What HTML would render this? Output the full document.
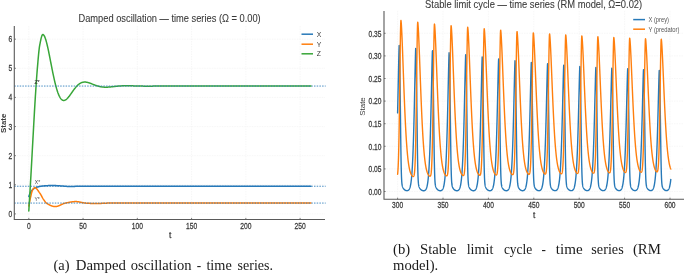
<!DOCTYPE html>
<html><head><meta charset="utf-8"><style>
html,body{margin:0;padding:0;background:#fff;}
body{width:685px;height:274px;overflow:hidden;}
svg{display:block;will-change:transform;}
</style></head><body>
<svg width="685" height="274" viewBox="0 0 685 274">
<rect width="685" height="274" fill="#fff"/>
<line x1="28.80" y1="26.00" x2="28.80" y2="219.50" stroke="#f3f3f3" stroke-width="0.7" stroke-dasharray="1.5,1"/>
<line x1="83.06" y1="26.00" x2="83.06" y2="219.50" stroke="#f3f3f3" stroke-width="0.7" stroke-dasharray="1.5,1"/>
<line x1="137.32" y1="26.00" x2="137.32" y2="219.50" stroke="#f3f3f3" stroke-width="0.7" stroke-dasharray="1.5,1"/>
<line x1="191.58" y1="26.00" x2="191.58" y2="219.50" stroke="#f3f3f3" stroke-width="0.7" stroke-dasharray="1.5,1"/>
<line x1="245.84" y1="26.00" x2="245.84" y2="219.50" stroke="#f3f3f3" stroke-width="0.7" stroke-dasharray="1.5,1"/>
<line x1="300.10" y1="26.00" x2="300.10" y2="219.50" stroke="#f3f3f3" stroke-width="0.7" stroke-dasharray="1.5,1"/>
<line x1="14.30" y1="213.90" x2="325.00" y2="213.90" stroke="#f3f3f3" stroke-width="0.7" stroke-dasharray="1.5,1"/>
<line x1="14.30" y1="184.78" x2="325.00" y2="184.78" stroke="#f3f3f3" stroke-width="0.7" stroke-dasharray="1.5,1"/>
<line x1="14.30" y1="155.66" x2="325.00" y2="155.66" stroke="#f3f3f3" stroke-width="0.7" stroke-dasharray="1.5,1"/>
<line x1="14.30" y1="126.54" x2="325.00" y2="126.54" stroke="#f3f3f3" stroke-width="0.7" stroke-dasharray="1.5,1"/>
<line x1="14.30" y1="97.42" x2="325.00" y2="97.42" stroke="#f3f3f3" stroke-width="0.7" stroke-dasharray="1.5,1"/>
<line x1="14.30" y1="68.30" x2="325.00" y2="68.30" stroke="#f3f3f3" stroke-width="0.7" stroke-dasharray="1.5,1"/>
<line x1="14.30" y1="39.18" x2="325.00" y2="39.18" stroke="#f3f3f3" stroke-width="0.7" stroke-dasharray="1.5,1"/>
<polyline points="28.80,196.43 29.02,195.85 29.23,195.29 29.45,194.75 29.67,194.23 29.89,193.73 30.10,193.27 30.32,192.85 30.54,192.46 30.75,192.11 30.97,191.77 31.19,191.44 31.40,191.13 31.62,190.82 31.84,190.54 32.06,190.27 32.27,190.02 32.49,189.78 32.71,189.56 32.92,189.37 33.14,189.19 33.36,189.03 33.57,188.87 33.79,188.73 34.01,188.58 34.23,188.45 34.44,188.31 34.66,188.19 34.88,188.07 35.09,187.95 35.31,187.84 35.53,187.74 35.75,187.64 35.96,187.55 36.18,187.46 36.40,187.37 36.61,187.30 36.83,187.22 37.05,187.15 37.26,187.09 37.48,187.03 37.70,186.97 37.92,186.91 38.13,186.85 38.35,186.80 38.57,186.74 38.78,186.69 39.00,186.64 39.22,186.58 39.43,186.53 39.65,186.49 39.87,186.44 40.09,186.39 40.30,186.35 40.52,186.31 40.74,186.27 40.95,186.23 41.17,186.19 41.39,186.15 41.61,186.12 41.82,186.09 42.04,186.06 42.26,186.03 42.47,186.00 42.69,185.98 42.91,185.95 43.12,185.93 43.34,185.91 43.56,185.89 43.78,185.88 43.99,185.86 44.21,185.85 44.43,185.83 44.64,185.82 44.86,185.80 45.08,185.79 45.30,185.78 45.51,185.76 45.73,185.75 45.95,185.74 46.16,185.72 46.38,185.71 46.60,185.70 46.81,185.69 47.03,185.67 47.25,185.66 47.47,185.65 47.68,185.64 47.90,185.63 48.12,185.62 48.33,185.61 48.55,185.60 48.77,185.59 48.98,185.58 49.20,185.57 49.42,185.57 49.64,185.56 49.85,185.55 50.07,185.55 50.29,185.54 50.50,185.54 50.72,185.53 50.94,185.53 51.16,185.52 51.37,185.52 51.59,185.51 51.81,185.51 52.02,185.51 52.24,185.51 52.46,185.51 52.67,185.51 52.89,185.51 53.11,185.51 53.33,185.51 53.54,185.52 53.76,185.52 53.98,185.52 54.19,185.53 54.41,185.54 54.63,185.54 54.84,185.55 55.06,185.56 55.28,185.57 55.50,185.58 55.71,185.59 55.93,185.60 56.15,185.61 56.36,185.63 56.58,185.64 56.80,185.65 57.02,185.66 57.23,185.68 57.45,185.69 57.67,185.70 57.88,185.72 58.10,185.73 58.32,185.75 58.53,185.76 58.75,185.78 58.97,185.79 59.19,185.81 59.40,185.82 59.62,185.84 59.84,185.85 60.05,185.86 60.27,185.88 60.49,185.89 60.70,185.91 60.92,185.92 61.14,185.93 61.36,185.94 61.57,185.96 61.79,185.97 62.01,185.99 62.22,186.00 62.44,186.02 62.66,186.04 62.88,186.05 63.09,186.07 63.31,186.09 63.53,186.11 63.74,186.13 63.96,186.15 64.18,186.17 64.39,186.19 64.61,186.21 64.83,186.23 65.05,186.24 65.26,186.26 65.48,186.28 65.70,186.30 65.91,186.32 66.13,186.33 66.35,186.35 66.56,186.37 66.78,186.38 67.00,186.40 67.22,186.41 67.43,186.42 67.65,186.43 67.87,186.44 68.08,186.45 68.30,186.46 68.52,186.46 68.74,186.47 68.95,186.47 69.17,186.47 69.39,186.47 69.60,186.47 69.82,186.47 70.04,186.47 70.25,186.46 70.47,186.46 70.69,186.46 70.91,186.46 71.12,186.46 71.34,186.45 71.56,186.45 71.77,186.45 71.99,186.44 72.21,186.44 72.43,186.44 72.64,186.43 72.86,186.43 73.08,186.42 73.29,186.42 73.51,186.41 73.73,186.41 73.94,186.41 74.16,186.40 74.38,186.40 74.60,186.39 74.81,186.38 75.03,186.38 75.25,186.37 75.46,186.37 75.68,186.36 75.90,186.36 76.11,186.35 76.33,186.35 76.55,186.34 76.77,186.34 76.98,186.33 77.20,186.33 77.42,186.32 77.63,186.31 77.85,186.31 78.07,186.30 78.29,186.30 78.50,186.29 78.72,186.29 78.94,186.29 79.15,186.28 79.37,186.28 79.59,186.27 79.80,186.27 80.02,186.26 80.24,186.26 80.46,186.26 80.67,186.25 80.89,186.25 81.11,186.25 81.32,186.25 81.54,186.24 81.76,186.24 81.97,186.24 82.19,186.24 82.41,186.24 82.63,186.24 82.84,186.24 83.06,186.24 83.28,186.24 83.49,186.24 83.71,186.24 83.93,186.24 84.15,186.24 84.36,186.24 84.58,186.24 84.80,186.24 85.01,186.24 85.23,186.24 85.45,186.24 85.66,186.24 85.88,186.24 86.10,186.24 86.32,186.24 86.53,186.24 86.75,186.24 86.97,186.24 87.18,186.24 87.40,186.24 87.62,186.24 87.83,186.24 88.05,186.24 88.27,186.24 88.49,186.24 88.70,186.24 88.92,186.24 89.14,186.24 89.35,186.24 89.57,186.24 89.79,186.24 90.01,186.24 90.22,186.24 90.44,186.24 90.66,186.24 90.87,186.24 91.09,186.24 91.31,186.24 91.52,186.24 91.74,186.24 91.96,186.24 92.18,186.24 92.39,186.24 92.61,186.24 92.83,186.24 93.04,186.24 93.26,186.24 93.48,186.24 93.69,186.24 93.91,186.24 94.13,186.24 94.35,186.24 94.56,186.24 94.78,186.24 95.00,186.24 95.21,186.24 95.43,186.24 95.65,186.24 95.87,186.24 96.08,186.24 96.30,186.24 96.52,186.24 96.73,186.24 96.95,186.24 97.17,186.24 97.38,186.24 97.60,186.24 97.82,186.24 98.04,186.24 98.25,186.24 98.47,186.24 98.69,186.24 98.90,186.24 99.12,186.24 99.34,186.24 99.56,186.24 99.77,186.24 99.99,186.24 100.21,186.24 100.42,186.24 100.64,186.24 100.86,186.24 101.07,186.24 101.29,186.24 101.51,186.24 101.73,186.24 101.94,186.24 102.16,186.24 102.38,186.24 102.59,186.24 102.81,186.24 103.03,186.24 103.24,186.24 103.46,186.24 103.68,186.24 103.90,186.24 104.11,186.24 104.33,186.24 104.55,186.24 104.76,186.24 104.98,186.24 105.20,186.24 105.42,186.24 105.63,186.24 105.85,186.24 106.07,186.24 106.28,186.24 106.50,186.24 106.72,186.24 106.93,186.24 107.15,186.24 107.37,186.24 107.59,186.24 107.80,186.24 108.02,186.24 108.24,186.24 108.45,186.24 108.67,186.24 108.89,186.24 109.10,186.24 109.32,186.24 109.54,186.24 109.76,186.24 109.97,186.24 110.19,186.24 110.41,186.24 110.62,186.24 110.84,186.24 111.06,186.24 111.28,186.24 111.49,186.24 111.71,186.24 111.93,186.24 112.14,186.24 112.36,186.24 112.58,186.24 112.79,186.24 113.01,186.24 113.23,186.24 113.45,186.24 113.66,186.24 113.88,186.24 114.10,186.24 114.31,186.24 114.53,186.24 114.75,186.24 114.96,186.24 115.18,186.24 115.40,186.24 115.62,186.24 115.83,186.24 116.05,186.24 116.27,186.24 116.48,186.24 116.70,186.24 116.92,186.24 117.14,186.24 117.35,186.24 117.57,186.24 117.79,186.24 118.00,186.24 118.22,186.24 118.44,186.24 118.65,186.24 118.87,186.24 119.09,186.24 119.31,186.24 119.52,186.24 119.74,186.24 119.96,186.24 120.17,186.24 120.39,186.24 120.61,186.24 120.82,186.24 121.04,186.24 121.26,186.24 121.48,186.24 121.69,186.24 121.91,186.24 122.13,186.24 122.34,186.24 122.56,186.24 122.78,186.24 123.00,186.24 123.21,186.24 123.43,186.24 123.65,186.24 123.86,186.24 124.08,186.24 124.30,186.24 124.51,186.24 124.73,186.24 124.95,186.24 125.17,186.24 125.38,186.24 125.60,186.24 125.82,186.24 126.03,186.24 126.25,186.24 126.47,186.24 126.69,186.24 126.90,186.24 127.12,186.24 127.34,186.24 127.55,186.24 127.77,186.24 127.99,186.24 128.20,186.24 128.42,186.24 128.64,186.24 128.86,186.24 129.07,186.24 129.29,186.24 129.51,186.24 129.72,186.24 129.94,186.24 130.16,186.24 130.37,186.24 130.59,186.24 130.81,186.24 131.03,186.24 131.24,186.24 131.46,186.24 131.68,186.24 131.89,186.24 132.11,186.24 132.33,186.24 132.55,186.24 132.76,186.24 132.98,186.24 133.20,186.24 133.41,186.24 133.63,186.24 133.85,186.24 134.06,186.24 134.28,186.24 134.50,186.24 134.72,186.24 134.93,186.24 135.15,186.24 135.37,186.24 135.58,186.24 135.80,186.24 136.02,186.24 136.23,186.24 136.45,186.24 136.67,186.24 136.89,186.24 137.10,186.24 137.32,186.24 137.54,186.24 137.75,186.24 137.97,186.24 138.19,186.24 138.41,186.24 138.62,186.24 138.84,186.24 139.06,186.24 139.27,186.24 139.49,186.24 139.71,186.24 139.92,186.24 140.14,186.24 140.36,186.24 140.58,186.24 140.79,186.24 141.01,186.24 141.23,186.24 141.44,186.24 141.66,186.24 141.88,186.24 142.09,186.24 142.31,186.24 142.53,186.24 142.75,186.24 142.96,186.24 143.18,186.24 143.40,186.24 143.61,186.24 143.83,186.24 144.05,186.24 144.27,186.24 144.48,186.24 144.70,186.24 144.92,186.24 145.13,186.24 145.35,186.24 145.57,186.24 145.78,186.24 146.00,186.24 146.22,186.24 146.44,186.24 146.65,186.24 146.87,186.24 147.09,186.24 147.30,186.24 147.52,186.24 147.74,186.24 147.95,186.24 148.17,186.24 148.39,186.24 148.61,186.24 148.82,186.24 149.04,186.24 149.26,186.24 149.47,186.24 149.69,186.24 149.91,186.24 150.13,186.24 150.34,186.24 150.56,186.24 150.78,186.24 150.99,186.24 151.21,186.24 151.43,186.24 151.64,186.24 151.86,186.24 152.08,186.24 152.30,186.24 152.51,186.24 152.73,186.24 152.95,186.24 153.16,186.24 153.38,186.24 153.60,186.24 153.82,186.24 154.03,186.24 154.25,186.24 154.47,186.24 154.68,186.24 154.90,186.24 155.12,186.24 155.33,186.24 155.55,186.24 155.77,186.24 155.99,186.24 156.20,186.24 156.42,186.24 156.64,186.24 156.85,186.24 157.07,186.24 157.29,186.24 157.50,186.24 157.72,186.24 157.94,186.24 158.16,186.24 158.37,186.24 158.59,186.24 158.81,186.24 159.02,186.24 159.24,186.24 159.46,186.24 159.68,186.24 159.89,186.24 160.11,186.24 160.33,186.24 160.54,186.24 160.76,186.24 160.98,186.24 161.19,186.24 161.41,186.24 161.63,186.24 161.85,186.24 162.06,186.24 162.28,186.24 162.50,186.24 162.71,186.24 162.93,186.24 163.15,186.24 163.36,186.24 163.58,186.24 163.80,186.24 164.02,186.24 164.23,186.24 164.45,186.24 164.67,186.24 164.88,186.24 165.10,186.24 165.32,186.24 165.54,186.24 165.75,186.24 165.97,186.24 166.19,186.24 166.40,186.24 166.62,186.24 166.84,186.24 167.05,186.24 167.27,186.24 167.49,186.24 167.71,186.24 167.92,186.24 168.14,186.24 168.36,186.24 168.57,186.24 168.79,186.24 169.01,186.24 169.22,186.24 169.44,186.24 169.66,186.24 169.88,186.24 170.09,186.24 170.31,186.24 170.53,186.24 170.74,186.24 170.96,186.24 171.18,186.24 171.40,186.24 171.61,186.24 171.83,186.24 172.05,186.24 172.26,186.24 172.48,186.24 172.70,186.24 172.91,186.24 173.13,186.24 173.35,186.24 173.57,186.24 173.78,186.24 174.00,186.24 174.22,186.24 174.43,186.24 174.65,186.24 174.87,186.24 175.08,186.24 175.30,186.24 175.52,186.24 175.74,186.24 175.95,186.24 176.17,186.24 176.39,186.24 176.60,186.24 176.82,186.24 177.04,186.24 177.26,186.24 177.47,186.24 177.69,186.24 177.91,186.24 178.12,186.24 178.34,186.24 178.56,186.24 178.77,186.24 178.99,186.24 179.21,186.24 179.43,186.24 179.64,186.24 179.86,186.24 180.08,186.24 180.29,186.24 180.51,186.24 180.73,186.24 180.95,186.24 181.16,186.24 181.38,186.24 181.60,186.24 181.81,186.24 182.03,186.24 182.25,186.24 182.46,186.24 182.68,186.24 182.90,186.24 183.12,186.24 183.33,186.24 183.55,186.24 183.77,186.24 183.98,186.24 184.20,186.24 184.42,186.24 184.63,186.24 184.85,186.24 185.07,186.24 185.29,186.24 185.50,186.24 185.72,186.24 185.94,186.24 186.15,186.24 186.37,186.24 186.59,186.24 186.81,186.24 187.02,186.24 187.24,186.24 187.46,186.24 187.67,186.24 187.89,186.24 188.11,186.24 188.32,186.24 188.54,186.24 188.76,186.24 188.98,186.24 189.19,186.24 189.41,186.24 189.63,186.24 189.84,186.24 190.06,186.24 190.28,186.24 190.49,186.24 190.71,186.24 190.93,186.24 191.15,186.24 191.36,186.24 191.58,186.24 191.80,186.24 192.01,186.24 192.23,186.24 192.45,186.24 192.67,186.24 192.88,186.24 193.10,186.24 193.32,186.24 193.53,186.24 193.75,186.24 193.97,186.24 194.18,186.24 194.40,186.24 194.62,186.24 194.84,186.24 195.05,186.24 195.27,186.24 195.49,186.24 195.70,186.24 195.92,186.24 196.14,186.24 196.35,186.24 196.57,186.24 196.79,186.24 197.01,186.24 197.22,186.24 197.44,186.24 197.66,186.24 197.87,186.24 198.09,186.24 198.31,186.24 198.53,186.24 198.74,186.24 198.96,186.24 199.18,186.24 199.39,186.24 199.61,186.24 199.83,186.24 200.04,186.24 200.26,186.24 200.48,186.24 200.70,186.24 200.91,186.24 201.13,186.24 201.35,186.24 201.56,186.24 201.78,186.24 202.00,186.24 202.21,186.24 202.43,186.24 202.65,186.24 202.87,186.24 203.08,186.24 203.30,186.24 203.52,186.24 203.73,186.24 203.95,186.24 204.17,186.24 204.39,186.24 204.60,186.24 204.82,186.24 205.04,186.24 205.25,186.24 205.47,186.24 205.69,186.24 205.90,186.24 206.12,186.24 206.34,186.24 206.56,186.24 206.77,186.24 206.99,186.24 207.21,186.24 207.42,186.24 207.64,186.24 207.86,186.24 208.08,186.24 208.29,186.24 208.51,186.24 208.73,186.24 208.94,186.24 209.16,186.24 209.38,186.24 209.59,186.24 209.81,186.24 210.03,186.24 210.25,186.24 210.46,186.24 210.68,186.24 210.90,186.24 211.11,186.24 211.33,186.24 211.55,186.24 211.76,186.24 211.98,186.24 212.20,186.24 212.42,186.24 212.63,186.24 212.85,186.24 213.07,186.24 213.28,186.24 213.50,186.24 213.72,186.24 213.94,186.24 214.15,186.24 214.37,186.24 214.59,186.24 214.80,186.24 215.02,186.24 215.24,186.24 215.45,186.24 215.67,186.24 215.89,186.24 216.11,186.24 216.32,186.24 216.54,186.24 216.76,186.24 216.97,186.24 217.19,186.24 217.41,186.24 217.62,186.24 217.84,186.24 218.06,186.24 218.28,186.24 218.49,186.24 218.71,186.24 218.93,186.24 219.14,186.24 219.36,186.24 219.58,186.24 219.80,186.24 220.01,186.24 220.23,186.24 220.45,186.24 220.66,186.24 220.88,186.24 221.10,186.24 221.31,186.24 221.53,186.24 221.75,186.24 221.97,186.24 222.18,186.24 222.40,186.24 222.62,186.24 222.83,186.24 223.05,186.24 223.27,186.24 223.48,186.24 223.70,186.24 223.92,186.24 224.14,186.24 224.35,186.24 224.57,186.24 224.79,186.24 225.00,186.24 225.22,186.24 225.44,186.24 225.66,186.24 225.87,186.24 226.09,186.24 226.31,186.24 226.52,186.24 226.74,186.24 226.96,186.24 227.17,186.24 227.39,186.24 227.61,186.24 227.83,186.24 228.04,186.24 228.26,186.24 228.48,186.24 228.69,186.24 228.91,186.24 229.13,186.24 229.34,186.24 229.56,186.24 229.78,186.24 230.00,186.24 230.21,186.24 230.43,186.24 230.65,186.24 230.86,186.24 231.08,186.24 231.30,186.24 231.52,186.24 231.73,186.24 231.95,186.24 232.17,186.24 232.38,186.24 232.60,186.24 232.82,186.24 233.03,186.24 233.25,186.24 233.47,186.24 233.69,186.24 233.90,186.24 234.12,186.24 234.34,186.24 234.55,186.24 234.77,186.24 234.99,186.24 235.21,186.24 235.42,186.24 235.64,186.24 235.86,186.24 236.07,186.24 236.29,186.24 236.51,186.24 236.72,186.24 236.94,186.24 237.16,186.24 237.38,186.24 237.59,186.24 237.81,186.24 238.03,186.24 238.24,186.24 238.46,186.24 238.68,186.24 238.89,186.24 239.11,186.24 239.33,186.24 239.55,186.24 239.76,186.24 239.98,186.24 240.20,186.24 240.41,186.24 240.63,186.24 240.85,186.24 241.07,186.24 241.28,186.24 241.50,186.24 241.72,186.24 241.93,186.24 242.15,186.24 242.37,186.24 242.58,186.24 242.80,186.24 243.02,186.24 243.24,186.24 243.45,186.24 243.67,186.24 243.89,186.24 244.10,186.24 244.32,186.24 244.54,186.24 244.75,186.24 244.97,186.24 245.19,186.24 245.41,186.24 245.62,186.24 245.84,186.24 246.06,186.24 246.27,186.24 246.49,186.24 246.71,186.24 246.93,186.24 247.14,186.24 247.36,186.24 247.58,186.24 247.79,186.24 248.01,186.24 248.23,186.24 248.44,186.24 248.66,186.24 248.88,186.24 249.10,186.24 249.31,186.24 249.53,186.24 249.75,186.24 249.96,186.24 250.18,186.24 250.40,186.24 250.61,186.24 250.83,186.24 251.05,186.24 251.27,186.24 251.48,186.24 251.70,186.24 251.92,186.24 252.13,186.24 252.35,186.24 252.57,186.24 252.79,186.24 253.00,186.24 253.22,186.24 253.44,186.24 253.65,186.24 253.87,186.24 254.09,186.24 254.30,186.24 254.52,186.24 254.74,186.24 254.96,186.24 255.17,186.24 255.39,186.24 255.61,186.24 255.82,186.24 256.04,186.24 256.26,186.24 256.47,186.24 256.69,186.24 256.91,186.24 257.13,186.24 257.34,186.24 257.56,186.24 257.78,186.24 257.99,186.24 258.21,186.24 258.43,186.24 258.65,186.24 258.86,186.24 259.08,186.24 259.30,186.24 259.51,186.24 259.73,186.24 259.95,186.24 260.16,186.24 260.38,186.24 260.60,186.24 260.82,186.24 261.03,186.24 261.25,186.24 261.47,186.24 261.68,186.24 261.90,186.24 262.12,186.24 262.34,186.24 262.55,186.24 262.77,186.24 262.99,186.24 263.20,186.24 263.42,186.24 263.64,186.24 263.85,186.24 264.07,186.24 264.29,186.24 264.51,186.24 264.72,186.24 264.94,186.24 265.16,186.24 265.37,186.24 265.59,186.24 265.81,186.24 266.02,186.24 266.24,186.24 266.46,186.24 266.68,186.24 266.89,186.24 267.11,186.24 267.33,186.24 267.54,186.24 267.76,186.24 267.98,186.24 268.20,186.24 268.41,186.24 268.63,186.24 268.85,186.24 269.06,186.24 269.28,186.24 269.50,186.24 269.71,186.24 269.93,186.24 270.15,186.24 270.37,186.24 270.58,186.24 270.80,186.24 271.02,186.24 271.23,186.24 271.45,186.24 271.67,186.24 271.88,186.24 272.10,186.24 272.32,186.24 272.54,186.24 272.75,186.24 272.97,186.24 273.19,186.24 273.40,186.24 273.62,186.24 273.84,186.24 274.06,186.24 274.27,186.24 274.49,186.24 274.71,186.24 274.92,186.24 275.14,186.24 275.36,186.24 275.57,186.24 275.79,186.24 276.01,186.24 276.23,186.24 276.44,186.24 276.66,186.24 276.88,186.24 277.09,186.24 277.31,186.24 277.53,186.24 277.74,186.24 277.96,186.24 278.18,186.24 278.40,186.24 278.61,186.24 278.83,186.24 279.05,186.24 279.26,186.24 279.48,186.24 279.70,186.24 279.92,186.24 280.13,186.24 280.35,186.24 280.57,186.24 280.78,186.24 281.00,186.24 281.22,186.24 281.43,186.24 281.65,186.24 281.87,186.24 282.09,186.24 282.30,186.24 282.52,186.24 282.74,186.24 282.95,186.24 283.17,186.24 283.39,186.24 283.60,186.24 283.82,186.24 284.04,186.24 284.26,186.24 284.47,186.24 284.69,186.24 284.91,186.24 285.12,186.24 285.34,186.24 285.56,186.24 285.78,186.24 285.99,186.24 286.21,186.24 286.43,186.24 286.64,186.24 286.86,186.24 287.08,186.24 287.29,186.24 287.51,186.24 287.73,186.24 287.95,186.24 288.16,186.24 288.38,186.24 288.60,186.24 288.81,186.24 289.03,186.24 289.25,186.24 289.47,186.24 289.68,186.24 289.90,186.24 290.12,186.24 290.33,186.24 290.55,186.24 290.77,186.24 290.98,186.24 291.20,186.24 291.42,186.24 291.64,186.24 291.85,186.24 292.07,186.24 292.29,186.24 292.50,186.24 292.72,186.24 292.94,186.24 293.15,186.24 293.37,186.24 293.59,186.24 293.81,186.24 294.02,186.24 294.24,186.24 294.46,186.24 294.67,186.24 294.89,186.24 295.11,186.24 295.33,186.24 295.54,186.24 295.76,186.24 295.98,186.24 296.19,186.24 296.41,186.24 296.63,186.24 296.84,186.24 297.06,186.24 297.28,186.24 297.50,186.24 297.71,186.24 297.93,186.24 298.15,186.24 298.36,186.24 298.58,186.24 298.80,186.24 299.01,186.24 299.23,186.24 299.45,186.24 299.67,186.24 299.88,186.24 300.10,186.24 300.32,186.24 300.53,186.24 300.75,186.24 300.97,186.24 301.19,186.24 301.40,186.24 301.62,186.24 301.84,186.24 302.05,186.24 302.27,186.24 302.49,186.24 302.70,186.24 302.92,186.24 303.14,186.24 303.36,186.24 303.57,186.24 303.79,186.24 304.01,186.24 304.22,186.24 304.44,186.24 304.66,186.24 304.87,186.24 305.09,186.24 305.31,186.24 305.53,186.24 305.74,186.24 305.96,186.24 306.18,186.24 306.39,186.24 306.61,186.24 306.83,186.24 307.05,186.24 307.26,186.24 307.48,186.24 307.70,186.24 307.91,186.24 308.13,186.24 308.35,186.24 308.56,186.24 308.78,186.24 309.00,186.24 309.22,186.24 309.43,186.24 309.65,186.24 309.87,186.24 310.08,186.24 310.30,186.24 310.52,186.24 310.73,186.24 310.95,186.24" fill="none" stroke="#2779b8" stroke-width="1.5" stroke-linejoin="round" stroke-linecap="round" />
<polyline points="28.80,206.04 29.02,204.83 29.23,203.66 29.45,202.52 29.67,201.41 29.89,200.34 30.10,199.32 30.32,198.35 30.54,197.42 30.75,196.48 30.97,195.53 31.19,194.59 31.40,193.68 31.62,192.82 31.84,192.02 32.06,191.31 32.27,190.70 32.49,190.21 32.71,189.85 32.92,189.51 33.14,189.18 33.36,188.87 33.57,188.59 33.79,188.34 34.01,188.13 34.23,187.96 34.44,187.83 34.66,187.76 34.88,187.75 35.09,187.78 35.31,187.84 35.53,187.94 35.75,188.06 35.96,188.21 36.18,188.39 36.40,188.58 36.61,188.80 36.83,189.04 37.05,189.29 37.26,189.56 37.48,189.84 37.70,190.13 37.92,190.43 38.13,190.74 38.35,191.05 38.57,191.37 38.78,191.68 39.00,192.00 39.22,192.30 39.43,192.61 39.65,192.91 39.87,193.20 40.09,193.51 40.30,193.84 40.52,194.19 40.74,194.56 40.95,194.94 41.17,195.33 41.39,195.73 41.61,196.13 41.82,196.53 42.04,196.94 42.26,197.34 42.47,197.73 42.69,198.12 42.91,198.49 43.12,198.85 43.34,199.19 43.56,199.51 43.78,199.81 43.99,200.11 44.21,200.41 44.43,200.71 44.64,201.01 44.86,201.30 45.08,201.59 45.30,201.87 45.51,202.13 45.73,202.39 45.95,202.63 46.16,202.86 46.38,203.06 46.60,203.25 46.81,203.42 47.03,203.56 47.25,203.69 47.47,203.82 47.68,203.95 47.90,204.07 48.12,204.20 48.33,204.32 48.55,204.44 48.77,204.56 48.98,204.68 49.20,204.79 49.42,204.90 49.64,205.01 49.85,205.12 50.07,205.22 50.29,205.32 50.50,205.42 50.72,205.52 50.94,205.61 51.16,205.70 51.37,205.78 51.59,205.86 51.81,205.94 52.02,206.02 52.24,206.09 52.46,206.15 52.67,206.21 52.89,206.27 53.11,206.33 53.33,206.37 53.54,206.42 53.76,206.46 53.98,206.49 54.19,206.52 54.41,206.55 54.63,206.57 54.84,206.58 55.06,206.59 55.28,206.59 55.50,206.59 55.71,206.58 55.93,206.56 56.15,206.53 56.36,206.50 56.58,206.46 56.80,206.42 57.02,206.37 57.23,206.31 57.45,206.25 57.67,206.19 57.88,206.12 58.10,206.05 58.32,205.97 58.53,205.89 58.75,205.80 58.97,205.71 59.19,205.62 59.40,205.53 59.62,205.44 59.84,205.34 60.05,205.24 60.27,205.14 60.49,205.04 60.70,204.94 60.92,204.83 61.14,204.73 61.36,204.63 61.57,204.52 61.79,204.42 62.01,204.32 62.22,204.22 62.44,204.12 62.66,204.03 62.88,203.93 63.09,203.84 63.31,203.75 63.53,203.67 63.74,203.58 63.96,203.50 64.18,203.43 64.39,203.35 64.61,203.29 64.83,203.22 65.05,203.17 65.26,203.11 65.48,203.07 65.70,203.02 65.91,202.98 66.13,202.93 66.35,202.89 66.56,202.84 66.78,202.80 67.00,202.76 67.22,202.71 67.43,202.67 67.65,202.62 67.87,202.58 68.08,202.53 68.30,202.49 68.52,202.45 68.74,202.41 68.95,202.36 69.17,202.32 69.39,202.28 69.60,202.24 69.82,202.20 70.04,202.16 70.25,202.13 70.47,202.09 70.69,202.05 70.91,202.02 71.12,201.98 71.34,201.95 71.56,201.92 71.77,201.89 71.99,201.86 72.21,201.83 72.43,201.80 72.64,201.78 72.86,201.75 73.08,201.73 73.29,201.71 73.51,201.69 73.73,201.67 73.94,201.65 74.16,201.64 74.38,201.62 74.60,201.61 74.81,201.60 75.03,201.59 75.25,201.59 75.46,201.58 75.68,201.58 75.90,201.58 76.11,201.59 76.33,201.59 76.55,201.60 76.77,201.62 76.98,201.64 77.20,201.65 77.42,201.68 77.63,201.70 77.85,201.73 78.07,201.76 78.29,201.79 78.50,201.83 78.72,201.86 78.94,201.90 79.15,201.94 79.37,201.98 79.59,202.02 79.80,202.07 80.02,202.11 80.24,202.15 80.46,202.20 80.67,202.25 80.89,202.29 81.11,202.34 81.32,202.39 81.54,202.43 81.76,202.48 81.97,202.52 82.19,202.57 82.41,202.61 82.63,202.66 82.84,202.70 83.06,202.74 83.28,202.78 83.49,202.82 83.71,202.85 83.93,202.89 84.15,202.92 84.36,202.95 84.58,202.98 84.80,203.01 85.01,203.03 85.23,203.05 85.45,203.07 85.66,203.08 85.88,203.10 86.10,203.12 86.32,203.13 86.53,203.15 86.75,203.16 86.97,203.18 87.18,203.20 87.40,203.21 87.62,203.23 87.83,203.24 88.05,203.26 88.27,203.27 88.49,203.29 88.70,203.30 88.92,203.31 89.14,203.33 89.35,203.34 89.57,203.36 89.79,203.37 90.01,203.38 90.22,203.39 90.44,203.41 90.66,203.42 90.87,203.43 91.09,203.44 91.31,203.45 91.52,203.46 91.74,203.47 91.96,203.48 92.18,203.49 92.39,203.50 92.61,203.51 92.83,203.51 93.04,203.52 93.26,203.53 93.48,203.53 93.69,203.54 93.91,203.54 94.13,203.55 94.35,203.55 94.56,203.56 94.78,203.56 95.00,203.56 95.21,203.56 95.43,203.56 95.65,203.56 95.87,203.56 96.08,203.56 96.30,203.56 96.52,203.56 96.73,203.55 96.95,203.55 97.17,203.55 97.38,203.54 97.60,203.54 97.82,203.53 98.04,203.52 98.25,203.52 98.47,203.51 98.69,203.50 98.90,203.50 99.12,203.49 99.34,203.48 99.56,203.47 99.77,203.46 99.99,203.45 100.21,203.44 100.42,203.43 100.64,203.42 100.86,203.41 101.07,203.40 101.29,203.39 101.51,203.38 101.73,203.37 101.94,203.36 102.16,203.35 102.38,203.34 102.59,203.33 102.81,203.32 103.03,203.31 103.24,203.30 103.46,203.28 103.68,203.27 103.90,203.26 104.11,203.25 104.33,203.24 104.55,203.23 104.76,203.22 104.98,203.21 105.20,203.20 105.42,203.19 105.63,203.18 105.85,203.17 106.07,203.16 106.28,203.15 106.50,203.15 106.72,203.14 106.93,203.13 107.15,203.12 107.37,203.12 107.59,203.11 107.80,203.10 108.02,203.10 108.24,203.09 108.45,203.09 108.67,203.08 108.89,203.08 109.10,203.08 109.32,203.07 109.54,203.07 109.76,203.07 109.97,203.07 110.19,203.07 110.41,203.07 110.62,203.07 110.84,203.07 111.06,203.07 111.28,203.07 111.49,203.07 111.71,203.07 111.93,203.07 112.14,203.07 112.36,203.07 112.58,203.07 112.79,203.07 113.01,203.07 113.23,203.07 113.45,203.07 113.66,203.07 113.88,203.07 114.10,203.07 114.31,203.07 114.53,203.07 114.75,203.07 114.96,203.07 115.18,203.07 115.40,203.07 115.62,203.07 115.83,203.07 116.05,203.07 116.27,203.07 116.48,203.07 116.70,203.07 116.92,203.07 117.14,203.07 117.35,203.07 117.57,203.07 117.79,203.07 118.00,203.07 118.22,203.07 118.44,203.07 118.65,203.07 118.87,203.07 119.09,203.07 119.31,203.07 119.52,203.07 119.74,203.07 119.96,203.07 120.17,203.07 120.39,203.07 120.61,203.07 120.82,203.07 121.04,203.07 121.26,203.07 121.48,203.07 121.69,203.07 121.91,203.07 122.13,203.07 122.34,203.07 122.56,203.07 122.78,203.07 123.00,203.07 123.21,203.07 123.43,203.07 123.65,203.07 123.86,203.07 124.08,203.07 124.30,203.07 124.51,203.07 124.73,203.07 124.95,203.07 125.17,203.07 125.38,203.07 125.60,203.07 125.82,203.07 126.03,203.07 126.25,203.07 126.47,203.07 126.69,203.07 126.90,203.07 127.12,203.07 127.34,203.07 127.55,203.07 127.77,203.07 127.99,203.07 128.20,203.07 128.42,203.07 128.64,203.07 128.86,203.07 129.07,203.07 129.29,203.07 129.51,203.07 129.72,203.07 129.94,203.07 130.16,203.07 130.37,203.07 130.59,203.07 130.81,203.07 131.03,203.07 131.24,203.07 131.46,203.07 131.68,203.07 131.89,203.07 132.11,203.07 132.33,203.07 132.55,203.07 132.76,203.07 132.98,203.07 133.20,203.07 133.41,203.07 133.63,203.07 133.85,203.07 134.06,203.07 134.28,203.07 134.50,203.07 134.72,203.07 134.93,203.07 135.15,203.07 135.37,203.07 135.58,203.07 135.80,203.07 136.02,203.07 136.23,203.07 136.45,203.07 136.67,203.07 136.89,203.07 137.10,203.07 137.32,203.07 137.54,203.07 137.75,203.07 137.97,203.07 138.19,203.07 138.41,203.07 138.62,203.07 138.84,203.07 139.06,203.07 139.27,203.07 139.49,203.07 139.71,203.07 139.92,203.07 140.14,203.07 140.36,203.07 140.58,203.07 140.79,203.07 141.01,203.07 141.23,203.07 141.44,203.07 141.66,203.07 141.88,203.07 142.09,203.07 142.31,203.07 142.53,203.07 142.75,203.07 142.96,203.07 143.18,203.07 143.40,203.07 143.61,203.07 143.83,203.07 144.05,203.07 144.27,203.07 144.48,203.07 144.70,203.07 144.92,203.07 145.13,203.07 145.35,203.07 145.57,203.07 145.78,203.07 146.00,203.07 146.22,203.07 146.44,203.07 146.65,203.07 146.87,203.07 147.09,203.07 147.30,203.07 147.52,203.07 147.74,203.07 147.95,203.07 148.17,203.07 148.39,203.07 148.61,203.07 148.82,203.07 149.04,203.07 149.26,203.07 149.47,203.07 149.69,203.07 149.91,203.07 150.13,203.07 150.34,203.07 150.56,203.07 150.78,203.07 150.99,203.07 151.21,203.07 151.43,203.07 151.64,203.07 151.86,203.07 152.08,203.07 152.30,203.07 152.51,203.07 152.73,203.07 152.95,203.07 153.16,203.07 153.38,203.07 153.60,203.07 153.82,203.07 154.03,203.07 154.25,203.07 154.47,203.07 154.68,203.07 154.90,203.07 155.12,203.07 155.33,203.07 155.55,203.07 155.77,203.07 155.99,203.07 156.20,203.07 156.42,203.07 156.64,203.07 156.85,203.07 157.07,203.07 157.29,203.07 157.50,203.07 157.72,203.07 157.94,203.07 158.16,203.07 158.37,203.07 158.59,203.07 158.81,203.07 159.02,203.07 159.24,203.07 159.46,203.07 159.68,203.07 159.89,203.07 160.11,203.07 160.33,203.07 160.54,203.07 160.76,203.07 160.98,203.07 161.19,203.07 161.41,203.07 161.63,203.07 161.85,203.07 162.06,203.07 162.28,203.07 162.50,203.07 162.71,203.07 162.93,203.07 163.15,203.07 163.36,203.07 163.58,203.07 163.80,203.07 164.02,203.07 164.23,203.07 164.45,203.07 164.67,203.07 164.88,203.07 165.10,203.07 165.32,203.07 165.54,203.07 165.75,203.07 165.97,203.07 166.19,203.07 166.40,203.07 166.62,203.07 166.84,203.07 167.05,203.07 167.27,203.07 167.49,203.07 167.71,203.07 167.92,203.07 168.14,203.07 168.36,203.07 168.57,203.07 168.79,203.07 169.01,203.07 169.22,203.07 169.44,203.07 169.66,203.07 169.88,203.07 170.09,203.07 170.31,203.07 170.53,203.07 170.74,203.07 170.96,203.07 171.18,203.07 171.40,203.07 171.61,203.07 171.83,203.07 172.05,203.07 172.26,203.07 172.48,203.07 172.70,203.07 172.91,203.07 173.13,203.07 173.35,203.07 173.57,203.07 173.78,203.07 174.00,203.07 174.22,203.07 174.43,203.07 174.65,203.07 174.87,203.07 175.08,203.07 175.30,203.07 175.52,203.07 175.74,203.07 175.95,203.07 176.17,203.07 176.39,203.07 176.60,203.07 176.82,203.07 177.04,203.07 177.26,203.07 177.47,203.07 177.69,203.07 177.91,203.07 178.12,203.07 178.34,203.07 178.56,203.07 178.77,203.07 178.99,203.07 179.21,203.07 179.43,203.07 179.64,203.07 179.86,203.07 180.08,203.07 180.29,203.07 180.51,203.07 180.73,203.07 180.95,203.07 181.16,203.07 181.38,203.07 181.60,203.07 181.81,203.07 182.03,203.07 182.25,203.07 182.46,203.07 182.68,203.07 182.90,203.07 183.12,203.07 183.33,203.07 183.55,203.07 183.77,203.07 183.98,203.07 184.20,203.07 184.42,203.07 184.63,203.07 184.85,203.07 185.07,203.07 185.29,203.07 185.50,203.07 185.72,203.07 185.94,203.07 186.15,203.07 186.37,203.07 186.59,203.07 186.81,203.07 187.02,203.07 187.24,203.07 187.46,203.07 187.67,203.07 187.89,203.07 188.11,203.07 188.32,203.07 188.54,203.07 188.76,203.07 188.98,203.07 189.19,203.07 189.41,203.07 189.63,203.07 189.84,203.07 190.06,203.07 190.28,203.07 190.49,203.07 190.71,203.07 190.93,203.07 191.15,203.07 191.36,203.07 191.58,203.07 191.80,203.07 192.01,203.07 192.23,203.07 192.45,203.07 192.67,203.07 192.88,203.07 193.10,203.07 193.32,203.07 193.53,203.07 193.75,203.07 193.97,203.07 194.18,203.07 194.40,203.07 194.62,203.07 194.84,203.07 195.05,203.07 195.27,203.07 195.49,203.07 195.70,203.07 195.92,203.07 196.14,203.07 196.35,203.07 196.57,203.07 196.79,203.07 197.01,203.07 197.22,203.07 197.44,203.07 197.66,203.07 197.87,203.07 198.09,203.07 198.31,203.07 198.53,203.07 198.74,203.07 198.96,203.07 199.18,203.07 199.39,203.07 199.61,203.07 199.83,203.07 200.04,203.07 200.26,203.07 200.48,203.07 200.70,203.07 200.91,203.07 201.13,203.07 201.35,203.07 201.56,203.07 201.78,203.07 202.00,203.07 202.21,203.07 202.43,203.07 202.65,203.07 202.87,203.07 203.08,203.07 203.30,203.07 203.52,203.07 203.73,203.07 203.95,203.07 204.17,203.07 204.39,203.07 204.60,203.07 204.82,203.07 205.04,203.07 205.25,203.07 205.47,203.07 205.69,203.07 205.90,203.07 206.12,203.07 206.34,203.07 206.56,203.07 206.77,203.07 206.99,203.07 207.21,203.07 207.42,203.07 207.64,203.07 207.86,203.07 208.08,203.07 208.29,203.07 208.51,203.07 208.73,203.07 208.94,203.07 209.16,203.07 209.38,203.07 209.59,203.07 209.81,203.07 210.03,203.07 210.25,203.07 210.46,203.07 210.68,203.07 210.90,203.07 211.11,203.07 211.33,203.07 211.55,203.07 211.76,203.07 211.98,203.07 212.20,203.07 212.42,203.07 212.63,203.07 212.85,203.07 213.07,203.07 213.28,203.07 213.50,203.07 213.72,203.07 213.94,203.07 214.15,203.07 214.37,203.07 214.59,203.07 214.80,203.07 215.02,203.07 215.24,203.07 215.45,203.07 215.67,203.07 215.89,203.07 216.11,203.07 216.32,203.07 216.54,203.07 216.76,203.07 216.97,203.07 217.19,203.07 217.41,203.07 217.62,203.07 217.84,203.07 218.06,203.07 218.28,203.07 218.49,203.07 218.71,203.07 218.93,203.07 219.14,203.07 219.36,203.07 219.58,203.07 219.80,203.07 220.01,203.07 220.23,203.07 220.45,203.07 220.66,203.07 220.88,203.07 221.10,203.07 221.31,203.07 221.53,203.07 221.75,203.07 221.97,203.07 222.18,203.07 222.40,203.07 222.62,203.07 222.83,203.07 223.05,203.07 223.27,203.07 223.48,203.07 223.70,203.07 223.92,203.07 224.14,203.07 224.35,203.07 224.57,203.07 224.79,203.07 225.00,203.07 225.22,203.07 225.44,203.07 225.66,203.07 225.87,203.07 226.09,203.07 226.31,203.07 226.52,203.07 226.74,203.07 226.96,203.07 227.17,203.07 227.39,203.07 227.61,203.07 227.83,203.07 228.04,203.07 228.26,203.07 228.48,203.07 228.69,203.07 228.91,203.07 229.13,203.07 229.34,203.07 229.56,203.07 229.78,203.07 230.00,203.07 230.21,203.07 230.43,203.07 230.65,203.07 230.86,203.07 231.08,203.07 231.30,203.07 231.52,203.07 231.73,203.07 231.95,203.07 232.17,203.07 232.38,203.07 232.60,203.07 232.82,203.07 233.03,203.07 233.25,203.07 233.47,203.07 233.69,203.07 233.90,203.07 234.12,203.07 234.34,203.07 234.55,203.07 234.77,203.07 234.99,203.07 235.21,203.07 235.42,203.07 235.64,203.07 235.86,203.07 236.07,203.07 236.29,203.07 236.51,203.07 236.72,203.07 236.94,203.07 237.16,203.07 237.38,203.07 237.59,203.07 237.81,203.07 238.03,203.07 238.24,203.07 238.46,203.07 238.68,203.07 238.89,203.07 239.11,203.07 239.33,203.07 239.55,203.07 239.76,203.07 239.98,203.07 240.20,203.07 240.41,203.07 240.63,203.07 240.85,203.07 241.07,203.07 241.28,203.07 241.50,203.07 241.72,203.07 241.93,203.07 242.15,203.07 242.37,203.07 242.58,203.07 242.80,203.07 243.02,203.07 243.24,203.07 243.45,203.07 243.67,203.07 243.89,203.07 244.10,203.07 244.32,203.07 244.54,203.07 244.75,203.07 244.97,203.07 245.19,203.07 245.41,203.07 245.62,203.07 245.84,203.07 246.06,203.07 246.27,203.07 246.49,203.07 246.71,203.07 246.93,203.07 247.14,203.07 247.36,203.07 247.58,203.07 247.79,203.07 248.01,203.07 248.23,203.07 248.44,203.07 248.66,203.07 248.88,203.07 249.10,203.07 249.31,203.07 249.53,203.07 249.75,203.07 249.96,203.07 250.18,203.07 250.40,203.07 250.61,203.07 250.83,203.07 251.05,203.07 251.27,203.07 251.48,203.07 251.70,203.07 251.92,203.07 252.13,203.07 252.35,203.07 252.57,203.07 252.79,203.07 253.00,203.07 253.22,203.07 253.44,203.07 253.65,203.07 253.87,203.07 254.09,203.07 254.30,203.07 254.52,203.07 254.74,203.07 254.96,203.07 255.17,203.07 255.39,203.07 255.61,203.07 255.82,203.07 256.04,203.07 256.26,203.07 256.47,203.07 256.69,203.07 256.91,203.07 257.13,203.07 257.34,203.07 257.56,203.07 257.78,203.07 257.99,203.07 258.21,203.07 258.43,203.07 258.65,203.07 258.86,203.07 259.08,203.07 259.30,203.07 259.51,203.07 259.73,203.07 259.95,203.07 260.16,203.07 260.38,203.07 260.60,203.07 260.82,203.07 261.03,203.07 261.25,203.07 261.47,203.07 261.68,203.07 261.90,203.07 262.12,203.07 262.34,203.07 262.55,203.07 262.77,203.07 262.99,203.07 263.20,203.07 263.42,203.07 263.64,203.07 263.85,203.07 264.07,203.07 264.29,203.07 264.51,203.07 264.72,203.07 264.94,203.07 265.16,203.07 265.37,203.07 265.59,203.07 265.81,203.07 266.02,203.07 266.24,203.07 266.46,203.07 266.68,203.07 266.89,203.07 267.11,203.07 267.33,203.07 267.54,203.07 267.76,203.07 267.98,203.07 268.20,203.07 268.41,203.07 268.63,203.07 268.85,203.07 269.06,203.07 269.28,203.07 269.50,203.07 269.71,203.07 269.93,203.07 270.15,203.07 270.37,203.07 270.58,203.07 270.80,203.07 271.02,203.07 271.23,203.07 271.45,203.07 271.67,203.07 271.88,203.07 272.10,203.07 272.32,203.07 272.54,203.07 272.75,203.07 272.97,203.07 273.19,203.07 273.40,203.07 273.62,203.07 273.84,203.07 274.06,203.07 274.27,203.07 274.49,203.07 274.71,203.07 274.92,203.07 275.14,203.07 275.36,203.07 275.57,203.07 275.79,203.07 276.01,203.07 276.23,203.07 276.44,203.07 276.66,203.07 276.88,203.07 277.09,203.07 277.31,203.07 277.53,203.07 277.74,203.07 277.96,203.07 278.18,203.07 278.40,203.07 278.61,203.07 278.83,203.07 279.05,203.07 279.26,203.07 279.48,203.07 279.70,203.07 279.92,203.07 280.13,203.07 280.35,203.07 280.57,203.07 280.78,203.07 281.00,203.07 281.22,203.07 281.43,203.07 281.65,203.07 281.87,203.07 282.09,203.07 282.30,203.07 282.52,203.07 282.74,203.07 282.95,203.07 283.17,203.07 283.39,203.07 283.60,203.07 283.82,203.07 284.04,203.07 284.26,203.07 284.47,203.07 284.69,203.07 284.91,203.07 285.12,203.07 285.34,203.07 285.56,203.07 285.78,203.07 285.99,203.07 286.21,203.07 286.43,203.07 286.64,203.07 286.86,203.07 287.08,203.07 287.29,203.07 287.51,203.07 287.73,203.07 287.95,203.07 288.16,203.07 288.38,203.07 288.60,203.07 288.81,203.07 289.03,203.07 289.25,203.07 289.47,203.07 289.68,203.07 289.90,203.07 290.12,203.07 290.33,203.07 290.55,203.07 290.77,203.07 290.98,203.07 291.20,203.07 291.42,203.07 291.64,203.07 291.85,203.07 292.07,203.07 292.29,203.07 292.50,203.07 292.72,203.07 292.94,203.07 293.15,203.07 293.37,203.07 293.59,203.07 293.81,203.07 294.02,203.07 294.24,203.07 294.46,203.07 294.67,203.07 294.89,203.07 295.11,203.07 295.33,203.07 295.54,203.07 295.76,203.07 295.98,203.07 296.19,203.07 296.41,203.07 296.63,203.07 296.84,203.07 297.06,203.07 297.28,203.07 297.50,203.07 297.71,203.07 297.93,203.07 298.15,203.07 298.36,203.07 298.58,203.07 298.80,203.07 299.01,203.07 299.23,203.07 299.45,203.07 299.67,203.07 299.88,203.07 300.10,203.07 300.32,203.07 300.53,203.07 300.75,203.07 300.97,203.07 301.19,203.07 301.40,203.07 301.62,203.07 301.84,203.07 302.05,203.07 302.27,203.07 302.49,203.07 302.70,203.07 302.92,203.07 303.14,203.07 303.36,203.07 303.57,203.07 303.79,203.07 304.01,203.07 304.22,203.07 304.44,203.07 304.66,203.07 304.87,203.07 305.09,203.07 305.31,203.07 305.53,203.07 305.74,203.07 305.96,203.07 306.18,203.07 306.39,203.07 306.61,203.07 306.83,203.07 307.05,203.07 307.26,203.07 307.48,203.07 307.70,203.07 307.91,203.07 308.13,203.07 308.35,203.07 308.56,203.07 308.78,203.07 309.00,203.07 309.22,203.07 309.43,203.07 309.65,203.07 309.87,203.07 310.08,203.07 310.30,203.07 310.52,203.07 310.73,203.07 310.95,203.07" fill="none" stroke="#ff7f0e" stroke-width="1.5" stroke-linejoin="round" stroke-linecap="round" />
<polyline points="28.80,210.99 29.02,207.48 29.23,203.94 29.45,200.37 29.67,196.77 29.89,193.15 30.10,189.49 30.32,185.81 30.54,182.09 30.75,178.35 30.97,174.59 31.19,170.77 31.40,166.90 31.62,162.97 31.84,159.01 32.06,155.03 32.27,151.04 32.49,147.06 32.71,143.09 32.92,139.16 33.14,135.28 33.36,131.40 33.57,127.48 33.79,123.56 34.01,119.64 34.23,115.76 34.44,111.91 34.66,108.14 34.88,104.45 35.09,100.87 35.31,97.42 35.53,94.05 35.75,90.71 35.96,87.42 36.18,84.19 36.40,81.04 36.61,77.97 36.83,75.00 37.05,72.15 37.26,69.43 37.48,66.84 37.70,64.32 37.92,61.79 38.13,59.29 38.35,56.86 38.57,54.53 38.78,52.33 39.00,50.30 39.22,48.47 39.43,46.89 39.65,45.59 39.87,44.43 40.09,43.29 40.30,42.18 40.52,41.10 40.74,40.06 40.95,39.09 41.17,38.17 41.39,37.34 41.61,36.59 41.82,35.94 42.04,35.40 42.26,34.98 42.47,34.69 42.69,34.54 42.91,34.53 43.12,34.59 43.34,34.71 43.56,34.90 43.78,35.14 43.99,35.43 44.21,35.78 44.43,36.18 44.64,36.63 44.86,37.13 45.08,37.68 45.30,38.27 45.51,38.90 45.73,39.58 45.95,40.29 46.16,41.04 46.38,41.83 46.60,42.64 46.81,43.49 47.03,44.37 47.25,45.28 47.47,46.21 47.68,47.17 47.90,48.15 48.12,49.15 48.33,50.17 48.55,51.20 48.77,52.25 48.98,53.32 49.20,54.39 49.42,55.48 49.64,56.58 49.85,57.68 50.07,58.79 50.29,59.90 50.50,61.02 50.72,62.13 50.94,63.25 51.16,64.37 51.37,65.48 51.59,66.59 51.81,67.69 52.02,68.79 52.24,69.88 52.46,70.96 52.67,72.03 52.89,73.09 53.11,74.14 53.33,75.18 53.54,76.20 53.76,77.20 53.98,78.20 54.19,79.17 54.41,80.13 54.63,81.07 54.84,81.99 55.06,82.90 55.28,83.78 55.50,84.64 55.71,85.48 55.93,86.30 56.15,87.10 56.36,87.88 56.58,88.64 56.80,89.37 57.02,90.08 57.23,90.76 57.45,91.43 57.67,92.06 57.88,92.68 58.10,93.27 58.32,93.83 58.53,94.38 58.75,94.89 58.97,95.39 59.19,95.86 59.40,96.30 59.62,96.72 59.84,97.12 60.05,97.49 60.27,97.84 60.49,98.17 60.70,98.47 60.92,98.75 61.14,99.01 61.36,99.25 61.57,99.46 61.79,99.65 62.01,99.82 62.22,99.97 62.44,100.10 62.66,100.21 62.88,100.29 63.09,100.36 63.31,100.41 63.53,100.44 63.74,100.45 63.96,100.45 64.18,100.42 64.39,100.38 64.61,100.33 64.83,100.25 65.05,100.17 65.26,100.06 65.48,99.95 65.70,99.82 65.91,99.67 66.13,99.52 66.35,99.35 66.56,99.17 66.78,98.97 67.00,98.77 67.22,98.56 67.43,98.34 67.65,98.11 67.87,97.87 68.08,97.62 68.30,97.36 68.52,97.10 68.74,96.83 68.95,96.55 69.17,96.27 69.39,95.99 69.60,95.70 69.82,95.40 70.04,95.10 70.25,94.80 70.47,94.50 70.69,94.19 70.91,93.88 71.12,93.57 71.34,93.26 71.56,92.95 71.77,92.64 71.99,92.33 72.21,92.02 72.43,91.71 72.64,91.40 72.86,91.09 73.08,90.78 73.29,90.48 73.51,90.18 73.73,89.88 73.94,89.59 74.16,89.29 74.38,89.01 74.60,88.72 74.81,88.44 75.03,88.17 75.25,87.90 75.46,87.63 75.68,87.37 75.90,87.11 76.11,86.86 76.33,86.62 76.55,86.38 76.77,86.15 76.98,85.92 77.20,85.70 77.42,85.48 77.63,85.28 77.85,85.07 78.07,84.88 78.29,84.69 78.50,84.51 78.72,84.33 78.94,84.16 79.15,84.00 79.37,83.84 79.59,83.69 79.80,83.55 80.02,83.42 80.24,83.29 80.46,83.16 80.67,83.05 80.89,82.94 81.11,82.84 81.32,82.74 81.54,82.65 81.76,82.57 81.97,82.50 82.19,82.43 82.41,82.36 82.63,82.30 82.84,82.25 83.06,82.21 83.28,82.17 83.49,82.13 83.71,82.11 83.93,82.08 84.15,82.07 84.36,82.05 84.58,82.05 84.80,82.05 85.01,82.05 85.23,82.06 85.45,82.07 85.66,82.09 85.88,82.11 86.10,82.14 86.32,82.17 86.53,82.20 86.75,82.24 86.97,82.28 87.18,82.32 87.40,82.37 87.62,82.42 87.83,82.48 88.05,82.54 88.27,82.60 88.49,82.66 88.70,82.72 88.92,82.79 89.14,82.86 89.35,82.93 89.57,83.01 89.79,83.08 90.01,83.16 90.22,83.24 90.44,83.32 90.66,83.40 90.87,83.48 91.09,83.57 91.31,83.65 91.52,83.74 91.74,83.82 91.96,83.91 92.18,84.00 92.39,84.08 92.61,84.17 92.83,84.26 93.04,84.34 93.26,84.43 93.48,84.52 93.69,84.60 93.91,84.69 94.13,84.77 94.35,84.86 94.56,84.94 94.78,85.03 95.00,85.11 95.21,85.19 95.43,85.27 95.65,85.35 95.87,85.42 96.08,85.50 96.30,85.58 96.52,85.65 96.73,85.72 96.95,85.79 97.17,85.86 97.38,85.93 97.60,86.00 97.82,86.06 98.04,86.12 98.25,86.19 98.47,86.24 98.69,86.30 98.90,86.36 99.12,86.41 99.34,86.46 99.56,86.51 99.77,86.56 99.99,86.61 100.21,86.65 100.42,86.70 100.64,86.74 100.86,86.78 101.07,86.81 101.29,86.85 101.51,86.88 101.73,86.91 101.94,86.94 102.16,86.97 102.38,87.00 102.59,87.02 102.81,87.05 103.03,87.07 103.24,87.08 103.46,87.10 103.68,87.12 103.90,87.13 104.11,87.14 104.33,87.15 104.55,87.16 104.76,87.17 104.98,87.18 105.20,87.18 105.42,87.18 105.63,87.18 105.85,87.18 106.07,87.18 106.28,87.18 106.50,87.18 106.72,87.17 106.93,87.16 107.15,87.16 107.37,87.15 107.59,87.14 107.80,87.13 108.02,87.12 108.24,87.10 108.45,87.09 108.67,87.07 108.89,87.06 109.10,87.04 109.32,87.03 109.54,87.01 109.76,86.99 109.97,86.97 110.19,86.95 110.41,86.93 110.62,86.91 110.84,86.89 111.06,86.87 111.28,86.84 111.49,86.82 111.71,86.80 111.93,86.78 112.14,86.75 112.36,86.73 112.58,86.70 112.79,86.68 113.01,86.66 113.23,86.63 113.45,86.61 113.66,86.58 113.88,86.56 114.10,86.54 114.31,86.51 114.53,86.49 114.75,86.46 114.96,86.44 115.18,86.42 115.40,86.39 115.62,86.37 115.83,86.35 116.05,86.32 116.27,86.30 116.48,86.28 116.70,86.26 116.92,86.23 117.14,86.21 117.35,86.19 117.57,86.17 117.79,86.15 118.00,86.13 118.22,86.11 118.44,86.09 118.65,86.08 118.87,86.06 119.09,86.04 119.31,86.02 119.52,86.01 119.74,85.99 119.96,85.98 120.17,85.96 120.39,85.95 120.61,85.93 120.82,85.92 121.04,85.91 121.26,85.89 121.48,85.88 121.69,85.87 121.91,85.86 122.13,85.85 122.34,85.84 122.56,85.83 122.78,85.82 123.00,85.81 123.21,85.81 123.43,85.80 123.65,85.79 123.86,85.79 124.08,85.78 124.30,85.78 124.51,85.77 124.73,85.77 124.95,85.76 125.17,85.76 125.38,85.76 125.60,85.76 125.82,85.75 126.03,85.75 126.25,85.75 126.47,85.75 126.69,85.75 126.90,85.75 127.12,85.75 127.34,85.75 127.55,85.75 127.77,85.75 127.99,85.76 128.20,85.76 128.42,85.76 128.64,85.76 128.86,85.77 129.07,85.77 129.29,85.77 129.51,85.78 129.72,85.78 129.94,85.79 130.16,85.79 130.37,85.80 130.59,85.80 130.81,85.81 131.03,85.81 131.24,85.82 131.46,85.82 131.68,85.83 131.89,85.84 132.11,85.84 132.33,85.85 132.55,85.85 132.76,85.86 132.98,85.87 133.20,85.87 133.41,85.88 133.63,85.89 133.85,85.89 134.06,85.90 134.28,85.91 134.50,85.91 134.72,85.92 134.93,85.93 135.15,85.93 135.37,85.94 135.58,85.95 135.80,85.95 136.02,85.96 136.23,85.97 136.45,85.97 136.67,85.98 136.89,85.99 137.10,85.99 137.32,86.00 137.54,86.01 137.75,86.01 137.97,86.02 138.19,86.02 138.41,86.03 138.62,86.03 138.84,86.04 139.06,86.05 139.27,86.05 139.49,86.06 139.71,86.06 139.92,86.07 140.14,86.07 140.36,86.08 140.58,86.08 140.79,86.08 141.01,86.09 141.23,86.09 141.44,86.10 141.66,86.10 141.88,86.10 142.09,86.11 142.31,86.11 142.53,86.11 142.75,86.12 142.96,86.12 143.18,86.12 143.40,86.13 143.61,86.13 143.83,86.13 144.05,86.13 144.27,86.14 144.48,86.14 144.70,86.14 144.92,86.14 145.13,86.14 145.35,86.14 145.57,86.14 145.78,86.15 146.00,86.15 146.22,86.15 146.44,86.15 146.65,86.15 146.87,86.15 147.09,86.15 147.30,86.15 147.52,86.15 147.74,86.15 147.95,86.15 148.17,86.15 148.39,86.15 148.61,86.15 148.82,86.15 149.04,86.15 149.26,86.15 149.47,86.15 149.69,86.15 149.91,86.15 150.13,86.14 150.34,86.14 150.56,86.14 150.78,86.14 150.99,86.14 151.21,86.14 151.43,86.14 151.64,86.14 151.86,86.13 152.08,86.13 152.30,86.13 152.51,86.13 152.73,86.13 152.95,86.13 153.16,86.12 153.38,86.12 153.60,86.12 153.82,86.12 154.03,86.12 154.25,86.12 154.47,86.11 154.68,86.11 154.90,86.11 155.12,86.11 155.33,86.11 155.55,86.10 155.77,86.10 155.99,86.10 156.20,86.10 156.42,86.10 156.64,86.09 156.85,86.09 157.07,86.09 157.29,86.09 157.50,86.09 157.72,86.09 157.94,86.08 158.16,86.08 158.37,86.08 158.59,86.08 158.81,86.08 159.02,86.08 159.24,86.07 159.46,86.07 159.68,86.07 159.89,86.07 160.11,86.07 160.33,86.07 160.54,86.06 160.76,86.06 160.98,86.06 161.19,86.06 161.41,86.06 161.63,86.06 161.85,86.06 162.06,86.06 162.28,86.05 162.50,86.05 162.71,86.05 162.93,86.05 163.15,86.05 163.36,86.05 163.58,86.05 163.80,86.05 164.02,86.05 164.23,86.05 164.45,86.05 164.67,86.04 164.88,86.04 165.10,86.04 165.32,86.04 165.54,86.04 165.75,86.04 165.97,86.04 166.19,86.04 166.40,86.04 166.62,86.04 166.84,86.04 167.05,86.04 167.27,86.04 167.49,86.04 167.71,86.04 167.92,86.04 168.14,86.04 168.36,86.04 168.57,86.04 168.79,86.04 169.01,86.04 169.22,86.04 169.44,86.04 169.66,86.04 169.88,86.04 170.09,86.04 170.31,86.04 170.53,86.04 170.74,86.04 170.96,86.04 171.18,86.04 171.40,86.04 171.61,86.04 171.83,86.04 172.05,86.04 172.26,86.04 172.48,86.04 172.70,86.04 172.91,86.04 173.13,86.04 173.35,86.04 173.57,86.04 173.78,86.05 174.00,86.05 174.22,86.05 174.43,86.05 174.65,86.05 174.87,86.05 175.08,86.05 175.30,86.05 175.52,86.05 175.74,86.05 175.95,86.05 176.17,86.05 176.39,86.05 176.60,86.05 176.82,86.05 177.04,86.05 177.26,86.05 177.47,86.05 177.69,86.05 177.91,86.06 178.12,86.06 178.34,86.06 178.56,86.06 178.77,86.06 178.99,86.06 179.21,86.06 179.43,86.06 179.64,86.06 179.86,86.06 180.08,86.06 180.29,86.06 180.51,86.06 180.73,86.06 180.95,86.06 181.16,86.06 181.38,86.06 181.60,86.06 181.81,86.06 182.03,86.06 182.25,86.06 182.46,86.06 182.68,86.06 182.90,86.07 183.12,86.07 183.33,86.07 183.55,86.07 183.77,86.07 183.98,86.07 184.20,86.07 184.42,86.07 184.63,86.07 184.85,86.07 185.07,86.07 185.29,86.07 185.50,86.07 185.72,86.07 185.94,86.07 186.15,86.07 186.37,86.07 186.59,86.07 186.81,86.07 187.02,86.07 187.24,86.07 187.46,86.07 187.67,86.07 187.89,86.07 188.11,86.07 188.32,86.07 188.54,86.07 188.76,86.07 188.98,86.07 189.19,86.07 189.41,86.07 189.63,86.07 189.84,86.07 190.06,86.07 190.28,86.07 190.49,86.07 190.71,86.07 190.93,86.07 191.15,86.07 191.36,86.07 191.58,86.07 191.80,86.07 192.01,86.07 192.23,86.07 192.45,86.07 192.67,86.07 192.88,86.07 193.10,86.07 193.32,86.07 193.53,86.07 193.75,86.07 193.97,86.07 194.18,86.07 194.40,86.07 194.62,86.07 194.84,86.07 195.05,86.07 195.27,86.07 195.49,86.07 195.70,86.07 195.92,86.07 196.14,86.07 196.35,86.07 196.57,86.07 196.79,86.07 197.01,86.07 197.22,86.07 197.44,86.07 197.66,86.07 197.87,86.07 198.09,86.07 198.31,86.07 198.53,86.07 198.74,86.07 198.96,86.07 199.18,86.07 199.39,86.07 199.61,86.07 199.83,86.06 200.04,86.06 200.26,86.06 200.48,86.06 200.70,86.06 200.91,86.06 201.13,86.06 201.35,86.06 201.56,86.06 201.78,86.06 202.00,86.06 202.21,86.06 202.43,86.06 202.65,86.06 202.87,86.06 203.08,86.06 203.30,86.06 203.52,86.06 203.73,86.06 203.95,86.06 204.17,86.06 204.39,86.06 204.60,86.06 204.82,86.06 205.04,86.06 205.25,86.06 205.47,86.06 205.69,86.06 205.90,86.06 206.12,86.06 206.34,86.06 206.56,86.06 206.77,86.06 206.99,86.06 207.21,86.06 207.42,86.06 207.64,86.06 207.86,86.06 208.08,86.06 208.29,86.06 208.51,86.06 208.73,86.06 208.94,86.06 209.16,86.06 209.38,86.06 209.59,86.06 209.81,86.06 210.03,86.06 210.25,86.06 210.46,86.06 210.68,86.06 210.90,86.06 211.11,86.06 211.33,86.06 211.55,86.06 211.76,86.06 211.98,86.06 212.20,86.06 212.42,86.06 212.63,86.06 212.85,86.06 213.07,86.06 213.28,86.06 213.50,86.06 213.72,86.06 213.94,86.06 214.15,86.06 214.37,86.06 214.59,86.06 214.80,86.06 215.02,86.06 215.24,86.06 215.45,86.06 215.67,86.06 215.89,86.06 216.11,86.06 216.32,86.06 216.54,86.06 216.76,86.06 216.97,86.06 217.19,86.06 217.41,86.06 217.62,86.06 217.84,86.06 218.06,86.06 218.28,86.06 218.49,86.06 218.71,86.06 218.93,86.06 219.14,86.06 219.36,86.06 219.58,86.06 219.80,86.06 220.01,86.06 220.23,86.06 220.45,86.06 220.66,86.06 220.88,86.06 221.10,86.06 221.31,86.06 221.53,86.06 221.75,86.06 221.97,86.06 222.18,86.06 222.40,86.06 222.62,86.06 222.83,86.06 223.05,86.06 223.27,86.06 223.48,86.06 223.70,86.06 223.92,86.06 224.14,86.06 224.35,86.06 224.57,86.06 224.79,86.06 225.00,86.06 225.22,86.06 225.44,86.06 225.66,86.06 225.87,86.06 226.09,86.06 226.31,86.06 226.52,86.06 226.74,86.06 226.96,86.06 227.17,86.06 227.39,86.06 227.61,86.06 227.83,86.06 228.04,86.06 228.26,86.06 228.48,86.06 228.69,86.06 228.91,86.06 229.13,86.06 229.34,86.06 229.56,86.06 229.78,86.06 230.00,86.06 230.21,86.06 230.43,86.06 230.65,86.06 230.86,86.06 231.08,86.06 231.30,86.06 231.52,86.06 231.73,86.06 231.95,86.06 232.17,86.06 232.38,86.06 232.60,86.06 232.82,86.06 233.03,86.06 233.25,86.06 233.47,86.06 233.69,86.06 233.90,86.06 234.12,86.06 234.34,86.06 234.55,86.06 234.77,86.06 234.99,86.06 235.21,86.06 235.42,86.06 235.64,86.06 235.86,86.06 236.07,86.06 236.29,86.06 236.51,86.06 236.72,86.06 236.94,86.06 237.16,86.06 237.38,86.06 237.59,86.06 237.81,86.06 238.03,86.06 238.24,86.06 238.46,86.06 238.68,86.06 238.89,86.06 239.11,86.06 239.33,86.06 239.55,86.06 239.76,86.06 239.98,86.06 240.20,86.06 240.41,86.06 240.63,86.06 240.85,86.06 241.07,86.06 241.28,86.06 241.50,86.06 241.72,86.06 241.93,86.06 242.15,86.06 242.37,86.06 242.58,86.06 242.80,86.06 243.02,86.06 243.24,86.06 243.45,86.06 243.67,86.06 243.89,86.06 244.10,86.06 244.32,86.06 244.54,86.06 244.75,86.06 244.97,86.06 245.19,86.06 245.41,86.06 245.62,86.06 245.84,86.06 246.06,86.06 246.27,86.06 246.49,86.06 246.71,86.06 246.93,86.06 247.14,86.06 247.36,86.06 247.58,86.06 247.79,86.06 248.01,86.06 248.23,86.06 248.44,86.06 248.66,86.06 248.88,86.06 249.10,86.06 249.31,86.06 249.53,86.06 249.75,86.06 249.96,86.06 250.18,86.06 250.40,86.06 250.61,86.06 250.83,86.06 251.05,86.06 251.27,86.06 251.48,86.06 251.70,86.06 251.92,86.06 252.13,86.06 252.35,86.06 252.57,86.06 252.79,86.06 253.00,86.06 253.22,86.06 253.44,86.06 253.65,86.06 253.87,86.06 254.09,86.06 254.30,86.06 254.52,86.06 254.74,86.06 254.96,86.06 255.17,86.06 255.39,86.06 255.61,86.06 255.82,86.06 256.04,86.06 256.26,86.06 256.47,86.06 256.69,86.06 256.91,86.06 257.13,86.06 257.34,86.06 257.56,86.06 257.78,86.06 257.99,86.06 258.21,86.06 258.43,86.06 258.65,86.06 258.86,86.06 259.08,86.06 259.30,86.06 259.51,86.06 259.73,86.06 259.95,86.06 260.16,86.06 260.38,86.06 260.60,86.06 260.82,86.06 261.03,86.06 261.25,86.06 261.47,86.06 261.68,86.06 261.90,86.06 262.12,86.06 262.34,86.06 262.55,86.06 262.77,86.06 262.99,86.06 263.20,86.06 263.42,86.06 263.64,86.06 263.85,86.06 264.07,86.06 264.29,86.06 264.51,86.06 264.72,86.06 264.94,86.06 265.16,86.06 265.37,86.06 265.59,86.06 265.81,86.06 266.02,86.06 266.24,86.06 266.46,86.06 266.68,86.06 266.89,86.06 267.11,86.06 267.33,86.06 267.54,86.06 267.76,86.06 267.98,86.06 268.20,86.06 268.41,86.06 268.63,86.06 268.85,86.06 269.06,86.06 269.28,86.06 269.50,86.06 269.71,86.06 269.93,86.06 270.15,86.06 270.37,86.06 270.58,86.06 270.80,86.06 271.02,86.06 271.23,86.06 271.45,86.06 271.67,86.06 271.88,86.06 272.10,86.06 272.32,86.06 272.54,86.06 272.75,86.06 272.97,86.06 273.19,86.06 273.40,86.06 273.62,86.06 273.84,86.06 274.06,86.06 274.27,86.06 274.49,86.06 274.71,86.06 274.92,86.06 275.14,86.06 275.36,86.06 275.57,86.06 275.79,86.06 276.01,86.06 276.23,86.06 276.44,86.06 276.66,86.06 276.88,86.06 277.09,86.06 277.31,86.06 277.53,86.06 277.74,86.06 277.96,86.06 278.18,86.06 278.40,86.06 278.61,86.06 278.83,86.06 279.05,86.06 279.26,86.06 279.48,86.06 279.70,86.06 279.92,86.06 280.13,86.06 280.35,86.06 280.57,86.06 280.78,86.06 281.00,86.06 281.22,86.06 281.43,86.06 281.65,86.06 281.87,86.06 282.09,86.06 282.30,86.06 282.52,86.06 282.74,86.06 282.95,86.06 283.17,86.06 283.39,86.06 283.60,86.06 283.82,86.06 284.04,86.06 284.26,86.06 284.47,86.06 284.69,86.06 284.91,86.06 285.12,86.06 285.34,86.06 285.56,86.06 285.78,86.06 285.99,86.06 286.21,86.06 286.43,86.06 286.64,86.06 286.86,86.06 287.08,86.06 287.29,86.06 287.51,86.06 287.73,86.06 287.95,86.06 288.16,86.06 288.38,86.06 288.60,86.06 288.81,86.06 289.03,86.06 289.25,86.06 289.47,86.06 289.68,86.06 289.90,86.06 290.12,86.06 290.33,86.06 290.55,86.06 290.77,86.06 290.98,86.06 291.20,86.06 291.42,86.06 291.64,86.06 291.85,86.06 292.07,86.06 292.29,86.06 292.50,86.06 292.72,86.06 292.94,86.06 293.15,86.06 293.37,86.06 293.59,86.06 293.81,86.06 294.02,86.06 294.24,86.06 294.46,86.06 294.67,86.06 294.89,86.06 295.11,86.06 295.33,86.06 295.54,86.06 295.76,86.06 295.98,86.06 296.19,86.06 296.41,86.06 296.63,86.06 296.84,86.06 297.06,86.06 297.28,86.06 297.50,86.06 297.71,86.06 297.93,86.06 298.15,86.06 298.36,86.06 298.58,86.06 298.80,86.06 299.01,86.06 299.23,86.06 299.45,86.06 299.67,86.06 299.88,86.06 300.10,86.06 300.32,86.06 300.53,86.06 300.75,86.06 300.97,86.06 301.19,86.06 301.40,86.06 301.62,86.06 301.84,86.06 302.05,86.06 302.27,86.06 302.49,86.06 302.70,86.06 302.92,86.06 303.14,86.06 303.36,86.06 303.57,86.06 303.79,86.06 304.01,86.06 304.22,86.06 304.44,86.06 304.66,86.06 304.87,86.06 305.09,86.06 305.31,86.06 305.53,86.06 305.74,86.06 305.96,86.06 306.18,86.06 306.39,86.06 306.61,86.06 306.83,86.06 307.05,86.06 307.26,86.06 307.48,86.06 307.70,86.06 307.91,86.06 308.13,86.06 308.35,86.06 308.56,86.06 308.78,86.06 309.00,86.06 309.22,86.06 309.43,86.06 309.65,86.06 309.87,86.06 310.08,86.06 310.30,86.06 310.52,86.06 310.73,86.06 310.95,86.06" fill="none" stroke="#38a638" stroke-width="1.5" stroke-linejoin="round" stroke-linecap="round" />
<line x1="14.30" y1="186.24" x2="325.70" y2="186.24" stroke="#2779b8" stroke-width="0.85" stroke-dasharray="1.5,1.2"/>
<line x1="14.30" y1="203.07" x2="325.70" y2="203.07" stroke="#2779b8" stroke-width="0.85" stroke-dasharray="1.5,1.2"/>
<line x1="14.30" y1="86.06" x2="325.70" y2="86.06" stroke="#2779b8" stroke-width="0.85" stroke-dasharray="1.5,1.2"/>
<text x="34.40" y="84.40" font-size="5.20" text-anchor="start" fill="#333" font-family='"Liberation Sans", sans-serif' stroke="#3a3a3a" stroke-width="0.08">Z*</text>
<text x="34.80" y="183.90" font-size="5.00" text-anchor="start" fill="#444" font-family='"Liberation Sans", sans-serif' >X*</text>
<text x="34.50" y="201.00" font-size="5.00" text-anchor="start" fill="#444" font-family='"Liberation Sans", sans-serif' >Y*</text>
<path d="M14.30 26.00 V219.50 H325.00" fill="none" stroke="#5a5a5a" stroke-width="1.1"/>
<line x1="28.80" y1="219.50" x2="28.80" y2="217.90" stroke="#5a5a5a" stroke-width="0.8"/>
<text transform="translate(28.80,228.80) scale(0.800,1)" font-size="8.40" text-anchor="middle" fill="#3a3a3a" font-family='"Liberation Sans", sans-serif' stroke="#3a3a3a" stroke-width="0.25">0</text>
<line x1="83.06" y1="219.50" x2="83.06" y2="217.90" stroke="#5a5a5a" stroke-width="0.8"/>
<text transform="translate(83.06,228.80) scale(0.800,1)" font-size="8.40" text-anchor="middle" fill="#3a3a3a" font-family='"Liberation Sans", sans-serif' stroke="#3a3a3a" stroke-width="0.25">50</text>
<line x1="137.32" y1="219.50" x2="137.32" y2="217.90" stroke="#5a5a5a" stroke-width="0.8"/>
<text transform="translate(137.32,228.80) scale(0.800,1)" font-size="8.40" text-anchor="middle" fill="#3a3a3a" font-family='"Liberation Sans", sans-serif' stroke="#3a3a3a" stroke-width="0.25">100</text>
<line x1="191.58" y1="219.50" x2="191.58" y2="217.90" stroke="#5a5a5a" stroke-width="0.8"/>
<text transform="translate(191.58,228.80) scale(0.800,1)" font-size="8.40" text-anchor="middle" fill="#3a3a3a" font-family='"Liberation Sans", sans-serif' stroke="#3a3a3a" stroke-width="0.25">150</text>
<line x1="245.84" y1="219.50" x2="245.84" y2="217.90" stroke="#5a5a5a" stroke-width="0.8"/>
<text transform="translate(245.84,228.80) scale(0.800,1)" font-size="8.40" text-anchor="middle" fill="#3a3a3a" font-family='"Liberation Sans", sans-serif' stroke="#3a3a3a" stroke-width="0.25">200</text>
<line x1="300.10" y1="219.50" x2="300.10" y2="217.90" stroke="#5a5a5a" stroke-width="0.8"/>
<text transform="translate(300.10,228.80) scale(0.800,1)" font-size="8.40" text-anchor="middle" fill="#3a3a3a" font-family='"Liberation Sans", sans-serif' stroke="#3a3a3a" stroke-width="0.25">250</text>
<line x1="14.30" y1="213.90" x2="15.90" y2="213.90" stroke="#5a5a5a" stroke-width="0.8"/>
<text transform="translate(12.20,216.90) scale(0.800,1)" font-size="8.40" text-anchor="end" fill="#3a3a3a" font-family='"Liberation Sans", sans-serif' stroke="#3a3a3a" stroke-width="0.25">0</text>
<line x1="14.30" y1="184.78" x2="15.90" y2="184.78" stroke="#5a5a5a" stroke-width="0.8"/>
<text transform="translate(12.20,187.78) scale(0.800,1)" font-size="8.40" text-anchor="end" fill="#3a3a3a" font-family='"Liberation Sans", sans-serif' stroke="#3a3a3a" stroke-width="0.25">1</text>
<line x1="14.30" y1="155.66" x2="15.90" y2="155.66" stroke="#5a5a5a" stroke-width="0.8"/>
<text transform="translate(12.20,158.66) scale(0.800,1)" font-size="8.40" text-anchor="end" fill="#3a3a3a" font-family='"Liberation Sans", sans-serif' stroke="#3a3a3a" stroke-width="0.25">2</text>
<line x1="14.30" y1="126.54" x2="15.90" y2="126.54" stroke="#5a5a5a" stroke-width="0.8"/>
<text transform="translate(12.20,129.54) scale(0.800,1)" font-size="8.40" text-anchor="end" fill="#3a3a3a" font-family='"Liberation Sans", sans-serif' stroke="#3a3a3a" stroke-width="0.25">3</text>
<line x1="14.30" y1="97.42" x2="15.90" y2="97.42" stroke="#5a5a5a" stroke-width="0.8"/>
<text transform="translate(12.20,100.42) scale(0.800,1)" font-size="8.40" text-anchor="end" fill="#3a3a3a" font-family='"Liberation Sans", sans-serif' stroke="#3a3a3a" stroke-width="0.25">4</text>
<line x1="14.30" y1="68.30" x2="15.90" y2="68.30" stroke="#5a5a5a" stroke-width="0.8"/>
<text transform="translate(12.20,71.30) scale(0.800,1)" font-size="8.40" text-anchor="end" fill="#3a3a3a" font-family='"Liberation Sans", sans-serif' stroke="#3a3a3a" stroke-width="0.25">5</text>
<line x1="14.30" y1="39.18" x2="15.90" y2="39.18" stroke="#5a5a5a" stroke-width="0.8"/>
<text transform="translate(12.20,42.18) scale(0.800,1)" font-size="8.40" text-anchor="end" fill="#3a3a3a" font-family='"Liberation Sans", sans-serif' stroke="#3a3a3a" stroke-width="0.25">6</text>
<text x="170.10" y="238.40" font-size="8.40" text-anchor="middle" fill="#3a3a3a" font-family='"Liberation Sans", sans-serif' stroke="#3a3a3a" stroke-width="0.25">t</text>
<text x="0.00" y="0.00" font-size="8.00" text-anchor="middle" fill="#3a3a3a" font-family='"Liberation Sans", sans-serif' textLength="19.40" lengthAdjust="spacingAndGlyphs" transform="translate(5.6,123.3) rotate(-90)" font-weight="bold">State</text>
<text x="78.50" y="22.00" font-size="10.30" text-anchor="start" fill="#3a3a3a" font-family='"Liberation Sans", sans-serif' textLength="182.20" lengthAdjust="spacingAndGlyphs" stroke="#3a3a3a" stroke-width="0.08">Damped oscillation — time series (Ω = 0.00)</text>
<line x1="301.5" y1="34.20" x2="313" y2="34.20" stroke="#2779b8" stroke-width="1.5"/>
<text x="316.80" y="36.60" font-size="6.80" text-anchor="start" fill="#3a3a3a" font-family='"Liberation Sans", sans-serif' >X</text>
<line x1="301.5" y1="44.20" x2="313" y2="44.20" stroke="#ff7f0e" stroke-width="1.5"/>
<text x="316.80" y="46.60" font-size="6.80" text-anchor="start" fill="#3a3a3a" font-family='"Liberation Sans", sans-serif' >Y</text>
<line x1="301.5" y1="53.80" x2="313" y2="53.80" stroke="#38a638" stroke-width="1.5"/>
<text x="316.80" y="56.20" font-size="6.80" text-anchor="start" fill="#3a3a3a" font-family='"Liberation Sans", sans-serif' >Z</text>
<line x1="397.60" y1="10.90" x2="397.60" y2="199.30" stroke="#f3f3f3" stroke-width="0.7" stroke-dasharray="1.5,1"/>
<line x1="443.00" y1="10.90" x2="443.00" y2="199.30" stroke="#f3f3f3" stroke-width="0.7" stroke-dasharray="1.5,1"/>
<line x1="488.40" y1="10.90" x2="488.40" y2="199.30" stroke="#f3f3f3" stroke-width="0.7" stroke-dasharray="1.5,1"/>
<line x1="533.80" y1="10.90" x2="533.80" y2="199.30" stroke="#f3f3f3" stroke-width="0.7" stroke-dasharray="1.5,1"/>
<line x1="579.20" y1="10.90" x2="579.20" y2="199.30" stroke="#f3f3f3" stroke-width="0.7" stroke-dasharray="1.5,1"/>
<line x1="624.60" y1="10.90" x2="624.60" y2="199.30" stroke="#f3f3f3" stroke-width="0.7" stroke-dasharray="1.5,1"/>
<line x1="670.00" y1="10.90" x2="670.00" y2="199.30" stroke="#f3f3f3" stroke-width="0.7" stroke-dasharray="1.5,1"/>
<line x1="384.00" y1="191.50" x2="684.00" y2="191.50" stroke="#f3f3f3" stroke-width="0.7" stroke-dasharray="1.5,1"/>
<line x1="384.00" y1="168.90" x2="684.00" y2="168.90" stroke="#f3f3f3" stroke-width="0.7" stroke-dasharray="1.5,1"/>
<line x1="384.00" y1="146.30" x2="684.00" y2="146.30" stroke="#f3f3f3" stroke-width="0.7" stroke-dasharray="1.5,1"/>
<line x1="384.00" y1="123.70" x2="684.00" y2="123.70" stroke="#f3f3f3" stroke-width="0.7" stroke-dasharray="1.5,1"/>
<line x1="384.00" y1="101.10" x2="684.00" y2="101.10" stroke="#f3f3f3" stroke-width="0.7" stroke-dasharray="1.5,1"/>
<line x1="384.00" y1="78.50" x2="684.00" y2="78.50" stroke="#f3f3f3" stroke-width="0.7" stroke-dasharray="1.5,1"/>
<line x1="384.00" y1="55.90" x2="684.00" y2="55.90" stroke="#f3f3f3" stroke-width="0.7" stroke-dasharray="1.5,1"/>
<line x1="384.00" y1="33.30" x2="684.00" y2="33.30" stroke="#f3f3f3" stroke-width="0.7" stroke-dasharray="1.5,1"/>
<polyline points="397.60,112.89 397.70,108.61 397.80,104.21 397.90,99.71 398.00,95.11 398.10,90.44 398.20,85.71 398.30,80.95 398.40,76.19 398.50,71.46 398.60,66.80 398.70,62.27 398.80,57.93 398.90,53.86 399.00,50.19 399.10,47.12 399.20,45.38 399.30,47.10 399.40,49.24 399.50,52.01 399.60,55.53 399.70,59.88 399.80,65.11 399.90,71.18 400.00,78.06 400.10,85.61 400.20,93.72 400.30,102.20 400.40,110.86 400.50,119.51 400.60,127.96 400.70,136.04 400.80,143.59 400.90,150.52 401.00,156.73 401.10,162.19 401.20,166.90 401.30,170.89 401.40,174.20 401.50,176.91 401.60,179.10 401.70,180.84 401.80,182.22 401.90,183.30 402.00,184.15 402.10,184.83 402.20,185.38 402.30,185.83 402.40,186.21 402.50,186.53 402.60,186.82 402.70,187.08 402.80,187.32 402.90,187.54 403.00,187.74 403.10,187.93 403.20,188.12 403.30,188.29 403.40,188.45 403.50,188.60 403.60,188.74 403.70,188.88 403.80,189.01 403.90,189.13 404.00,189.24 404.10,189.35 404.20,189.45 404.30,189.55 404.40,189.64 404.50,189.73 404.60,189.81 404.70,189.88 404.80,189.96 404.90,190.02 405.00,190.09 405.10,190.15 405.20,190.20 405.30,190.26 405.40,190.31 405.50,190.35 405.60,190.39 405.70,190.43 405.80,190.47 405.90,190.50 406.00,190.53 406.10,190.56 406.20,190.59 406.30,190.61 406.40,190.63 406.50,190.64 406.60,190.66 406.70,190.67 406.80,190.67 406.90,190.68 407.00,190.68 407.10,190.67 407.20,190.67 407.30,190.66 407.40,190.65 407.50,190.63 407.60,190.61 407.70,190.58 407.80,190.55 407.90,190.51 408.00,190.47 408.10,190.42 408.20,190.37 408.30,190.30 408.40,190.23 408.50,190.16 408.60,190.07 408.70,189.98 408.80,189.87 408.90,189.75 409.00,189.62 409.10,189.48 409.20,189.33 409.30,189.16 409.40,188.97 409.50,188.77 409.60,188.55 409.70,188.30 409.80,188.04 409.90,187.75 410.00,187.44 410.10,187.10 410.20,186.74 410.30,186.34 410.40,185.90 410.50,185.44 410.60,184.93 410.70,184.39 410.80,183.80 410.90,183.16 411.00,182.48 411.10,181.74 411.20,180.95 411.30,180.09 411.40,179.18 411.50,178.20 411.60,177.14 411.70,176.02 411.80,174.81 411.90,173.52 412.00,172.15 412.10,170.68 412.20,169.12 412.30,167.46 412.40,165.69 412.50,163.82 412.60,161.83 412.70,159.72 412.80,157.49 412.90,155.13 413.00,152.65 413.10,150.03 413.20,147.28 413.30,144.38 413.40,141.35 413.50,138.17 413.60,134.84 413.70,131.38 413.80,127.77 413.90,124.02 414.00,120.13 414.10,116.11 414.20,111.96 414.30,107.69 414.40,103.31 414.50,98.83 414.60,94.27 414.70,89.65 414.80,84.98 414.90,80.30 415.00,75.63 415.10,71.02 415.20,66.50 415.30,62.14 415.40,58.01 415.50,54.21 415.60,50.89 415.70,48.37 415.80,48.80 415.90,50.69 416.00,53.11 416.10,56.21 416.20,60.11 416.30,64.86 416.40,70.46 416.50,76.87 416.60,84.01 416.70,91.75 416.80,99.93 416.90,108.39 417.00,116.92 417.10,125.33 417.20,133.46 417.30,141.13 417.40,148.22 417.50,154.65 417.60,160.35 417.70,165.32 417.80,169.55 417.90,173.10 418.00,176.02 418.10,178.40 418.20,180.29 418.30,181.80 418.40,182.99 418.50,183.92 418.60,184.66 418.70,185.25 418.80,185.73 418.90,186.13 419.00,186.47 419.10,186.77 419.20,187.04 419.30,187.28 419.40,187.51 419.50,187.71 419.60,187.91 419.70,188.09 419.80,188.26 419.90,188.43 420.00,188.58 420.10,188.72 420.20,188.86 420.30,188.99 420.40,189.11 420.50,189.23 420.60,189.34 420.70,189.44 420.80,189.54 420.90,189.63 421.00,189.72 421.10,189.80 421.20,189.88 421.30,189.95 421.40,190.02 421.50,190.09 421.60,190.15 421.70,190.20 421.80,190.26 421.90,190.31 422.00,190.35 422.10,190.40 422.20,190.44 422.30,190.48 422.40,190.51 422.50,190.54 422.60,190.57 422.70,190.60 422.80,190.63 422.90,190.65 423.00,190.67 423.10,190.68 423.20,190.70 423.30,190.71 423.40,190.72 423.50,190.72 423.60,190.72 423.70,190.72 423.80,190.72 423.90,190.71 424.00,190.70 424.10,190.69 424.20,190.67 424.30,190.65 424.40,190.62 424.50,190.59 424.60,190.56 424.70,190.51 424.80,190.47 424.90,190.41 425.00,190.35 425.10,190.29 425.20,190.21 425.30,190.13 425.40,190.04 425.50,189.93 425.60,189.82 425.70,189.70 425.80,189.56 425.90,189.41 426.00,189.25 426.10,189.07 426.20,188.87 426.30,188.66 426.40,188.42 426.50,188.17 426.60,187.89 426.70,187.59 426.80,187.27 426.90,186.91 427.00,186.53 427.10,186.11 427.20,185.66 427.30,185.17 427.40,184.65 427.50,184.08 427.60,183.46 427.70,182.80 427.80,182.09 427.90,181.32 428.00,180.50 428.10,179.62 428.20,178.67 428.30,177.65 428.40,176.56 428.50,175.40 428.60,174.15 428.70,172.82 428.80,171.40 428.90,169.89 429.00,168.28 429.10,166.57 429.20,164.76 429.30,162.83 429.40,160.78 429.50,158.62 429.60,156.34 429.70,153.93 429.80,151.39 429.90,148.71 430.00,145.90 430.10,142.95 430.20,139.86 430.30,136.63 430.40,133.26 430.50,129.74 430.60,126.09 430.70,122.30 430.80,118.38 430.90,114.33 431.00,110.16 431.10,105.88 431.20,101.50 431.30,97.04 431.40,92.50 431.50,87.92 431.60,83.32 431.70,78.73 431.80,74.17 431.90,69.70 432.00,65.37 432.10,61.24 432.20,57.41 432.30,54.01 432.40,51.28 432.50,50.77 432.60,52.53 432.70,54.76 432.80,57.63 432.90,61.26 433.00,65.72 433.10,71.01 433.20,77.12 433.30,83.96 433.40,91.44 433.50,99.39 433.60,107.66 433.70,116.04 433.80,124.36 433.90,132.44 434.00,140.11 434.10,147.24 434.20,153.73 434.30,159.52 434.40,164.58 434.50,168.93 434.60,172.58 434.70,175.61 434.80,178.07 434.90,180.05 435.00,181.62 435.10,182.85 435.20,183.83 435.30,184.60 435.40,185.21 435.50,185.71 435.60,186.12 435.70,186.47 435.80,186.78 435.90,187.05 436.00,187.29 436.10,187.51 436.20,187.72 436.30,187.92 436.40,188.10 436.50,188.27 436.60,188.43 436.70,188.59 436.80,188.73 436.90,188.87 437.00,189.00 437.10,189.12 437.20,189.23 437.30,189.34 437.40,189.45 437.50,189.54 437.60,189.64 437.70,189.72 437.80,189.80 437.90,189.88 438.00,189.95 438.10,190.02 438.20,190.09 438.30,190.15 438.40,190.21 438.50,190.26 438.60,190.31 438.70,190.36 438.80,190.40 438.90,190.44 439.00,190.48 439.10,190.51 439.20,190.54 439.30,190.57 439.40,190.60 439.50,190.62 439.60,190.65 439.70,190.67 439.80,190.68 439.90,190.69 440.00,190.71 440.10,190.71 440.20,190.72 440.30,190.72 440.40,190.72 440.50,190.71 440.60,190.71 440.70,190.70 440.80,190.68 440.90,190.66 441.00,190.64 441.10,190.61 441.20,190.58 441.30,190.54 441.40,190.50 441.50,190.45 441.60,190.40 441.70,190.33 441.80,190.26 441.90,190.19 442.00,190.10 442.10,190.01 442.20,189.90 442.30,189.79 442.40,189.66 442.50,189.52 442.60,189.37 442.70,189.20 442.80,189.02 442.90,188.82 443.00,188.60 443.10,188.36 443.20,188.10 443.30,187.82 443.40,187.51 443.50,187.18 443.60,186.81 443.70,186.42 443.80,186.00 443.90,185.54 444.00,185.04 444.10,184.51 444.20,183.93 444.30,183.30 444.40,182.63 444.50,181.91 444.60,181.13 444.70,180.29 444.80,179.39 444.90,178.43 445.00,177.40 445.10,176.30 445.20,175.11 445.30,173.85 445.40,172.51 445.50,171.07 445.60,169.54 445.70,167.91 445.80,166.18 445.90,164.35 446.00,162.40 446.10,160.34 446.20,158.16 446.30,155.86 446.40,153.43 446.50,150.87 446.60,148.18 446.70,145.35 446.80,142.39 446.90,139.28 447.00,136.04 447.10,132.66 447.20,129.14 447.30,125.49 447.40,121.70 447.50,117.78 447.60,113.75 447.70,109.59 447.80,105.34 447.90,100.99 448.00,96.57 448.10,92.08 448.20,87.56 448.30,83.03 448.40,78.53 448.50,74.08 448.60,69.73 448.70,65.55 448.80,61.61 448.90,58.01 449.00,54.92 449.10,52.70 449.20,53.76 449.30,55.67 449.40,58.13 449.50,61.28 449.60,65.21 449.70,69.96 449.80,75.54 449.90,81.88 450.00,88.91 450.10,96.49 450.20,104.48 450.30,112.69 450.40,120.93 450.50,129.03 450.60,136.82 450.70,144.14 450.80,150.88 450.90,156.97 451.00,162.35 451.10,167.01 451.20,170.98 451.30,174.29 451.40,177.01 451.50,179.20 451.60,180.96 451.70,182.35 451.80,183.45 451.90,184.31 452.00,184.99 452.10,185.54 452.20,185.99 452.30,186.37 452.40,186.69 452.50,186.97 452.60,187.22 452.70,187.46 452.80,187.67 452.90,187.87 453.00,188.05 453.10,188.23 453.20,188.39 453.30,188.55 453.40,188.69 453.50,188.83 453.60,188.96 453.70,189.09 453.80,189.21 453.90,189.32 454.00,189.42 454.10,189.52 454.20,189.61 454.30,189.70 454.40,189.78 454.50,189.86 454.60,189.94 454.70,190.01 454.80,190.07 454.90,190.13 455.00,190.19 455.10,190.24 455.20,190.30 455.30,190.34 455.40,190.39 455.50,190.43 455.60,190.47 455.70,190.50 455.80,190.54 455.90,190.57 456.00,190.59 456.10,190.62 456.20,190.64 456.30,190.66 456.40,190.67 456.50,190.69 456.60,190.70 456.70,190.71 456.80,190.71 456.90,190.71 457.00,190.71 457.10,190.71 457.20,190.70 457.30,190.69 457.40,190.68 457.50,190.66 457.60,190.64 457.70,190.61 457.80,190.58 457.90,190.54 458.00,190.50 458.10,190.45 458.20,190.39 458.30,190.33 458.40,190.26 458.50,190.19 458.60,190.10 458.70,190.01 458.80,189.90 458.90,189.79 459.00,189.66 459.10,189.52 459.20,189.37 459.30,189.20 459.40,189.02 459.50,188.82 459.60,188.60 459.70,188.36 459.80,188.11 459.90,187.82 460.00,187.52 460.10,187.19 460.20,186.83 460.30,186.44 460.40,186.01 460.50,185.56 460.60,185.06 460.70,184.53 460.80,183.95 460.90,183.33 461.00,182.66 461.10,181.94 461.20,181.17 461.30,180.33 461.40,179.44 461.50,178.48 461.60,177.46 461.70,176.36 461.80,175.18 461.90,173.93 462.00,172.59 462.10,171.16 462.20,169.64 462.30,168.03 462.40,166.31 462.50,164.49 462.60,162.55 462.70,160.51 462.80,158.34 462.90,156.06 463.00,153.65 463.10,151.11 463.20,148.44 463.30,145.64 463.40,142.70 463.50,139.62 463.60,136.41 463.70,133.06 463.80,129.58 463.90,125.96 464.00,122.21 464.10,118.34 464.20,114.34 464.30,110.24 464.40,106.04 464.50,101.74 464.60,97.38 464.70,92.96 464.80,88.51 464.90,84.05 465.00,79.61 465.10,75.24 465.20,70.99 465.30,66.90 465.40,63.06 465.50,59.58 465.60,56.63 465.70,54.67 465.80,56.13 465.90,58.08 466.00,60.59 466.10,63.80 466.20,67.79 466.30,72.59 466.40,78.19 466.50,84.54 466.60,91.55 466.70,99.09 466.80,106.99 466.90,115.09 467.00,123.20 467.10,131.14 467.20,138.75 467.30,145.88 467.40,152.43 467.50,158.32 467.60,163.51 467.70,168.00 467.80,171.81 467.90,174.98 468.00,177.57 468.10,179.67 468.20,181.34 468.30,182.66 468.40,183.71 468.50,184.53 468.60,185.18 468.70,185.70 468.80,186.13 468.90,186.49 469.00,186.80 469.10,187.08 469.20,187.32 469.30,187.55 469.40,187.75 469.50,187.95 469.60,188.13 469.70,188.30 469.80,188.46 469.90,188.61 470.00,188.75 470.10,188.89 470.20,189.02 470.30,189.14 470.40,189.25 470.50,189.36 470.60,189.46 470.70,189.56 470.80,189.65 470.90,189.74 471.00,189.82 471.10,189.89 471.20,189.97 471.30,190.03 471.40,190.10 471.50,190.16 471.60,190.21 471.70,190.27 471.80,190.31 471.90,190.36 472.00,190.40 472.10,190.44 472.20,190.48 472.30,190.52 472.40,190.55 472.50,190.57 472.60,190.60 472.70,190.62 472.80,190.64 472.90,190.66 473.00,190.68 473.10,190.69 473.20,190.70 473.30,190.70 473.40,190.71 473.50,190.71 473.60,190.71 473.70,190.70 473.80,190.69 473.90,190.68 474.00,190.66 474.10,190.64 474.20,190.61 474.30,190.58 474.40,190.55 474.50,190.51 474.60,190.46 474.70,190.41 474.80,190.35 474.90,190.28 475.00,190.21 475.10,190.13 475.20,190.04 475.30,189.93 475.40,189.82 475.50,189.70 475.60,189.57 475.70,189.42 475.80,189.26 475.90,189.08 476.00,188.88 476.10,188.67 476.20,188.44 476.30,188.19 476.40,187.92 476.50,187.62 476.60,187.30 476.70,186.94 476.80,186.57 476.90,186.15 477.00,185.71 477.10,185.23 477.20,184.71 477.30,184.15 477.40,183.54 477.50,182.89 477.60,182.19 477.70,181.43 477.80,180.62 477.90,179.75 478.00,178.82 478.10,177.82 478.20,176.75 478.30,175.60 478.40,174.38 478.50,173.07 478.60,171.68 478.70,170.20 478.80,168.62 478.90,166.94 479.00,165.16 479.10,163.27 479.20,161.27 479.30,159.16 479.40,156.93 479.50,154.57 479.60,152.09 479.70,149.48 479.80,146.74 479.90,143.86 480.00,140.85 480.10,137.71 480.20,134.43 480.30,131.02 480.40,127.47 480.50,123.80 480.60,120.00 480.70,116.08 480.80,112.06 480.90,107.93 481.00,103.71 481.10,99.42 481.20,95.07 481.30,90.69 481.40,86.29 481.50,81.92 481.60,77.60 481.70,73.38 481.80,69.33 481.90,65.50 482.00,62.00 482.10,59.00 482.20,56.85 482.30,57.85 482.40,59.71 482.50,62.09 482.60,65.14 482.70,68.95 482.80,73.55 482.90,78.96 483.00,85.11 483.10,91.92 483.20,99.28 483.30,107.02 483.40,114.98 483.50,122.98 483.60,130.84 483.70,138.40 483.80,145.50 483.90,152.05 484.00,157.96 484.10,163.18 484.20,167.71 484.30,171.56 484.40,174.78 484.50,177.42 484.60,179.55 484.70,181.26 484.80,182.61 484.90,183.68 485.00,184.51 485.10,185.18 485.20,185.71 485.30,186.15 485.40,186.51 485.50,186.82 485.60,187.10 485.70,187.34 485.80,187.57 485.90,187.77 486.00,187.97 486.10,188.15 486.20,188.32 486.30,188.48 486.40,188.63 486.50,188.77 486.60,188.90 486.70,189.03 486.80,189.15 486.90,189.27 487.00,189.37 487.10,189.47 487.20,189.57 487.30,189.66 487.40,189.74 487.50,189.83 487.60,189.90 487.70,189.97 487.80,190.04 487.90,190.10 488.00,190.16 488.10,190.22 488.20,190.27 488.30,190.32 488.40,190.36 488.50,190.41 488.60,190.45 488.70,190.48 488.80,190.52 488.90,190.55 489.00,190.58 489.10,190.60 489.20,190.62 489.30,190.64 489.40,190.66 489.50,190.67 489.60,190.69 489.70,190.69 489.80,190.70 489.90,190.70 490.00,190.70 490.10,190.70 490.20,190.69 490.30,190.68 490.40,190.67 490.50,190.65 490.60,190.63 490.70,190.60 490.80,190.57 490.90,190.53 491.00,190.49 491.10,190.44 491.20,190.38 491.30,190.32 491.40,190.25 491.50,190.18 491.60,190.09 491.70,189.99 491.80,189.89 491.90,189.77 492.00,189.65 492.10,189.51 492.20,189.35 492.30,189.19 492.40,189.00 492.50,188.80 492.60,188.58 492.70,188.34 492.80,188.08 492.90,187.80 493.00,187.50 493.10,187.16 493.20,186.80 493.30,186.41 493.40,185.99 493.50,185.53 493.60,185.03 493.70,184.50 493.80,183.92 493.90,183.30 494.00,182.63 494.10,181.91 494.20,181.14 494.30,180.31 494.40,179.42 494.50,178.46 494.60,177.44 494.70,176.34 494.80,175.17 494.90,173.92 495.00,172.58 495.10,171.16 495.20,169.65 495.30,168.04 495.40,166.33 495.50,164.52 495.60,162.60 495.70,160.56 495.80,158.42 495.90,156.15 496.00,153.76 496.10,151.24 496.20,148.60 496.30,145.82 496.40,142.91 496.50,139.88 496.60,136.70 496.70,133.40 496.80,129.96 496.90,126.39 497.00,122.70 497.10,118.89 497.20,114.97 497.30,110.94 497.40,106.82 497.50,102.62 497.60,98.36 497.70,94.05 497.80,89.71 497.90,85.39 498.00,81.10 498.10,76.89 498.20,72.81 498.30,68.93 498.40,65.32 498.50,62.11 498.60,59.53 498.70,59.00 498.80,60.66 498.90,62.75 499.00,65.44 499.10,68.85 499.20,73.04 499.30,78.01 499.40,83.75 499.50,90.19 499.60,97.21 499.70,104.70 499.80,112.47 499.90,120.37 500.00,128.20 500.10,135.80 500.20,143.03 500.30,149.75 500.40,155.87 500.50,161.32 500.60,166.10 500.70,170.19 500.80,173.64 500.90,176.50 501.00,178.82 501.10,180.68 501.20,182.17 501.30,183.34 501.40,184.26 501.50,184.98 501.60,185.56 501.70,186.03 501.80,186.42 501.90,186.75 502.00,187.04 502.10,187.29 502.20,187.52 502.30,187.73 502.40,187.93 502.50,188.11 502.60,188.28 502.70,188.44 502.80,188.60 502.90,188.74 503.00,188.88 503.10,189.01 503.20,189.13 503.30,189.24 503.40,189.35 503.50,189.45 503.60,189.55 503.70,189.64 503.80,189.73 503.90,189.81 504.00,189.89 504.10,189.96 504.20,190.03 504.30,190.09 504.40,190.15 504.50,190.21 504.60,190.26 504.70,190.31 504.80,190.35 504.90,190.40 505.00,190.44 505.10,190.47 505.20,190.51 505.30,190.54 505.40,190.57 505.50,190.59 505.60,190.62 505.70,190.64 505.80,190.65 505.90,190.67 506.00,190.68 506.10,190.69 506.20,190.69 506.30,190.70 506.40,190.70 506.50,190.69 506.60,190.68 506.70,190.67 506.80,190.66 506.90,190.64 507.00,190.62 507.10,190.59 507.20,190.56 507.30,190.52 507.40,190.48 507.50,190.43 507.60,190.37 507.70,190.31 507.80,190.24 507.90,190.16 508.00,190.08 508.10,189.98 508.20,189.88 508.30,189.76 508.40,189.63 508.50,189.49 508.60,189.34 508.70,189.17 508.80,188.98 508.90,188.78 509.00,188.56 509.10,188.32 509.20,188.06 509.30,187.77 509.40,187.46 509.50,187.13 509.60,186.77 509.70,186.37 509.80,185.95 509.90,185.49 510.00,184.99 510.10,184.45 510.20,183.87 510.30,183.25 510.40,182.57 510.50,181.85 510.60,181.07 510.70,180.24 510.80,179.34 510.90,178.38 511.00,177.36 511.10,176.26 511.20,175.08 511.30,173.83 511.40,172.49 511.50,171.07 511.60,169.55 511.70,167.94 511.80,166.23 511.90,164.41 512.00,162.49 512.10,160.45 512.20,158.30 512.30,156.04 512.40,153.65 512.50,151.13 512.60,148.49 512.70,145.72 512.80,142.82 512.90,139.79 513.00,136.62 513.10,133.33 513.20,129.91 513.30,126.36 513.40,122.68 513.50,118.90 513.60,115.00 513.70,111.00 513.80,106.91 513.90,102.75 514.00,98.53 514.10,94.27 514.20,89.99 514.30,85.73 514.40,81.51 514.50,77.38 514.60,73.40 514.70,69.62 514.80,66.14 514.90,63.10 515.00,60.78 515.10,61.11 515.20,62.83 515.30,65.03 515.40,67.86 515.50,71.41 515.60,75.73 515.70,80.83 515.80,86.67 515.90,93.18 516.00,100.24 516.10,107.71 516.20,115.43 516.30,123.22 516.40,130.91 516.50,138.33 516.60,145.35 516.70,151.84 516.80,157.72 516.90,162.94 517.00,167.49 517.10,171.37 517.20,174.62 517.30,177.30 517.40,179.48 517.50,181.22 517.60,182.60 517.70,183.69 517.80,184.54 517.90,185.22 518.00,185.76 518.10,186.20 518.20,186.57 518.30,186.88 518.40,187.16 518.50,187.40 518.60,187.62 518.70,187.83 518.80,188.02 518.90,188.20 519.00,188.36 519.10,188.52 519.20,188.67 519.30,188.81 519.40,188.94 519.50,189.07 519.60,189.18 519.70,189.30 519.80,189.40 519.90,189.50 520.00,189.59 520.10,189.68 520.20,189.77 520.30,189.85 520.40,189.92 520.50,189.99 520.60,190.06 520.70,190.12 520.80,190.18 520.90,190.23 521.00,190.28 521.10,190.33 521.20,190.37 521.30,190.42 521.40,190.45 521.50,190.49 521.60,190.52 521.70,190.55 521.80,190.58 521.90,190.60 522.00,190.62 522.10,190.64 522.20,190.66 522.30,190.67 522.40,190.68 522.50,190.68 522.60,190.69 522.70,190.69 522.80,190.69 522.90,190.68 523.00,190.67 523.10,190.66 523.20,190.64 523.30,190.62 523.40,190.59 523.50,190.56 523.60,190.52 523.70,190.48 523.80,190.43 523.90,190.38 524.00,190.32 524.10,190.25 524.20,190.18 524.30,190.09 524.40,190.00 524.50,189.89 524.60,189.78 524.70,189.65 524.80,189.52 524.90,189.36 525.00,189.20 525.10,189.02 525.20,188.82 525.30,188.60 525.40,188.36 525.50,188.11 525.60,187.83 525.70,187.53 525.80,187.20 525.90,186.84 526.00,186.45 526.10,186.03 526.20,185.58 526.30,185.09 526.40,184.56 526.50,183.99 526.60,183.38 526.70,182.72 526.80,182.00 526.90,181.24 527.00,180.42 527.10,179.54 527.20,178.59 527.30,177.58 527.40,176.50 527.50,175.34 527.60,174.11 527.70,172.79 527.80,171.39 527.90,169.90 528.00,168.31 528.10,166.62 528.20,164.84 528.30,162.94 528.40,160.94 528.50,158.82 528.60,156.59 528.70,154.24 528.80,151.76 528.90,149.16 529.00,146.43 529.10,143.57 529.20,140.58 529.30,137.46 529.40,134.22 529.50,130.84 529.60,127.34 529.70,123.72 529.80,119.99 529.90,116.14 530.00,112.20 530.10,108.16 530.20,104.06 530.30,99.89 530.40,95.68 530.50,91.46 530.60,87.25 530.70,83.08 530.80,79.00 530.90,75.05 531.00,71.31 531.10,67.85 531.20,64.82 531.30,62.48 531.40,62.63 531.50,64.31 531.60,66.45 531.70,69.21 531.80,72.67 531.90,76.90 532.00,81.90 532.10,87.63 532.20,94.03 532.30,100.97 532.40,108.34 532.50,115.95 532.60,123.65 532.70,131.25 532.80,138.60 532.90,145.56 533.00,152.00 533.10,157.84 533.20,163.04 533.30,167.56 533.40,171.43 533.50,174.67 533.60,177.35 533.70,179.52 533.80,181.26 533.90,182.64 534.00,183.73 534.10,184.58 534.20,185.26 534.30,185.80 534.40,186.24 534.50,186.61 534.60,186.92 534.70,187.19 534.80,187.44 534.90,187.66 535.00,187.86 535.10,188.05 535.20,188.22 535.30,188.39 535.40,188.55 535.50,188.69 535.60,188.83 535.70,188.96 535.80,189.09 535.90,189.20 536.00,189.31 536.10,189.42 536.20,189.52 536.30,189.61 536.40,189.70 536.50,189.78 536.60,189.86 536.70,189.93 536.80,190.00 536.90,190.07 537.00,190.13 537.10,190.18 537.20,190.24 537.30,190.29 537.40,190.34 537.50,190.38 537.60,190.42 537.70,190.46 537.80,190.49 537.90,190.52 538.00,190.55 538.10,190.58 538.20,190.60 538.30,190.62 538.40,190.64 538.50,190.65 538.60,190.66 538.70,190.67 538.80,190.68 538.90,190.68 539.00,190.68 539.10,190.68 539.20,190.67 539.30,190.66 539.40,190.64 539.50,190.62 539.60,190.60 539.70,190.57 539.80,190.54 539.90,190.50 540.00,190.45 540.10,190.40 540.20,190.35 540.30,190.28 540.40,190.21 540.50,190.13 540.60,190.04 540.70,189.94 540.80,189.83 540.90,189.71 541.00,189.58 541.10,189.44 541.20,189.28 541.30,189.10 541.40,188.91 541.50,188.71 541.60,188.48 541.70,188.23 541.80,187.97 541.90,187.67 542.00,187.36 542.10,187.01 542.20,186.64 542.30,186.24 542.40,185.80 542.50,185.33 542.60,184.83 542.70,184.28 542.80,183.69 542.90,183.05 543.00,182.36 543.10,181.63 543.20,180.83 543.30,179.98 543.40,179.07 543.50,178.10 543.60,177.05 543.70,175.94 543.80,174.74 543.90,173.47 544.00,172.12 544.10,170.67 544.20,169.14 544.30,167.51 544.40,165.77 544.50,163.94 544.60,162.00 544.70,159.95 544.80,157.78 544.90,155.49 545.00,153.09 545.10,150.56 545.20,147.91 545.30,145.13 545.40,142.22 545.50,139.18 545.60,136.02 545.70,132.72 545.80,129.31 545.90,125.77 546.00,122.12 546.10,118.35 546.20,114.49 546.30,110.53 546.40,106.49 546.50,102.39 546.60,98.25 546.70,94.07 546.80,89.90 546.90,85.76 547.00,81.69 547.10,77.74 547.20,73.96 547.30,70.43 547.40,67.27 547.50,64.66 547.60,63.59 547.70,65.13 547.80,67.07 547.90,69.57 548.00,72.74 548.10,76.65 548.20,81.32 548.30,86.73 548.40,92.84 548.50,99.53 548.60,106.68 548.70,114.14 548.80,121.74 548.90,129.31 549.00,136.68 549.10,143.71 549.20,150.26 549.30,156.26 549.40,161.62 549.50,166.33 549.60,170.38 549.70,173.80 549.80,176.63 549.90,178.95 550.00,180.81 550.10,182.29 550.20,183.46 550.30,184.38 550.40,185.11 550.50,185.69 550.60,186.16 550.70,186.54 550.80,186.87 550.90,187.15 551.00,187.40 551.10,187.62 551.20,187.83 551.30,188.02 551.40,188.20 551.50,188.37 551.60,188.52 551.70,188.67 551.80,188.81 551.90,188.94 552.00,189.07 552.10,189.19 552.20,189.30 552.30,189.40 552.40,189.50 552.50,189.60 552.60,189.68 552.70,189.77 552.80,189.85 552.90,189.92 553.00,189.99 553.10,190.06 553.20,190.12 553.30,190.18 553.40,190.23 553.50,190.28 553.60,190.33 553.70,190.37 553.80,190.41 553.90,190.45 554.00,190.48 554.10,190.52 554.20,190.54 554.30,190.57 554.40,190.59 554.50,190.61 554.60,190.63 554.70,190.65 554.80,190.66 554.90,190.67 555.00,190.67 555.10,190.67 555.20,190.67 555.30,190.67 555.40,190.66 555.50,190.65 555.60,190.63 555.70,190.61 555.80,190.59 555.90,190.56 556.00,190.52 556.10,190.48 556.20,190.44 556.30,190.39 556.40,190.33 556.50,190.26 556.60,190.19 556.70,190.11 556.80,190.01 556.90,189.91 557.00,189.80 557.10,189.68 557.20,189.55 557.30,189.40 557.40,189.24 557.50,189.06 557.60,188.86 557.70,188.65 557.80,188.42 557.90,188.17 558.00,187.90 558.10,187.60 558.20,187.28 558.30,186.93 558.40,186.55 558.50,186.15 558.60,185.70 558.70,185.22 558.80,184.71 558.90,184.15 559.00,183.55 559.10,182.90 559.20,182.21 559.30,181.46 559.40,180.66 559.50,179.80 559.60,178.87 559.70,177.88 559.80,176.83 559.90,175.70 560.00,174.49 560.10,173.20 560.20,171.83 560.30,170.37 560.40,168.82 560.50,167.17 560.60,165.42 560.70,163.57 560.80,161.61 560.90,159.54 561.00,157.36 561.10,155.06 561.20,152.64 561.30,150.09 561.40,147.42 561.50,144.63 561.60,141.71 561.70,138.66 561.80,135.48 561.90,132.18 562.00,128.76 562.10,125.22 562.20,121.56 562.30,117.80 562.40,113.95 562.50,110.00 562.60,105.98 562.70,101.91 562.80,97.79 562.90,93.66 563.00,89.54 563.10,85.46 563.20,81.47 563.30,77.61 563.40,73.95 563.50,70.57 563.60,67.60 563.70,65.30 563.80,65.43 563.90,67.07 564.00,69.16 564.10,71.85 564.20,75.24 564.30,79.37 564.40,84.25 564.50,89.86 564.60,96.11 564.70,102.90 564.80,110.10 564.90,117.55 565.00,125.08 565.10,132.52 565.20,139.71 565.30,146.52 565.40,152.82 565.50,158.54 565.60,163.62 565.70,168.05 565.80,171.84 565.90,175.02 566.00,177.64 566.10,179.76 566.20,181.47 566.30,182.82 566.40,183.89 566.50,184.73 566.60,185.39 566.70,185.92 566.80,186.35 566.90,186.71 567.00,187.02 567.10,187.28 567.20,187.52 567.30,187.73 567.40,187.93 567.50,188.12 567.60,188.29 567.70,188.45 567.80,188.60 567.90,188.75 568.00,188.88 568.10,189.01 568.20,189.13 568.30,189.25 568.40,189.35 568.50,189.46 568.60,189.55 568.70,189.64 568.80,189.73 568.90,189.81 569.00,189.89 569.10,189.96 569.20,190.02 569.30,190.09 569.40,190.15 569.50,190.20 569.60,190.26 569.70,190.30 569.80,190.35 569.90,190.39 570.00,190.43 570.10,190.47 570.20,190.50 570.30,190.53 570.40,190.56 570.50,190.58 570.60,190.60 570.70,190.62 570.80,190.63 570.90,190.65 571.00,190.65 571.10,190.66 571.20,190.66 571.30,190.66 571.40,190.66 571.50,190.65 571.60,190.64 571.70,190.63 571.80,190.61 571.90,190.58 572.00,190.55 572.10,190.52 572.20,190.48 572.30,190.43 572.40,190.38 572.50,190.33 572.60,190.26 572.70,190.19 572.80,190.11 572.90,190.02 573.00,189.92 573.10,189.81 573.20,189.68 573.30,189.55 573.40,189.40 573.50,189.24 573.60,189.07 573.70,188.87 573.80,188.67 573.90,188.44 574.00,188.19 574.10,187.92 574.20,187.62 574.30,187.30 574.40,186.95 574.50,186.58 574.60,186.17 574.70,185.73 574.80,185.26 574.90,184.74 575.00,184.19 575.10,183.59 575.20,182.95 575.30,182.26 575.40,181.52 575.50,180.72 575.60,179.86 575.70,178.95 575.80,177.96 575.90,176.91 576.00,175.79 576.10,174.59 576.20,173.31 576.30,171.95 576.40,170.50 576.50,168.96 576.60,167.32 576.70,165.59 576.80,163.75 576.90,161.80 577.00,159.75 577.10,157.58 577.20,155.30 577.30,152.89 577.40,150.37 577.50,147.72 577.60,144.94 577.70,142.04 577.80,139.02 577.90,135.87 578.00,132.59 578.10,129.20 578.20,125.68 578.30,122.06 578.40,118.33 578.50,114.51 578.60,110.60 578.70,106.61 578.80,102.57 578.90,98.50 579.00,94.41 579.10,90.33 579.20,86.29 579.30,82.34 579.40,78.53 579.50,74.91 579.60,71.58 579.70,68.66 579.80,66.43 579.90,66.71 580.00,68.35 580.10,70.45 580.20,73.14 580.30,76.53 580.40,80.65 580.50,85.53 580.60,91.11 580.70,97.33 580.80,104.08 580.90,111.22 581.00,118.61 581.10,126.06 581.20,133.42 581.30,140.53 581.40,147.25 581.50,153.47 581.60,159.11 581.70,164.11 581.80,168.47 581.90,172.19 582.00,175.31 582.10,177.88 582.20,179.96 582.30,181.63 582.40,182.96 582.50,184.00 582.60,184.82 582.70,185.47 582.80,185.99 582.90,186.42 583.00,186.77 583.10,187.07 583.20,187.33 583.30,187.57 583.40,187.78 583.50,187.97 583.60,188.15 583.70,188.32 583.80,188.48 583.90,188.64 584.00,188.78 584.10,188.91 584.20,189.04 584.30,189.16 584.40,189.27 584.50,189.38 584.60,189.48 584.70,189.57 584.80,189.66 584.90,189.75 585.00,189.83 585.10,189.90 585.20,189.97 585.30,190.04 585.40,190.10 585.50,190.16 585.60,190.21 585.70,190.26 585.80,190.31 585.90,190.36 586.00,190.40 586.10,190.44 586.20,190.47 586.30,190.50 586.40,190.53 586.50,190.56 586.60,190.58 586.70,190.60 586.80,190.62 586.90,190.63 587.00,190.64 587.10,190.65 587.20,190.65 587.30,190.65 587.40,190.65 587.50,190.65 587.60,190.64 587.70,190.62 587.80,190.61 587.90,190.58 588.00,190.56 588.10,190.53 588.20,190.49 588.30,190.45 588.40,190.40 588.50,190.34 588.60,190.28 588.70,190.21 588.80,190.13 588.90,190.04 589.00,189.95 589.10,189.84 589.20,189.72 589.30,189.60 589.40,189.45 589.50,189.30 589.60,189.13 589.70,188.94 589.80,188.74 589.90,188.52 590.00,188.27 590.10,188.01 590.20,187.73 590.30,187.42 590.40,187.08 590.50,186.71 590.60,186.32 590.70,185.89 590.80,185.43 590.90,184.93 591.00,184.39 591.10,183.81 591.20,183.19 591.30,182.51 591.40,181.79 591.50,181.01 591.60,180.18 591.70,179.29 591.80,178.33 591.90,177.31 592.00,176.21 592.10,175.04 592.20,173.80 592.30,172.47 592.40,171.05 592.50,169.55 592.60,167.95 592.70,166.25 592.80,164.46 592.90,162.56 593.00,160.55 593.10,158.43 593.20,156.19 593.30,153.84 593.40,151.36 593.50,148.77 593.60,146.05 593.70,143.21 593.80,140.24 593.90,137.15 594.00,133.93 594.10,130.59 594.20,127.14 594.30,123.58 594.40,119.91 594.50,116.14 594.60,112.28 594.70,108.35 594.80,104.36 594.90,100.32 595.00,96.27 595.10,92.22 595.20,88.20 595.30,84.26 595.40,80.44 595.50,76.80 595.60,73.41 595.70,70.40 595.80,67.98 595.90,67.42 596.00,68.96 596.10,70.91 596.20,73.42 596.30,76.60 596.40,80.51 596.50,85.15 596.60,90.51 596.70,96.52 596.80,103.09 596.90,110.09 597.00,117.37 597.10,124.76 597.20,132.10 597.30,139.22 597.40,145.99 597.50,152.29 597.60,158.03 597.70,163.15 597.80,167.63 597.90,171.48 598.00,174.71 598.10,177.40 598.20,179.58 598.30,181.33 598.40,182.73 598.50,183.83 598.60,184.69 598.70,185.37 598.80,185.92 598.90,186.36 599.00,186.72 599.10,187.03 599.20,187.30 599.30,187.54 599.40,187.76 599.50,187.95 599.60,188.14 599.70,188.31 599.80,188.47 599.90,188.62 600.00,188.76 600.10,188.90 600.20,189.03 600.30,189.15 600.40,189.26 600.50,189.37 600.60,189.47 600.70,189.56 600.80,189.65 600.90,189.74 601.00,189.82 601.10,189.89 601.20,189.96 601.30,190.03 601.40,190.09 601.50,190.15 601.60,190.21 601.70,190.26 601.80,190.31 601.90,190.35 602.00,190.39 602.10,190.43 602.20,190.46 602.30,190.49 602.40,190.52 602.50,190.55 602.60,190.57 602.70,190.59 602.80,190.61 602.90,190.62 603.00,190.63 603.10,190.64 603.20,190.64 603.30,190.64 603.40,190.64 603.50,190.63 603.60,190.62 603.70,190.61 603.80,190.59 603.90,190.57 604.00,190.54 604.10,190.51 604.20,190.47 604.30,190.42 604.40,190.37 604.50,190.31 604.60,190.25 604.70,190.18 604.80,190.10 604.90,190.01 605.00,189.91 605.10,189.80 605.20,189.68 605.30,189.54 605.40,189.40 605.50,189.24 605.60,189.06 605.70,188.87 605.80,188.66 605.90,188.43 606.00,188.18 606.10,187.91 606.20,187.62 606.30,187.30 606.40,186.95 606.50,186.58 606.60,186.17 606.70,185.73 606.80,185.26 606.90,184.74 607.00,184.19 607.10,183.60 607.20,182.95 607.30,182.26 607.40,181.52 607.50,180.73 607.60,179.88 607.70,178.96 607.80,177.98 607.90,176.94 608.00,175.82 608.10,174.62 608.20,173.35 608.30,171.99 608.40,170.55 608.50,169.02 608.60,167.39 608.70,165.66 608.80,163.83 608.90,161.90 609.00,159.85 609.10,157.70 609.20,155.43 609.30,153.04 609.40,150.53 609.50,147.90 609.60,145.15 609.70,142.27 609.80,139.27 609.90,136.15 610.00,132.90 610.10,129.54 610.20,126.06 610.30,122.48 610.40,118.79 610.50,115.01 610.60,111.15 610.70,107.22 610.80,103.24 610.90,99.22 611.00,95.20 611.10,91.19 611.20,87.23 611.30,83.37 611.40,79.65 611.50,76.13 611.60,72.92 611.70,70.16 611.80,68.16 611.90,69.01 612.00,70.70 612.10,72.87 612.20,75.65 612.30,79.12 612.40,83.32 612.50,88.25 612.60,93.87 612.70,100.10 612.80,106.83 612.90,113.92 613.00,121.21 613.10,128.54 613.20,135.74 613.30,142.67 613.40,149.19 613.50,155.21 613.60,160.63 613.70,165.43 613.80,169.59 613.90,173.14 614.00,176.10 614.10,178.53 614.20,180.49 614.30,182.07 614.40,183.31 614.50,184.29 614.60,185.06 614.70,185.68 614.80,186.17 614.90,186.57 615.00,186.90 615.10,187.19 615.20,187.44 615.30,187.67 615.40,187.87 615.50,188.06 615.60,188.24 615.70,188.40 615.80,188.56 615.90,188.70 616.00,188.84 616.10,188.97 616.20,189.10 616.30,189.21 616.40,189.32 616.50,189.43 616.60,189.52 616.70,189.62 616.80,189.70 616.90,189.78 617.00,189.86 617.10,189.93 617.20,190.00 617.30,190.07 617.40,190.13 617.50,190.18 617.60,190.23 617.70,190.28 617.80,190.33 617.90,190.37 618.00,190.41 618.10,190.45 618.20,190.48 618.30,190.51 618.40,190.53 618.50,190.56 618.60,190.58 618.70,190.59 618.80,190.61 618.90,190.62 619.00,190.63 619.10,190.63 619.20,190.63 619.30,190.63 619.40,190.62 619.50,190.61 619.60,190.60 619.70,190.58 619.80,190.56 619.90,190.53 620.00,190.50 620.10,190.46 620.20,190.41 620.30,190.36 620.40,190.30 620.50,190.24 620.60,190.17 620.70,190.08 620.80,189.99 620.90,189.89 621.00,189.78 621.10,189.66 621.20,189.53 621.30,189.38 621.40,189.22 621.50,189.04 621.60,188.85 621.70,188.64 621.80,188.41 621.90,188.16 622.00,187.89 622.10,187.59 622.20,187.27 622.30,186.92 622.40,186.55 622.50,186.14 622.60,185.70 622.70,185.22 622.80,184.71 622.90,184.15 623.00,183.55 623.10,182.91 623.20,182.22 623.30,181.47 623.40,180.68 623.50,179.82 623.60,178.90 623.70,177.92 623.80,176.87 623.90,175.75 624.00,174.55 624.10,173.27 624.20,171.91 624.30,170.47 624.40,168.93 624.50,167.30 624.60,165.57 624.70,163.74 624.80,161.80 624.90,159.75 625.00,157.60 625.10,155.32 625.20,152.93 625.30,150.43 625.40,147.80 625.50,145.04 625.60,142.17 625.70,139.17 625.80,136.05 625.90,132.81 626.00,129.45 626.10,125.98 626.20,122.40 626.30,118.73 626.40,114.96 626.50,111.11 626.60,107.20 626.70,103.24 626.80,99.25 626.90,95.25 627.00,91.27 627.10,87.35 627.20,83.53 627.30,79.86 627.40,76.41 627.50,73.27 627.60,70.61 627.70,68.81 627.80,70.05 627.90,71.78 628.00,74.02 628.10,76.88 628.20,80.43 628.30,84.71 628.40,89.72 628.50,95.39 628.60,101.66 628.70,108.41 628.80,115.49 628.90,122.75 629.00,130.02 629.10,137.14 629.20,143.98 629.30,150.39 629.40,156.27 629.50,161.58 629.60,166.25 629.70,170.29 629.80,173.72 629.90,176.58 630.00,178.93 630.10,180.82 630.20,182.33 630.30,183.52 630.40,184.46 630.50,185.20 630.60,185.79 630.70,186.26 630.80,186.65 630.90,186.98 631.00,187.26 631.10,187.50 631.20,187.72 631.30,187.92 631.40,188.11 631.50,188.28 631.60,188.44 631.70,188.60 631.80,188.74 631.90,188.88 632.00,189.01 632.10,189.13 632.20,189.24 632.30,189.35 632.40,189.45 632.50,189.55 632.60,189.64 632.70,189.72 632.80,189.80 632.90,189.88 633.00,189.95 633.10,190.02 633.20,190.08 633.30,190.14 633.40,190.19 633.50,190.25 633.60,190.29 633.70,190.34 633.80,190.38 633.90,190.42 634.00,190.45 634.10,190.48 634.20,190.51 634.30,190.53 634.40,190.56 634.50,190.57 634.60,190.59 634.70,190.60 634.80,190.61 634.90,190.62 635.00,190.62 635.10,190.62 635.20,190.61 635.30,190.61 635.40,190.59 635.50,190.58 635.60,190.55 635.70,190.53 635.80,190.50 635.90,190.46 636.00,190.42 636.10,190.37 636.20,190.31 636.30,190.25 636.40,190.18 636.50,190.10 636.60,190.01 636.70,189.91 636.80,189.80 636.90,189.68 637.00,189.55 637.10,189.41 637.20,189.25 637.30,189.08 637.40,188.89 637.50,188.68 637.60,188.46 637.70,188.21 637.80,187.95 637.90,187.66 638.00,187.34 638.10,187.00 638.20,186.63 638.30,186.23 638.40,185.80 638.50,185.33 638.60,184.82 638.70,184.28 638.80,183.69 638.90,183.06 639.00,182.38 639.10,181.64 639.20,180.86 639.30,180.02 639.40,179.11 639.50,178.15 639.60,177.11 639.70,176.01 639.80,174.83 639.90,173.57 640.00,172.23 640.10,170.81 640.20,169.29 640.30,167.69 640.40,165.98 640.50,164.18 640.60,162.27 640.70,160.25 640.80,158.12 640.90,155.88 641.00,153.52 641.10,151.04 641.20,148.45 641.30,145.73 641.40,142.89 641.50,139.92 641.60,136.84 641.70,133.63 641.80,130.31 641.90,126.88 642.00,123.34 642.10,119.70 642.20,115.96 642.30,112.15 642.40,108.27 642.50,104.34 642.60,100.37 642.70,96.39 642.80,92.43 642.90,88.53 643.00,84.71 643.10,81.03 643.20,77.56 643.30,74.39 643.40,71.65 643.50,69.67 643.60,70.50 643.70,72.16 643.80,74.30 643.90,77.04 644.00,80.47 644.10,84.61 644.20,89.48 644.30,95.03 644.40,101.18 644.50,107.82 644.60,114.82 644.70,122.02 644.80,129.26 644.90,136.38 645.00,143.23 645.10,149.67 645.20,155.61 645.30,160.98 645.40,165.72 645.50,169.84 645.60,173.34 645.70,176.26 645.80,178.67 645.90,180.62 646.00,182.17 646.10,183.40 646.20,184.37 646.30,185.13 646.40,185.74 646.50,186.23 646.60,186.62 646.70,186.95 646.80,187.24 646.90,187.49 647.00,187.71 647.10,187.91 647.20,188.10 647.30,188.27 647.40,188.44 647.50,188.59 647.60,188.73 647.70,188.87 647.80,189.00 647.90,189.12 648.00,189.23 648.10,189.34 648.20,189.44 648.30,189.54 648.40,189.63 648.50,189.72 648.60,189.80 648.70,189.87 648.80,189.95 648.90,190.01 649.00,190.07 649.10,190.13 649.20,190.19 649.30,190.24 649.40,190.29 649.50,190.33 649.60,190.37 649.70,190.41 649.80,190.44 649.90,190.47 650.00,190.50 650.10,190.53 650.20,190.55 650.30,190.57 650.40,190.58 650.50,190.59 650.60,190.60 650.70,190.61 650.80,190.61 650.90,190.60 651.00,190.60 651.10,190.59 651.20,190.57 651.30,190.56 651.40,190.53 651.50,190.50 651.60,190.47 651.70,190.43 651.80,190.38 651.90,190.33 652.00,190.27 652.10,190.21 652.20,190.13 652.30,190.05 652.40,189.96 652.50,189.85 652.60,189.74 652.70,189.62 652.80,189.48 652.90,189.33 653.00,189.16 653.10,188.98 653.20,188.79 653.30,188.57 653.40,188.34 653.50,188.08 653.60,187.80 653.70,187.50 653.80,187.17 653.90,186.82 654.00,186.43 654.10,186.02 654.20,185.57 654.30,185.08 654.40,184.56 654.50,183.99 654.60,183.38 654.70,182.73 654.80,182.02 654.90,181.27 655.00,180.45 655.10,179.58 655.20,178.65 655.30,177.65 655.40,176.59 655.50,175.45 655.60,174.23 655.70,172.93 655.80,171.55 655.90,170.09 656.00,168.53 656.10,166.88 656.20,165.13 656.30,163.27 656.40,161.31 656.50,159.24 656.60,157.06 656.70,154.77 656.80,152.36 656.90,149.83 657.00,147.18 657.10,144.40 657.20,141.51 657.30,138.49 657.40,135.36 657.50,132.10 657.60,128.74 657.70,125.26 657.80,121.68 657.90,118.00 658.00,114.24 658.10,110.41 658.20,106.51 658.30,102.58 658.40,98.62 658.50,94.67 658.60,90.75 658.70,86.90 658.80,83.17 658.90,79.61 659.00,76.31 659.10,73.36 659.20,70.99 659.30,70.41 659.40,71.91 659.50,73.80 659.60,76.25 659.70,79.34 659.80,83.14 659.90,87.66 660.00,92.88 660.10,98.75 660.20,105.15 660.30,111.98 660.40,119.07 660.50,126.28 660.60,133.44 660.70,140.40 660.80,147.01 660.90,153.16 661.00,158.77 661.10,163.77 661.20,168.15 661.30,171.91 661.40,175.08 661.50,177.70 661.60,179.84 661.70,181.55 661.80,182.92 661.90,183.99 662.00,184.84 662.10,185.51 662.20,186.04 662.30,186.47 662.40,186.83 662.50,187.13 662.60,187.39 662.70,187.63 662.80,187.84 662.90,188.03 663.00,188.21 663.10,188.38 663.20,188.53 663.30,188.68 663.40,188.82 663.50,188.95 663.60,189.08 663.70,189.19 663.80,189.30 663.90,189.41 664.00,189.51 664.10,189.60 664.20,189.69 664.30,189.77 664.40,189.84 664.50,189.92 664.60,189.99 664.70,190.05 664.80,190.11 664.90,190.17 665.00,190.22 665.10,190.27 665.20,190.31 665.30,190.35 665.40,190.39 665.50,190.43 665.60,190.46 665.70,190.49 665.80,190.51 665.90,190.53 666.00,190.55 666.10,190.57 666.20,190.58 666.30,190.59 666.40,190.59 666.50,190.59 666.60,190.59 666.70,190.58 666.80,190.57 666.90,190.56 667.00,190.54 667.10,190.52 667.20,190.49 667.30,190.45 667.40,190.41 667.50,190.37 667.60,190.31 667.70,190.25 667.80,190.18 667.90,190.11 668.00,190.02 668.10,189.93 668.20,189.83 668.30,189.71 668.40,189.58 668.50,189.44 668.60,189.29 668.70,189.12 668.80,188.94 668.90,188.74 669.00,188.52 669.10,188.28 669.20,188.02 669.30,187.74 669.40,187.43 669.50,187.10 669.60,186.74 669.70,186.35 669.80,185.93 669.90,185.47 670.00,184.98 670.10,184.44 670.20,183.87 670.30,183.25 670.40,182.59 670.50,181.87 670.60,181.10 670.70,180.28 670.80,179.40" fill="none" stroke="#2779b8" stroke-width="1.4" stroke-linejoin="round" stroke-linecap="round" />
<polyline points="397.60,174.21 397.70,173.33 397.80,172.29 397.90,171.05 398.00,169.59 398.10,167.87 398.20,165.88 398.30,163.57 398.40,160.92 398.50,157.90 398.60,154.49 398.70,150.65 398.80,146.38 398.90,141.66 399.00,136.48 399.10,130.84 399.20,124.77 399.30,118.27 399.40,111.39 399.50,104.18 399.60,96.69 399.70,88.99 399.80,81.18 399.90,73.36 400.00,65.62 400.10,58.09 400.20,50.90 400.30,44.16 400.40,38.02 400.50,32.59 400.60,28.01 400.70,24.38 400.80,21.84 400.90,20.50 401.00,20.52 401.10,21.25 401.20,22.30 401.30,23.60 401.40,25.10 401.50,26.79 401.60,28.63 401.70,30.60 401.80,32.70 401.90,34.90 402.00,37.20 402.10,39.58 402.20,42.03 402.30,44.55 402.40,47.12 402.50,49.74 402.60,52.39 402.70,55.08 402.80,57.79 402.90,60.53 403.00,63.27 403.10,66.02 403.20,68.78 403.30,71.53 403.40,74.28 403.50,77.01 403.60,79.73 403.70,82.44 403.80,85.11 403.90,87.77 404.00,90.39 404.10,92.99 404.20,95.55 404.30,98.07 404.40,100.56 404.50,103.01 404.60,105.42 404.70,107.78 404.80,110.10 404.90,112.37 405.00,114.60 405.10,116.78 405.20,118.92 405.30,121.00 405.40,123.04 405.50,125.02 405.60,126.96 405.70,128.85 405.80,130.69 405.90,132.48 406.00,134.22 406.10,135.91 406.20,137.55 406.30,139.15 406.40,140.69 406.50,142.19 406.60,143.64 406.70,145.05 406.80,146.41 406.90,147.73 407.00,149.00 407.10,150.23 407.20,151.42 407.30,152.56 407.40,153.67 407.50,154.73 407.60,155.76 407.70,156.75 407.80,157.70 407.90,158.62 408.00,159.50 408.10,160.34 408.20,161.16 408.30,161.94 408.40,162.69 408.50,163.40 408.60,164.09 408.70,164.75 408.80,165.39 408.90,165.99 409.00,166.57 409.10,167.13 409.20,167.66 409.30,168.17 409.40,168.65 409.50,169.11 409.60,169.56 409.70,169.98 409.80,170.38 409.90,170.76 410.00,171.13 410.10,171.48 410.20,171.81 410.30,172.13 410.40,172.43 410.50,172.71 410.60,172.98 410.70,173.24 410.80,173.49 410.90,173.72 411.00,173.94 411.10,174.15 411.20,174.35 411.30,174.54 411.40,174.72 411.50,174.89 411.60,175.05 411.70,175.20 411.80,175.34 411.90,175.48 412.00,175.61 412.10,175.73 412.20,175.84 412.30,175.94 412.40,176.04 412.50,176.13 412.60,176.21 412.70,176.29 412.80,176.35 412.90,176.41 413.00,176.45 413.10,176.48 413.20,176.50 413.30,176.50 413.40,176.47 413.50,176.42 413.60,176.34 413.70,176.23 413.80,176.06 413.90,175.84 414.00,175.56 414.10,175.20 414.20,174.75 414.30,174.18 414.40,173.49 414.50,172.65 414.60,171.64 414.70,170.44 414.80,169.01 414.90,167.33 415.00,165.36 415.10,163.09 415.20,160.48 415.30,157.51 415.40,154.14 415.50,150.35 415.60,146.13 415.70,141.46 415.80,136.35 415.90,130.78 416.00,124.78 416.10,118.36 416.20,111.57 416.30,104.45 416.40,97.06 416.50,89.47 416.60,81.77 416.70,74.06 416.80,66.44 416.90,59.04 417.00,51.97 417.10,45.35 417.20,39.33 417.30,34.01 417.40,29.54 417.50,26.02 417.60,23.56 417.70,22.30 417.80,22.38 417.90,23.12 418.00,24.17 418.10,25.47 418.20,26.96 418.30,28.63 418.40,30.46 418.50,32.41 418.60,34.49 418.70,36.67 418.80,38.94 418.90,41.29 419.00,43.71 419.10,46.20 419.20,48.74 419.30,51.32 419.40,53.94 419.50,56.60 419.60,59.28 419.70,61.97 419.80,64.68 419.90,67.40 420.00,70.12 420.10,72.83 420.20,75.54 420.30,78.24 420.40,80.92 420.50,83.58 420.60,86.23 420.70,88.84 420.80,91.43 420.90,93.99 421.00,96.51 421.10,99.00 421.20,101.45 421.30,103.87 421.40,106.24 421.50,108.57 421.60,110.85 421.70,113.09 421.80,115.29 421.90,117.44 422.00,119.54 422.10,121.60 422.20,123.60 422.30,125.56 422.40,127.47 422.50,129.33 422.60,131.14 422.70,132.90 422.80,134.62 422.90,136.28 423.00,137.90 423.10,139.47 423.20,140.99 423.30,142.47 423.40,143.90 423.50,145.28 423.60,146.63 423.70,147.92 423.80,149.17 423.90,150.39 424.00,151.55 424.10,152.68 424.20,153.77 424.30,154.82 424.40,155.83 424.50,156.80 424.60,157.74 424.70,158.64 424.80,159.51 424.90,160.34 425.00,161.14 425.10,161.91 425.20,162.65 425.30,163.36 425.40,164.03 425.50,164.68 425.60,165.31 425.70,165.90 425.80,166.47 425.90,167.02 426.00,167.54 426.10,168.04 426.20,168.52 426.30,168.98 426.40,169.41 426.50,169.83 426.60,170.22 426.70,170.60 426.80,170.96 426.90,171.30 427.00,171.63 427.10,171.94 427.20,172.23 427.30,172.52 427.40,172.78 427.50,173.04 427.60,173.28 427.70,173.51 427.80,173.73 427.90,173.93 428.00,174.13 428.10,174.31 428.20,174.49 428.30,174.66 428.40,174.81 428.50,174.96 428.60,175.10 428.70,175.24 428.80,175.36 428.90,175.48 429.00,175.59 429.10,175.69 429.20,175.78 429.30,175.87 429.40,175.95 429.50,176.02 429.60,176.08 429.70,176.13 429.80,176.17 429.90,176.19 430.00,176.20 430.10,176.18 430.20,176.14 430.30,176.07 430.40,175.97 430.50,175.82 430.60,175.62 430.70,175.36 430.80,175.03 430.90,174.61 431.00,174.08 431.10,173.43 431.20,172.65 431.30,171.70 431.40,170.56 431.50,169.21 431.60,167.61 431.70,165.75 431.80,163.59 431.90,161.11 432.00,158.26 432.10,155.04 432.20,151.41 432.30,147.36 432.40,142.87 432.50,137.93 432.60,132.55 432.70,126.73 432.80,120.50 432.90,113.89 433.00,106.94 433.10,99.71 433.20,92.26 433.30,84.69 433.40,77.07 433.50,69.53 433.60,62.15 433.70,55.08 433.80,48.43 433.90,42.32 434.00,36.89 434.10,32.26 434.20,28.53 434.30,25.84 434.40,24.28 434.50,24.04 434.60,24.67 434.70,25.64 434.80,26.86 434.90,28.29 435.00,29.90 435.10,31.66 435.20,33.56 435.30,35.58 435.40,37.71 435.50,39.92 435.60,42.23 435.70,44.60 435.80,47.04 435.90,49.53 436.00,52.07 436.10,54.65 436.20,57.26 436.30,59.90 436.40,62.55 436.50,65.23 436.60,67.90 436.70,70.59 436.80,73.27 436.90,75.94 437.00,78.61 437.10,81.26 437.20,83.89 437.30,86.50 437.40,89.09 437.50,91.65 437.60,94.18 437.70,96.68 437.80,99.15 437.90,101.58 438.00,103.97 438.10,106.32 438.20,108.63 438.30,110.89 438.40,113.12 438.50,115.30 438.60,117.43 438.70,119.51 438.80,121.55 438.90,123.54 439.00,125.49 439.10,127.38 439.20,129.23 439.30,131.03 439.40,132.78 439.50,134.49 439.60,136.14 439.70,137.75 439.80,139.31 439.90,140.82 440.00,142.29 440.10,143.72 440.20,145.09 440.30,146.43 440.40,147.72 440.50,148.97 440.60,150.17 440.70,151.33 440.80,152.46 440.90,153.54 441.00,154.59 441.10,155.59 441.20,156.56 441.30,157.50 441.40,158.39 441.50,159.26 441.60,160.09 441.70,160.88 441.80,161.65 441.90,162.39 442.00,163.09 442.10,163.77 442.20,164.42 442.30,165.04 442.40,165.63 442.50,166.20 442.60,166.75 442.70,167.27 442.80,167.77 442.90,168.24 443.00,168.70 443.10,169.13 443.20,169.55 443.30,169.94 443.40,170.32 443.50,170.68 443.60,171.02 443.70,171.35 443.80,171.66 443.90,171.95 444.00,172.24 444.10,172.50 444.20,172.76 444.30,173.00 444.40,173.23 444.50,173.45 444.60,173.65 444.70,173.85 444.80,174.03 444.90,174.21 445.00,174.38 445.10,174.53 445.20,174.68 445.30,174.82 445.40,174.95 445.50,175.08 445.60,175.20 445.70,175.31 445.80,175.41 445.90,175.50 446.00,175.59 446.10,175.67 446.20,175.73 446.30,175.79 446.40,175.84 446.50,175.87 446.60,175.89 446.70,175.89 446.80,175.87 446.90,175.82 447.00,175.74 447.10,175.62 447.20,175.45 447.30,175.23 447.40,174.95 447.50,174.58 447.60,174.12 447.70,173.56 447.80,172.86 447.90,172.01 448.00,171.00 448.10,169.78 448.20,168.35 448.30,166.66 448.40,164.70 448.50,162.43 448.60,159.82 448.70,156.85 448.80,153.49 448.90,149.72 449.00,145.53 449.10,140.90 449.20,135.83 449.30,130.33 449.40,124.40 449.50,118.08 449.60,111.40 449.70,104.40 449.80,97.16 449.90,89.74 450.00,82.24 450.10,74.74 450.20,67.35 450.30,60.19 450.40,53.38 450.50,47.04 450.60,41.29 450.70,36.27 450.80,32.08 450.90,28.84 451.00,26.67 451.10,25.68 451.20,25.96 451.30,26.75 451.40,27.82 451.50,29.13 451.60,30.62 451.70,32.28 451.80,34.08 451.90,36.01 452.00,38.05 452.10,40.19 452.20,42.42 452.30,44.72 452.40,47.10 452.50,49.53 452.60,52.01 452.70,54.54 452.80,57.10 452.90,59.69 453.00,62.30 453.10,64.93 453.20,67.57 453.30,70.22 453.40,72.86 453.50,75.51 453.60,78.15 453.70,80.77 453.80,83.38 453.90,85.97 454.00,88.54 454.10,91.08 454.20,93.60 454.30,96.08 454.40,98.53 454.50,100.95 454.60,103.33 454.70,105.68 454.80,107.98 454.90,110.24 455.00,112.46 455.10,114.63 455.20,116.76 455.30,118.85 455.40,120.88 455.50,122.88 455.60,124.82 455.70,126.72 455.80,128.57 455.90,130.37 456.00,132.13 456.10,133.83 456.20,135.49 456.30,137.11 456.40,138.68 456.50,140.20 456.60,141.67 456.70,143.10 456.80,144.48 456.90,145.83 457.00,147.12 457.10,148.38 457.20,149.59 457.30,150.76 457.40,151.89 457.50,152.98 457.60,154.03 457.70,155.05 457.80,156.03 457.90,156.97 458.00,157.87 458.10,158.74 458.20,159.58 458.30,160.39 458.40,161.16 458.50,161.90 458.60,162.62 458.70,163.30 458.80,163.96 458.90,164.58 459.00,165.18 459.10,165.76 459.20,166.31 459.30,166.84 459.40,167.34 459.50,167.83 459.60,168.29 459.70,168.73 459.80,169.15 459.90,169.55 460.00,169.93 460.10,170.29 460.20,170.64 460.30,170.97 460.40,171.29 460.50,171.59 460.60,171.87 460.70,172.14 460.80,172.40 460.90,172.65 461.00,172.88 461.10,173.10 461.20,173.31 461.30,173.51 461.40,173.70 461.50,173.88 461.60,174.05 461.70,174.21 461.80,174.36 461.90,174.50 462.00,174.64 462.10,174.76 462.20,174.88 462.30,174.99 462.40,175.10 462.50,175.19 462.60,175.28 462.70,175.36 462.80,175.43 462.90,175.49 463.00,175.53 463.10,175.57 463.20,175.59 463.30,175.59 463.40,175.56 463.50,175.51 463.60,175.43 463.70,175.31 463.80,175.14 463.90,174.92 464.00,174.62 464.10,174.25 464.20,173.79 464.30,173.21 464.40,172.50 464.50,171.65 464.60,170.62 464.70,169.39 464.80,167.94 464.90,166.23 465.00,164.25 465.10,161.96 465.20,159.34 465.30,156.35 465.40,152.97 465.50,149.19 465.60,144.99 465.70,140.36 465.80,135.29 465.90,129.79 466.00,123.88 466.10,117.58 466.20,110.93 466.30,103.98 466.40,96.80 466.50,89.46 466.60,82.04 466.70,74.64 466.80,67.37 466.90,60.34 467.00,53.68 467.10,47.50 467.20,41.92 467.30,37.07 467.40,33.07 467.50,30.02 467.60,28.03 467.70,27.25 467.80,27.65 467.90,28.47 468.00,29.57 468.10,30.89 468.20,32.39 468.30,34.05 468.40,35.85 468.50,37.77 468.60,39.80 468.70,41.93 468.80,44.14 468.90,46.43 469.00,48.78 469.10,51.19 469.20,53.65 469.30,56.15 469.40,58.68 469.50,61.24 469.60,63.83 469.70,66.42 469.80,69.03 469.90,71.65 470.00,74.26 470.10,76.87 470.20,79.48 470.30,82.07 470.40,84.64 470.50,87.20 470.60,89.73 470.70,92.24 470.80,94.72 470.90,97.17 471.00,99.58 471.10,101.97 471.20,104.31 471.30,106.62 471.40,108.89 471.50,111.12 471.60,113.30 471.70,115.44 471.80,117.54 471.90,119.59 472.00,121.60 472.10,123.56 472.20,125.47 472.30,127.34 472.40,129.16 472.50,130.93 472.60,132.66 472.70,134.34 472.80,135.97 472.90,137.56 473.00,139.10 473.10,140.59 473.20,142.04 473.30,143.45 473.40,144.81 473.50,146.13 473.60,147.40 473.70,148.64 473.80,149.83 473.90,150.98 474.00,152.09 474.10,153.16 474.20,154.19 474.30,155.19 474.40,156.15 474.50,157.07 474.60,157.96 474.70,158.82 474.80,159.64 474.90,160.43 475.00,161.19 475.10,161.92 475.20,162.62 475.30,163.29 475.40,163.93 475.50,164.55 475.60,165.14 475.70,165.71 475.80,166.25 475.90,166.77 476.00,167.26 476.10,167.73 476.20,168.18 476.30,168.62 476.40,169.03 476.50,169.42 476.60,169.80 476.70,170.15 476.80,170.49 476.90,170.82 477.00,171.13 477.10,171.42 477.20,171.70 477.30,171.97 477.40,172.22 477.50,172.46 477.60,172.69 477.70,172.90 477.80,173.11 477.90,173.30 478.00,173.49 478.10,173.66 478.20,173.83 478.30,173.99 478.40,174.13 478.50,174.27 478.60,174.41 478.70,174.53 478.80,174.65 478.90,174.75 479.00,174.85 479.10,174.95 479.20,175.03 479.30,175.10 479.40,175.17 479.50,175.22 479.60,175.26 479.70,175.28 479.80,175.28 479.90,175.27 480.00,175.22 480.10,175.15 480.20,175.04 480.30,174.88 480.40,174.67 480.50,174.40 480.60,174.04 480.70,173.60 480.80,173.05 480.90,172.37 481.00,171.55 481.10,170.56 481.20,169.38 481.30,167.99 481.40,166.34 481.50,164.43 481.60,162.22 481.70,159.68 481.80,156.78 481.90,153.51 482.00,149.84 482.10,145.75 482.20,141.24 482.30,136.29 482.40,130.92 482.50,125.14 482.60,118.98 482.70,112.46 482.80,105.64 482.90,98.57 483.00,91.34 483.10,84.01 483.20,76.69 483.30,69.48 483.40,62.50 483.50,55.85 483.60,49.66 483.70,44.05 483.80,39.14 483.90,35.05 484.00,31.88 484.10,29.76 484.20,28.79 484.30,29.05 484.40,29.82 484.50,30.87 484.60,32.14 484.70,33.59 484.80,35.21 484.90,36.97 485.00,38.85 485.10,40.84 485.20,42.93 485.30,45.10 485.40,47.35 485.50,49.67 485.60,52.04 485.70,54.47 485.80,56.93 485.90,59.43 486.00,61.96 486.10,64.51 486.20,67.07 486.30,69.65 486.40,72.23 486.50,74.82 486.60,77.40 486.70,79.97 486.80,82.53 486.90,85.08 487.00,87.61 487.10,90.11 487.20,92.59 487.30,95.05 487.40,97.47 487.50,99.87 487.60,102.23 487.70,104.55 487.80,106.84 487.90,109.08 488.00,111.29 488.10,113.45 488.20,115.58 488.30,117.66 488.40,119.69 488.50,121.68 488.60,123.62 488.70,125.52 488.80,127.37 488.90,129.18 489.00,130.94 489.10,132.65 489.20,134.32 489.30,135.94 489.40,137.51 489.50,139.04 489.60,140.53 489.70,141.97 489.80,143.36 489.90,144.71 490.00,146.02 490.10,147.29 490.20,148.51 490.30,149.70 490.40,150.84 490.50,151.94 490.60,153.01 490.70,154.03 490.80,155.02 490.90,155.98 491.00,156.90 491.10,157.78 491.20,158.63 491.30,159.45 491.40,160.23 491.50,160.99 491.60,161.71 491.70,162.41 491.80,163.08 491.90,163.72 492.00,164.33 492.10,164.92 492.20,165.48 492.30,166.02 492.40,166.53 492.50,167.03 492.60,167.50 492.70,167.95 492.80,168.37 492.90,168.78 493.00,169.18 493.10,169.55 493.20,169.90 493.30,170.24 493.40,170.57 493.50,170.87 493.60,171.17 493.70,171.44 493.80,171.71 493.90,171.96 494.00,172.20 494.10,172.43 494.20,172.64 494.30,172.85 494.40,173.04 494.50,173.23 494.60,173.40 494.70,173.56 494.80,173.72 494.90,173.87 495.00,174.01 495.10,174.14 495.20,174.26 495.30,174.38 495.40,174.48 495.50,174.58 495.60,174.67 495.70,174.75 495.80,174.82 495.90,174.88 496.00,174.93 496.10,174.96 496.20,174.98 496.30,174.98 496.40,174.95 496.50,174.89 496.60,174.80 496.70,174.67 496.80,174.49 496.90,174.25 497.00,173.94 497.10,173.55 497.20,173.05 497.30,172.44 497.40,171.70 497.50,170.80 497.60,169.73 497.70,168.45 497.80,166.94 497.90,165.17 498.00,163.12 498.10,160.76 498.20,158.06 498.30,155.00 498.40,151.55 498.50,147.70 498.60,143.43 498.70,138.74 498.80,133.62 498.90,128.09 499.00,122.16 499.10,115.87 499.20,109.26 499.30,102.38 499.40,95.29 499.50,88.08 499.60,80.83 499.70,73.64 499.80,66.62 499.90,59.88 500.00,53.54 500.10,47.72 500.20,42.54 500.30,38.11 500.40,34.56 500.50,31.98 500.60,30.48 500.70,30.24 500.80,30.84 500.90,31.76 501.00,32.92 501.10,34.28 501.20,35.81 501.30,37.49 501.40,39.29 501.50,41.21 501.60,43.24 501.70,45.35 501.80,47.54 501.90,49.80 502.00,52.12 502.10,54.50 502.20,56.91 502.30,59.37 502.40,61.86 502.50,64.37 502.60,66.90 502.70,69.44 502.80,71.99 502.90,74.55 503.00,77.10 503.10,79.65 503.20,82.18 503.30,84.71 503.40,87.22 503.50,89.71 503.60,92.17 503.70,94.61 503.80,97.02 503.90,99.40 504.00,101.75 504.10,104.06 504.20,106.34 504.30,108.58 504.40,110.78 504.50,112.94 504.60,115.05 504.70,117.13 504.80,119.16 504.90,121.15 505.00,123.09 505.10,124.99 505.20,126.84 505.30,128.64 505.40,130.40 505.50,132.12 505.60,133.79 505.70,135.41 505.80,136.99 505.90,138.52 506.00,140.01 506.10,141.45 506.20,142.85 506.30,144.20 506.40,145.52 506.50,146.79 506.60,148.02 506.70,149.20 506.80,150.35 506.90,151.46 507.00,152.53 507.10,153.56 507.20,154.56 507.30,155.52 507.40,156.44 507.50,157.33 507.60,158.19 507.70,159.01 507.80,159.80 507.90,160.56 508.00,161.29 508.10,161.99 508.20,162.66 508.30,163.31 508.40,163.92 508.50,164.52 508.60,165.08 508.70,165.63 508.80,166.15 508.90,166.64 509.00,167.12 509.10,167.57 509.20,168.00 509.30,168.42 509.40,168.81 509.50,169.19 509.60,169.55 509.70,169.89 509.80,170.22 509.90,170.53 510.00,170.82 510.10,171.11 510.20,171.37 510.30,171.63 510.40,171.87 510.50,172.10 510.60,172.32 510.70,172.52 510.80,172.72 510.90,172.91 511.00,173.08 511.10,173.25 511.20,173.41 511.30,173.56 511.40,173.70 511.50,173.83 511.60,173.96 511.70,174.07 511.80,174.18 511.90,174.28 512.00,174.37 512.10,174.45 512.20,174.52 512.30,174.58 512.40,174.63 512.50,174.66 512.60,174.68 512.70,174.67 512.80,174.64 512.90,174.58 513.00,174.48 513.10,174.34 513.20,174.15 513.30,173.90 513.40,173.58 513.50,173.17 513.60,172.65 513.70,172.02 513.80,171.25 513.90,170.32 514.00,169.21 514.10,167.90 514.20,166.34 514.30,164.53 514.40,162.43 514.50,160.02 514.60,157.26 514.70,154.14 514.80,150.63 514.90,146.72 515.00,142.40 515.10,137.65 515.20,132.49 515.30,126.92 515.40,120.97 515.50,114.66 515.60,108.05 515.70,101.19 515.80,94.14 515.90,86.99 516.00,79.82 516.10,72.75 516.20,65.86 516.30,59.28 516.40,53.13 516.50,47.52 516.60,42.57 516.70,38.39 516.80,35.10 516.90,32.81 517.00,31.61 517.10,31.67 517.20,32.35 517.30,33.32 517.40,34.52 517.50,35.91 517.60,37.46 517.70,39.16 517.80,40.97 517.90,42.90 518.00,44.92 518.10,47.03 518.20,49.22 518.30,51.47 518.40,53.78 518.50,56.14 518.60,58.54 518.70,60.98 518.80,63.44 518.90,65.93 519.00,68.44 519.10,70.96 519.20,73.48 519.30,76.01 519.40,78.53 519.50,81.05 519.60,83.56 519.70,86.05 519.80,88.53 519.90,90.98 520.00,93.41 520.10,95.82 520.20,98.20 520.30,100.54 520.40,102.86 520.50,105.14 520.60,107.38 520.70,109.59 520.80,111.75 520.90,113.88 521.00,115.96 521.10,118.00 521.20,120.00 521.30,121.95 521.40,123.87 521.50,125.73 521.60,127.55 521.70,129.33 521.80,131.06 521.90,132.74 522.00,134.38 522.10,135.97 522.20,137.52 522.30,139.03 522.40,140.49 522.50,141.90 522.60,143.27 522.70,144.61 522.80,145.89 522.90,147.14 523.00,148.35 523.10,149.51 523.20,150.64 523.30,151.72 523.40,152.77 523.50,153.78 523.60,154.76 523.70,155.70 523.80,156.60 523.90,157.48 524.00,158.31 524.10,159.12 524.20,159.89 524.30,160.64 524.40,161.35 524.50,162.04 524.60,162.70 524.70,163.33 524.80,163.93 524.90,164.51 525.00,165.07 525.10,165.60 525.20,166.11 525.30,166.59 525.40,167.06 525.50,167.50 525.60,167.92 525.70,168.33 525.80,168.71 525.90,169.08 526.00,169.43 526.10,169.77 526.20,170.09 526.30,170.39 526.40,170.68 526.50,170.96 526.60,171.22 526.70,171.47 526.80,171.70 526.90,171.93 527.00,172.14 527.10,172.34 527.20,172.53 527.30,172.71 527.40,172.89 527.50,173.05 527.60,173.20 527.70,173.35 527.80,173.49 527.90,173.61 528.00,173.73 528.10,173.85 528.20,173.95 528.30,174.04 528.40,174.13 528.50,174.20 528.60,174.27 528.70,174.32 528.80,174.35 528.90,174.37 529.00,174.37 529.10,174.34 529.20,174.28 529.30,174.19 529.40,174.06 529.50,173.88 529.60,173.63 529.70,173.32 529.80,172.92 529.90,172.42 530.00,171.80 530.10,171.05 530.20,170.14 530.30,169.06 530.40,167.76 530.50,166.24 530.60,164.47 530.70,162.40 530.80,160.03 530.90,157.33 531.00,154.26 531.10,150.81 531.20,146.96 531.30,142.70 531.40,138.03 531.50,132.94 531.60,127.45 531.70,121.58 531.80,115.36 531.90,108.83 532.00,102.05 532.10,95.09 532.20,88.01 532.30,80.92 532.40,73.91 532.50,67.08 532.60,60.55 532.70,54.44 532.80,48.85 532.90,43.92 533.00,39.75 533.10,36.44 533.20,34.11 533.30,32.87 533.40,32.87 533.50,33.52 533.60,34.47 533.70,35.65 533.80,37.02 533.90,38.55 534.00,40.21 534.10,42.00 534.20,43.91 534.30,45.90 534.40,47.99 534.50,50.15 534.60,52.37 534.70,54.65 534.80,56.99 534.90,59.36 535.00,61.77 535.10,64.21 535.20,66.67 535.30,69.15 535.40,71.64 535.50,74.14 535.60,76.64 535.70,79.14 535.80,81.63 535.90,84.11 536.00,86.58 536.10,89.03 536.20,91.46 536.30,93.87 536.40,96.26 536.50,98.61 536.60,100.93 536.70,103.23 536.80,105.48 536.90,107.71 537.00,109.89 537.10,112.03 537.20,114.14 537.30,116.20 537.40,118.23 537.50,120.21 537.60,122.14 537.70,124.04 537.80,125.88 537.90,127.69 538.00,129.45 538.10,131.16 538.20,132.83 538.30,134.45 538.40,136.03 538.50,137.57 538.60,139.06 538.70,140.51 538.80,141.91 538.90,143.27 539.00,144.59 539.10,145.87 539.20,147.10 539.30,148.30 539.40,149.45 539.50,150.57 539.60,151.65 539.70,152.69 539.80,153.69 539.90,154.66 540.00,155.59 540.10,156.49 540.20,157.35 540.30,158.18 540.40,158.98 540.50,159.75 540.60,160.49 540.70,161.20 540.80,161.88 540.90,162.53 541.00,163.16 541.10,163.76 541.20,164.33 541.30,164.88 541.40,165.41 541.50,165.91 541.60,166.39 541.70,166.85 541.80,167.29 541.90,167.71 542.00,168.12 542.10,168.50 542.20,168.86 542.30,169.21 542.40,169.54 542.50,169.86 542.60,170.16 542.70,170.45 542.80,170.72 542.90,170.98 543.00,171.23 543.10,171.46 543.20,171.68 543.30,171.90 543.40,172.10 543.50,172.29 543.60,172.47 543.70,172.64 543.80,172.80 543.90,172.95 544.00,173.10 544.10,173.23 544.20,173.36 544.30,173.48 544.40,173.58 544.50,173.69 544.60,173.78 544.70,173.86 544.80,173.93 544.90,173.99 545.00,174.03 545.10,174.06 545.20,174.07 545.30,174.05 545.40,174.01 545.50,173.94 545.60,173.82 545.70,173.66 545.80,173.44 545.90,173.16 546.00,172.80 546.10,172.34 546.20,171.78 546.30,171.08 546.40,170.24 546.50,169.23 546.60,168.03 546.70,166.61 546.80,164.94 546.90,163.00 547.00,160.77 547.10,158.21 547.20,155.30 547.30,152.02 547.40,148.35 547.50,144.28 547.60,139.80 547.70,134.91 547.80,129.61 547.90,123.93 548.00,117.89 548.10,111.53 548.20,104.90 548.30,98.05 548.40,91.08 548.50,84.05 548.60,77.07 548.70,70.23 548.80,63.65 548.90,57.44 549.00,51.71 549.10,46.59 549.20,42.18 549.30,38.59 549.40,35.93 549.50,34.31 549.60,33.87 549.70,34.38 549.80,35.23 549.90,36.32 550.00,37.61 550.10,39.07 550.20,40.68 550.30,42.41 550.40,44.25 550.50,46.20 550.60,48.23 550.70,50.35 550.80,52.53 550.90,54.77 551.00,57.06 551.10,59.40 551.20,61.77 551.30,64.18 551.40,66.61 551.50,69.06 551.60,71.52 551.70,74.00 551.80,76.47 551.90,78.95 552.00,81.42 552.10,83.88 552.20,86.33 552.30,88.76 552.40,91.18 552.50,93.57 552.60,95.94 552.70,98.28 552.80,100.59 552.90,102.87 553.00,105.12 553.10,107.33 553.20,109.51 553.30,111.65 553.40,113.74 553.50,115.80 553.60,117.82 553.70,119.80 553.80,121.73 553.90,123.62 554.00,125.46 554.10,127.26 554.20,129.02 554.30,130.74 554.40,132.40 554.50,134.03 554.60,135.61 554.70,137.14 554.80,138.63 554.90,140.08 555.00,141.49 555.10,142.85 555.20,144.17 555.30,145.45 555.40,146.69 555.50,147.89 555.60,149.04 555.70,150.16 555.80,151.24 555.90,152.28 556.00,153.29 556.10,154.26 556.20,155.20 556.30,156.10 556.40,156.96 556.50,157.80 556.60,158.60 556.70,159.37 556.80,160.11 556.90,160.83 557.00,161.51 557.10,162.16 557.20,162.79 557.30,163.40 557.40,163.97 557.50,164.53 557.60,165.06 557.70,165.56 557.80,166.05 557.90,166.51 558.00,166.96 558.10,167.38 558.20,167.78 558.30,168.17 558.40,168.54 558.50,168.89 558.60,169.22 558.70,169.54 558.80,169.84 558.90,170.13 559.00,170.41 559.10,170.67 559.20,170.92 559.30,171.15 559.40,171.38 559.50,171.59 559.60,171.79 559.70,171.98 559.80,172.17 559.90,172.34 560.00,172.50 560.10,172.65 560.20,172.80 560.30,172.94 560.40,173.06 560.50,173.18 560.60,173.29 560.70,173.39 560.80,173.48 560.90,173.57 561.00,173.63 561.10,173.69 561.20,173.73 561.30,173.76 561.40,173.76 561.50,173.74 561.60,173.69 561.70,173.61 561.80,173.48 561.90,173.31 562.00,173.07 562.10,172.77 562.20,172.38 562.30,171.89 562.40,171.29 562.50,170.56 562.60,169.67 562.70,168.61 562.80,167.35 562.90,165.86 563.00,164.12 563.10,162.10 563.20,159.78 563.30,157.13 563.40,154.12 563.50,150.74 563.60,146.97 563.70,142.80 563.80,138.22 563.90,133.23 564.00,127.85 564.10,122.09 564.20,115.99 564.30,109.59 564.40,102.94 564.50,96.11 564.60,89.17 564.70,82.22 564.80,75.34 564.90,68.64 565.00,62.23 565.10,56.23 565.20,50.75 565.30,45.91 565.40,41.81 565.50,38.56 565.60,36.27 565.70,35.05 565.80,35.04 565.90,35.68 566.00,36.61 566.10,37.76 566.20,39.10 566.30,40.60 566.40,42.24 566.50,43.99 566.60,45.86 566.70,47.82 566.80,49.86 566.90,51.98 567.00,54.16 567.10,56.40 567.20,58.69 567.30,61.02 567.40,63.38 567.50,65.78 567.60,68.19 567.70,70.62 567.80,73.07 567.90,75.52 568.00,77.97 568.10,80.42 568.20,82.87 568.30,85.30 568.40,87.72 568.50,90.13 568.60,92.51 568.70,94.88 568.80,97.21 568.90,99.52 569.00,101.80 569.10,104.05 569.20,106.27 569.30,108.45 569.40,110.59 569.50,112.69 569.60,114.76 569.70,116.79 569.80,118.77 569.90,120.71 570.00,122.61 570.10,124.47 570.20,126.28 570.30,128.05 570.40,129.78 570.50,131.46 570.60,133.10 570.70,134.69 570.80,136.24 570.90,137.75 571.00,139.21 571.10,140.63 571.20,142.01 571.30,143.34 571.40,144.64 571.50,145.89 571.60,147.10 571.70,148.27 571.80,149.41 571.90,150.50 572.00,151.56 572.10,152.58 572.20,153.57 572.30,154.51 572.40,155.43 572.50,156.31 572.60,157.16 572.70,157.97 572.80,158.76 572.90,159.51 573.00,160.23 573.10,160.93 573.20,161.60 573.30,162.24 573.40,162.85 573.50,163.44 573.60,164.00 573.70,164.54 573.80,165.06 573.90,165.56 574.00,166.03 574.10,166.48 574.20,166.91 574.30,167.32 574.40,167.72 574.50,168.09 574.60,168.45 574.70,168.79 574.80,169.12 574.90,169.43 575.00,169.73 575.10,170.01 575.20,170.28 575.30,170.53 575.40,170.77 575.50,171.00 575.60,171.22 575.70,171.43 575.80,171.62 575.90,171.81 576.00,171.99 576.10,172.15 576.20,172.31 576.30,172.46 576.40,172.60 576.50,172.73 576.60,172.85 576.70,172.97 576.80,173.07 576.90,173.16 577.00,173.25 577.10,173.32 577.20,173.38 577.30,173.42 577.40,173.45 577.50,173.45 577.60,173.44 577.70,173.39 577.80,173.31 577.90,173.18 578.00,173.01 578.10,172.78 578.20,172.47 578.30,172.09 578.40,171.60 578.50,171.00 578.60,170.27 578.70,169.38 578.80,168.32 578.90,167.06 579.00,165.58 579.10,163.84 579.20,161.83 579.30,159.51 579.40,156.87 579.50,153.87 579.60,150.51 579.70,146.75 579.80,142.60 579.90,138.04 580.00,133.07 580.10,127.72 580.20,122.00 580.30,115.94 580.40,109.58 580.50,102.98 580.60,96.20 580.70,89.32 580.80,82.43 580.90,75.61 581.00,68.99 581.10,62.65 581.20,56.72 581.30,51.32 581.40,46.55 581.50,42.52 581.60,39.35 581.70,37.13 581.80,35.96 581.90,36.01 582.00,36.66 582.10,37.59 582.20,38.75 582.30,40.08 582.40,41.57 582.50,43.20 582.60,44.95 582.70,46.80 582.80,48.75 582.90,50.78 583.00,52.88 583.10,55.05 583.20,57.27 583.30,59.54 583.40,61.85 583.50,64.20 583.60,66.57 583.70,68.96 583.80,71.38 583.90,73.80 584.00,76.23 584.10,78.66 584.20,81.09 584.30,83.51 584.40,85.93 584.50,88.33 584.60,90.71 584.70,93.07 584.80,95.42 584.90,97.73 585.00,100.02 585.10,102.28 585.20,104.51 585.30,106.70 585.40,108.86 585.50,110.98 585.60,113.07 585.70,115.11 585.80,117.12 585.90,119.08 586.00,121.01 586.10,122.89 586.20,124.73 586.30,126.52 586.40,128.27 586.50,129.98 586.60,131.65 586.70,133.27 586.80,134.85 586.90,136.38 587.00,137.87 587.10,139.32 587.20,140.73 587.30,142.09 587.40,143.41 587.50,144.69 587.60,145.93 587.70,147.13 587.80,148.29 587.90,149.42 588.00,150.50 588.10,151.55 588.20,152.56 588.30,153.53 588.40,154.47 588.50,155.37 588.60,156.25 588.70,157.08 588.80,157.89 588.90,158.67 589.00,159.41 589.10,160.13 589.20,160.82 589.30,161.48 589.40,162.11 589.50,162.72 589.60,163.30 589.70,163.86 589.80,164.39 589.90,164.90 590.00,165.39 590.10,165.86 590.20,166.31 590.30,166.74 590.40,167.14 590.50,167.53 590.60,167.91 590.70,168.26 590.80,168.60 590.90,168.92 591.00,169.23 591.10,169.52 591.20,169.80 591.30,170.06 591.40,170.31 591.50,170.55 591.60,170.78 591.70,171.00 591.80,171.20 591.90,171.40 592.00,171.58 592.10,171.75 592.20,171.92 592.30,172.07 592.40,172.22 592.50,172.36 592.60,172.49 592.70,172.61 592.80,172.72 592.90,172.82 593.00,172.91 593.10,172.98 593.20,173.05 593.30,173.10 593.40,173.13 593.50,173.15 593.60,173.14 593.70,173.10 593.80,173.03 593.90,172.92 594.00,172.77 594.10,172.55 594.20,172.28 594.30,171.92 594.40,171.46 594.50,170.90 594.60,170.21 594.70,169.38 594.80,168.37 594.90,167.17 595.00,165.76 595.10,164.11 595.20,162.18 595.30,159.97 595.40,157.43 595.50,154.55 595.60,151.30 595.70,147.68 595.80,143.66 595.90,139.24 596.00,134.42 596.10,129.21 596.20,123.62 596.30,117.69 596.40,111.46 596.50,104.96 596.60,98.28 596.70,91.47 596.80,84.63 596.90,77.84 597.00,71.21 597.10,64.84 597.20,58.85 597.30,53.35 597.40,48.45 597.50,44.26 597.60,40.89 597.70,38.43 597.80,37.00 597.90,36.76 598.00,37.31 598.10,38.18 598.20,39.27 598.30,40.55 598.40,42.00 598.50,43.58 598.60,45.28 598.70,47.09 598.80,49.00 598.90,51.00 599.00,53.06 599.10,55.20 599.20,57.39 599.30,59.63 599.40,61.91 599.50,64.23 599.60,66.58 599.70,68.95 599.80,71.34 599.90,73.74 600.00,76.15 600.10,78.56 600.20,80.97 600.30,83.38 600.40,85.78 600.50,88.16 600.60,90.53 600.70,92.88 600.80,95.21 600.90,97.51 601.00,99.79 601.10,102.04 601.20,104.25 601.30,106.44 601.40,108.59 601.50,110.70 601.60,112.78 601.70,114.82 601.80,116.82 601.90,118.78 602.00,120.70 602.10,122.57 602.20,124.41 602.30,126.20 602.40,127.95 602.50,129.66 602.60,131.32 602.70,132.94 602.80,134.51 602.90,136.05 603.00,137.54 603.10,138.98 603.20,140.39 603.30,141.75 603.40,143.07 603.50,144.35 603.60,145.59 603.70,146.79 603.80,147.96 603.90,149.08 604.00,150.16 604.10,151.21 604.20,152.22 604.30,153.20 604.40,154.14 604.50,155.04 604.60,155.91 604.70,156.75 604.80,157.56 604.90,158.34 605.00,159.09 605.10,159.81 605.20,160.50 605.30,161.16 605.40,161.79 605.50,162.40 605.60,162.99 605.70,163.54 605.80,164.08 605.90,164.59 606.00,165.08 606.10,165.55 606.20,166.00 606.30,166.43 606.40,166.84 606.50,167.23 606.60,167.60 606.70,167.96 606.80,168.30 606.90,168.62 607.00,168.93 607.10,169.22 607.20,169.50 607.30,169.77 607.40,170.02 607.50,170.26 607.60,170.49 607.70,170.71 607.80,170.91 607.90,171.11 608.00,171.29 608.10,171.47 608.20,171.63 608.30,171.79 608.40,171.94 608.50,172.07 608.60,172.20 608.70,172.32 608.80,172.43 608.90,172.53 609.00,172.62 609.10,172.70 609.20,172.76 609.30,172.80 609.40,172.83 609.50,172.84 609.60,172.82 609.70,172.78 609.80,172.69 609.90,172.57 610.00,172.39 610.10,172.15 610.20,171.84 610.30,171.45 610.40,170.96 610.50,170.35 610.60,169.60 610.70,168.70 610.80,167.62 610.90,166.34 611.00,164.84 611.10,163.08 611.20,161.05 611.30,158.71 611.40,156.04 611.50,153.02 611.60,149.64 611.70,145.87 611.80,141.70 611.90,137.14 612.00,132.18 612.10,126.84 612.20,121.14 612.30,115.11 612.40,108.80 612.50,102.26 612.60,95.57 612.70,88.78 612.80,82.01 612.90,75.33 613.00,68.85 613.10,62.68 613.20,56.94 613.30,51.73 613.40,47.17 613.50,43.36 613.60,40.41 613.70,38.41 613.80,37.49 613.90,37.72 614.00,38.42 614.10,39.39 614.20,40.56 614.30,41.91 614.40,43.40 614.50,45.03 614.60,46.77 614.70,48.62 614.80,50.55 614.90,52.56 615.00,54.65 615.10,56.79 615.20,58.99 615.30,61.23 615.40,63.51 615.50,65.83 615.60,68.17 615.70,70.53 615.80,72.91 615.90,75.30 616.00,77.69 616.10,80.08 616.20,82.48 616.30,84.86 616.40,87.23 616.50,89.59 616.60,91.94 616.70,94.26 616.80,96.56 616.90,98.83 617.00,101.08 617.10,103.30 617.20,105.49 617.30,107.64 617.40,109.76 617.50,111.84 617.60,113.89 617.70,115.89 617.80,117.86 617.90,119.79 618.00,121.67 618.10,123.52 618.20,125.32 618.30,127.08 618.40,128.80 618.50,130.47 618.60,132.10 618.70,133.69 618.80,135.23 618.90,136.74 619.00,138.20 619.10,139.61 619.20,140.99 619.30,142.32 619.40,143.62 619.50,144.87 619.60,146.08 619.70,147.26 619.80,148.39 619.90,149.49 620.00,150.55 620.10,151.57 620.20,152.56 620.30,153.51 620.40,154.43 620.50,155.31 620.60,156.17 620.70,156.99 620.80,157.77 620.90,158.53 621.00,159.26 621.10,159.96 621.20,160.63 621.30,161.28 621.40,161.90 621.50,162.49 621.60,163.06 621.70,163.60 621.80,164.12 621.90,164.62 622.00,165.10 622.10,165.56 622.20,165.99 622.30,166.41 622.40,166.81 622.50,167.19 622.60,167.55 622.70,167.90 622.80,168.23 622.90,168.54 623.00,168.84 623.10,169.13 623.20,169.40 623.30,169.65 623.40,169.90 623.50,170.13 623.60,170.35 623.70,170.56 623.80,170.76 623.90,170.95 624.00,171.13 624.10,171.30 624.20,171.46 624.30,171.61 624.40,171.75 624.50,171.88 624.60,172.00 624.70,172.12 624.80,172.22 624.90,172.31 625.00,172.38 625.10,172.45 625.20,172.50 625.30,172.53 625.40,172.53 625.50,172.51 625.60,172.47 625.70,172.38 625.80,172.25 625.90,172.07 626.00,171.83 626.10,171.51 626.20,171.11 626.30,170.60 626.40,169.98 626.50,169.22 626.60,168.30 626.70,167.21 626.80,165.91 626.90,164.38 627.00,162.60 627.10,160.53 627.20,158.17 627.30,155.47 627.40,152.42 627.50,149.00 627.60,145.20 627.70,141.01 627.80,136.42 627.90,131.44 628.00,126.08 628.10,120.37 628.20,114.34 628.30,108.04 628.40,101.52 628.50,94.85 628.60,88.11 628.70,81.38 628.80,74.77 628.90,68.38 629.00,62.31 629.10,56.68 629.20,51.59 629.30,47.16 629.40,43.50 629.50,40.70 629.60,38.87 629.70,38.13 629.80,38.47 629.90,39.21 630.00,40.20 630.10,41.40 630.20,42.76 630.30,44.26 630.40,45.90 630.50,47.64 630.60,49.49 630.70,51.42 630.80,53.43 630.90,55.51 631.00,57.65 631.10,59.84 631.20,62.07 631.30,64.34 631.40,66.65 631.50,68.98 631.60,71.32 631.70,73.69 631.80,76.06 631.90,78.44 632.00,80.81 632.10,83.19 632.20,85.55 632.30,87.91 632.40,90.25 632.50,92.58 632.60,94.88 632.70,97.16 632.80,99.42 632.90,101.64 633.00,103.84 633.10,106.01 633.20,108.14 633.30,110.24 633.40,112.31 633.50,114.33 633.60,116.32 633.70,118.27 633.80,120.17 633.90,122.04 634.00,123.87 634.10,125.65 634.20,127.39 634.30,129.09 634.40,130.75 634.50,132.36 634.60,133.93 634.70,135.46 634.80,136.95 634.90,138.39 635.00,139.79 635.10,141.15 635.20,142.47 635.30,143.75 635.40,144.99 635.50,146.19 635.60,147.35 635.70,148.47 635.80,149.55 635.90,150.60 636.00,151.61 636.10,152.59 636.20,153.53 636.30,154.43 636.40,155.31 636.50,156.15 636.60,156.96 636.70,157.74 636.80,158.49 636.90,159.20 637.00,159.90 637.10,160.56 637.20,161.20 637.30,161.81 637.40,162.39 637.50,162.95 637.60,163.49 637.70,164.00 637.80,164.50 637.90,164.97 638.00,165.42 638.10,165.85 638.20,166.26 638.30,166.65 638.40,167.03 638.50,167.39 638.60,167.73 638.70,168.05 638.80,168.36 638.90,168.66 639.00,168.94 639.10,169.20 639.20,169.46 639.30,169.70 639.40,169.93 639.50,170.15 639.60,170.36 639.70,170.55 639.80,170.74 639.90,170.91 640.00,171.08 640.10,171.24 640.20,171.38 640.30,171.52 640.40,171.65 640.50,171.77 640.60,171.87 640.70,171.97 640.80,172.05 640.90,172.12 641.00,172.17 641.10,172.21 641.20,172.22 641.30,172.21 641.40,172.17 641.50,172.10 641.60,171.98 641.70,171.81 641.80,171.58 641.90,171.28 642.00,170.90 642.10,170.41 642.20,169.82 642.30,169.09 642.40,168.20 642.50,167.14 642.60,165.88 642.70,164.40 642.80,162.67 642.90,160.67 643.00,158.36 643.10,155.74 643.20,152.76 643.30,149.43 643.40,145.71 643.50,141.60 643.60,137.10 643.70,132.21 643.80,126.94 643.90,121.32 644.00,115.37 644.10,109.15 644.20,102.70 644.30,96.09 644.40,89.40 644.50,82.71 644.60,76.11 644.70,69.72 644.80,63.63 644.90,57.96 645.00,52.82 645.10,48.31 645.20,44.55 645.30,41.63 645.40,39.66 645.50,38.74 645.60,38.96 645.70,39.65 645.80,40.60 645.90,41.76 646.00,43.09 646.10,44.57 646.20,46.17 646.30,47.89 646.40,49.71 646.50,51.62 646.60,53.60 646.70,55.66 646.80,57.78 646.90,59.94 647.00,62.16 647.10,64.41 647.20,66.70 647.30,69.01 647.40,71.34 647.50,73.69 647.60,76.04 647.70,78.40 647.80,80.77 647.90,83.13 648.00,85.48 648.10,87.82 648.20,90.15 648.30,92.47 648.40,94.76 648.50,97.03 648.60,99.28 648.70,101.49 648.80,103.68 648.90,105.84 649.00,107.97 649.10,110.06 649.20,112.11 649.30,114.13 649.40,116.11 649.50,118.06 649.60,119.96 649.70,121.82 649.80,123.64 649.90,125.42 650.00,127.16 650.10,128.85 650.20,130.50 650.30,132.11 650.40,133.68 650.50,135.21 650.60,136.69 650.70,138.13 650.80,139.53 650.90,140.89 651.00,142.21 651.10,143.48 651.20,144.72 651.30,145.92 651.40,147.08 651.50,148.20 651.60,149.28 651.70,150.33 651.80,151.34 651.90,152.31 652.00,153.25 652.10,154.16 652.20,155.03 652.30,155.87 652.40,156.68 652.50,157.46 652.60,158.21 652.70,158.93 652.80,159.62 652.90,160.28 653.00,160.92 653.10,161.53 653.20,162.11 653.30,162.68 653.40,163.21 653.50,163.73 653.60,164.22 653.70,164.69 653.80,165.14 653.90,165.57 654.00,165.98 654.10,166.38 654.20,166.75 654.30,167.11 654.40,167.45 654.50,167.78 654.60,168.09 654.70,168.38 654.80,168.66 654.90,168.93 655.00,169.19 655.10,169.43 655.20,169.66 655.30,169.88 655.40,170.08 655.50,170.28 655.60,170.47 655.70,170.64 655.80,170.81 655.90,170.97 656.00,171.11 656.10,171.25 656.20,171.37 656.30,171.49 656.40,171.60 656.50,171.69 656.60,171.77 656.70,171.83 656.80,171.88 656.90,171.91 657.00,171.91 657.10,171.89 657.20,171.83 657.30,171.74 657.40,171.60 657.50,171.40 657.60,171.14 657.70,170.80 657.80,170.37 657.90,169.83 658.00,169.17 658.10,168.36 658.20,167.39 658.30,166.23 658.40,164.86 658.50,163.26 658.60,161.40 658.70,159.24 658.80,156.78 658.90,153.98 659.00,150.83 659.10,147.31 659.20,143.40 659.30,139.10 659.40,134.41 659.50,129.34 659.60,123.91 659.70,118.14 659.80,112.07 659.90,105.75 660.00,99.24 660.10,92.61 660.20,85.95 660.30,79.34 660.40,72.88 660.50,66.67 660.60,60.83 660.70,55.46 660.80,50.68 660.90,46.59 661.00,43.30 661.10,40.90 661.20,39.49 661.30,39.24 661.40,39.78 661.50,40.62 661.60,41.68 661.70,42.93 661.80,44.34 661.90,45.88 662.00,47.54 662.10,49.30 662.20,51.16 662.30,53.10 662.40,55.12 662.50,57.19 662.60,59.33 662.70,61.51 662.80,63.74 662.90,65.99 663.00,68.28 663.10,70.59 663.20,72.92 663.30,75.26 663.40,77.61 663.50,79.96 663.60,82.31 663.70,84.65 663.80,86.98 663.90,89.31 664.00,91.62 664.10,93.90 664.20,96.17 664.30,98.42 664.40,100.64 664.50,102.83 664.60,104.99 664.70,107.12 664.80,109.21 664.90,111.27 665.00,113.30 665.10,115.29 665.20,117.23 665.30,119.14 665.40,121.01 665.50,122.84 665.60,124.63 665.70,126.38 665.80,128.08 665.90,129.74 666.00,131.36 666.10,132.94 666.20,134.48 666.30,135.97 666.40,137.42 666.50,138.83 666.60,140.20 666.70,141.53 666.80,142.82 666.90,144.07 667.00,145.28 667.10,146.45 667.20,147.58 667.30,148.67 667.40,149.73 667.50,150.75 667.60,151.73 667.70,152.68 667.80,153.60 667.90,154.48 668.00,155.33 668.10,156.15 668.20,156.94 668.30,157.70 668.40,158.43 668.50,159.13 668.60,159.80 668.70,160.44 668.80,161.06 668.90,161.66 669.00,162.23 669.10,162.77 669.20,163.29 669.30,163.79 669.40,164.27 669.50,164.73 669.60,165.17 669.70,165.58 669.80,165.98 669.90,166.36 670.00,166.73 670.10,167.07 670.20,167.41 670.30,167.72 670.40,168.02 670.50,168.31 670.60,168.58 670.70,168.84 670.80,169.08" fill="none" stroke="#ff7f0e" stroke-width="1.4" stroke-linejoin="round" stroke-linecap="round" />
<path d="M384.00 10.90 V199.30 H684.00" fill="none" stroke="#5a5a5a" stroke-width="1.1"/>
<line x1="397.60" y1="199.30" x2="397.60" y2="197.70" stroke="#5a5a5a" stroke-width="0.8"/>
<text transform="translate(397.60,208.30) scale(0.800,1)" font-size="8.30" text-anchor="middle" fill="#3a3a3a" font-family='"Liberation Sans", sans-serif' stroke="#3a3a3a" stroke-width="0.25">300</text>
<line x1="443.00" y1="199.30" x2="443.00" y2="197.70" stroke="#5a5a5a" stroke-width="0.8"/>
<text transform="translate(443.00,208.30) scale(0.800,1)" font-size="8.30" text-anchor="middle" fill="#3a3a3a" font-family='"Liberation Sans", sans-serif' stroke="#3a3a3a" stroke-width="0.25">350</text>
<line x1="488.40" y1="199.30" x2="488.40" y2="197.70" stroke="#5a5a5a" stroke-width="0.8"/>
<text transform="translate(488.40,208.30) scale(0.800,1)" font-size="8.30" text-anchor="middle" fill="#3a3a3a" font-family='"Liberation Sans", sans-serif' stroke="#3a3a3a" stroke-width="0.25">400</text>
<line x1="533.80" y1="199.30" x2="533.80" y2="197.70" stroke="#5a5a5a" stroke-width="0.8"/>
<text transform="translate(533.80,208.30) scale(0.800,1)" font-size="8.30" text-anchor="middle" fill="#3a3a3a" font-family='"Liberation Sans", sans-serif' stroke="#3a3a3a" stroke-width="0.25">450</text>
<line x1="579.20" y1="199.30" x2="579.20" y2="197.70" stroke="#5a5a5a" stroke-width="0.8"/>
<text transform="translate(579.20,208.30) scale(0.800,1)" font-size="8.30" text-anchor="middle" fill="#3a3a3a" font-family='"Liberation Sans", sans-serif' stroke="#3a3a3a" stroke-width="0.25">500</text>
<line x1="624.60" y1="199.30" x2="624.60" y2="197.70" stroke="#5a5a5a" stroke-width="0.8"/>
<text transform="translate(624.60,208.30) scale(0.800,1)" font-size="8.30" text-anchor="middle" fill="#3a3a3a" font-family='"Liberation Sans", sans-serif' stroke="#3a3a3a" stroke-width="0.25">550</text>
<line x1="670.00" y1="199.30" x2="670.00" y2="197.70" stroke="#5a5a5a" stroke-width="0.8"/>
<text transform="translate(670.00,208.30) scale(0.800,1)" font-size="8.30" text-anchor="middle" fill="#3a3a3a" font-family='"Liberation Sans", sans-serif' stroke="#3a3a3a" stroke-width="0.25">600</text>
<line x1="384.00" y1="191.50" x2="385.60" y2="191.50" stroke="#5a5a5a" stroke-width="0.8"/>
<text transform="translate(381.50,194.70) scale(0.800,1)" font-size="8.30" text-anchor="end" fill="#3a3a3a" font-family='"Liberation Sans", sans-serif' stroke="#3a3a3a" stroke-width="0.25">0.00</text>
<line x1="384.00" y1="168.90" x2="385.60" y2="168.90" stroke="#5a5a5a" stroke-width="0.8"/>
<text transform="translate(381.50,172.10) scale(0.800,1)" font-size="8.30" text-anchor="end" fill="#3a3a3a" font-family='"Liberation Sans", sans-serif' stroke="#3a3a3a" stroke-width="0.25">0.05</text>
<line x1="384.00" y1="146.30" x2="385.60" y2="146.30" stroke="#5a5a5a" stroke-width="0.8"/>
<text transform="translate(381.50,149.50) scale(0.800,1)" font-size="8.30" text-anchor="end" fill="#3a3a3a" font-family='"Liberation Sans", sans-serif' stroke="#3a3a3a" stroke-width="0.25">0.10</text>
<line x1="384.00" y1="123.70" x2="385.60" y2="123.70" stroke="#5a5a5a" stroke-width="0.8"/>
<text transform="translate(381.50,126.90) scale(0.800,1)" font-size="8.30" text-anchor="end" fill="#3a3a3a" font-family='"Liberation Sans", sans-serif' stroke="#3a3a3a" stroke-width="0.25">0.15</text>
<line x1="384.00" y1="101.10" x2="385.60" y2="101.10" stroke="#5a5a5a" stroke-width="0.8"/>
<text transform="translate(381.50,104.30) scale(0.800,1)" font-size="8.30" text-anchor="end" fill="#3a3a3a" font-family='"Liberation Sans", sans-serif' stroke="#3a3a3a" stroke-width="0.25">0.20</text>
<line x1="384.00" y1="78.50" x2="385.60" y2="78.50" stroke="#5a5a5a" stroke-width="0.8"/>
<text transform="translate(381.50,81.70) scale(0.800,1)" font-size="8.30" text-anchor="end" fill="#3a3a3a" font-family='"Liberation Sans", sans-serif' stroke="#3a3a3a" stroke-width="0.25">0.25</text>
<line x1="384.00" y1="55.90" x2="385.60" y2="55.90" stroke="#5a5a5a" stroke-width="0.8"/>
<text transform="translate(381.50,59.10) scale(0.800,1)" font-size="8.30" text-anchor="end" fill="#3a3a3a" font-family='"Liberation Sans", sans-serif' stroke="#3a3a3a" stroke-width="0.25">0.30</text>
<line x1="384.00" y1="33.30" x2="385.60" y2="33.30" stroke="#5a5a5a" stroke-width="0.8"/>
<text transform="translate(381.50,36.50) scale(0.800,1)" font-size="8.30" text-anchor="end" fill="#3a3a3a" font-family='"Liberation Sans", sans-serif' stroke="#3a3a3a" stroke-width="0.25">0.35</text>
<text x="534.20" y="217.80" font-size="8.20" text-anchor="middle" fill="#3a3a3a" font-family='"Liberation Sans", sans-serif' stroke="#3a3a3a" stroke-width="0.25">t</text>
<text x="0.00" y="0.00" font-size="7.20" text-anchor="middle" fill="#3a3a3a" font-family='"Liberation Sans", sans-serif' textLength="18.60" lengthAdjust="spacingAndGlyphs" transform="translate(365.2,106.5) rotate(-90)">State</text>
<text x="425.10" y="8.00" font-size="10.30" text-anchor="start" fill="#3a3a3a" font-family='"Liberation Sans", sans-serif' textLength="217.10" lengthAdjust="spacingAndGlyphs" stroke="#3a3a3a" stroke-width="0.08">Stable limit cycle — time series (RM model, Ω=0.02)</text>
<line x1="633.2" y1="19.60" x2="645" y2="19.60" stroke="#2779b8" stroke-width="1.5"/>
<text x="648.50" y="21.90" font-size="6.60" text-anchor="start" fill="#555" font-family='"Liberation Sans", sans-serif' textLength="20.50" lengthAdjust="spacingAndGlyphs" >X (prey)</text>
<line x1="633.2" y1="29.20" x2="645" y2="29.20" stroke="#ff7f0e" stroke-width="1.5"/>
<text x="648.50" y="31.50" font-size="6.60" text-anchor="start" fill="#555" font-family='"Liberation Sans", sans-serif' textLength="30.90" lengthAdjust="spacingAndGlyphs" >Y (predator)</text>
<text x="53.40" y="269.80" font-size="14.00" text-anchor="start" fill="#1a1a1a" font-family='"Liberation Serif", serif' textLength="16.10" lengthAdjust="spacingAndGlyphs" >(a)</text>
<text x="75.70" y="269.80" font-size="14.00" text-anchor="start" fill="#1a1a1a" font-family='"Liberation Serif", serif' textLength="50.20" lengthAdjust="spacingAndGlyphs" >Damped</text>
<text x="130.80" y="269.80" font-size="14.00" text-anchor="start" fill="#1a1a1a" font-family='"Liberation Serif", serif' textLength="60.70" lengthAdjust="spacingAndGlyphs" >oscillation</text>
<text x="196.80" y="269.80" font-size="14.00" text-anchor="start" fill="#1a1a1a" font-family='"Liberation Serif", serif' textLength="4.40" lengthAdjust="spacingAndGlyphs" >-</text>
<text x="206.40" y="269.80" font-size="14.00" text-anchor="start" fill="#1a1a1a" font-family='"Liberation Serif", serif' textLength="25.40" lengthAdjust="spacingAndGlyphs" >time</text>
<text x="237.60" y="269.80" font-size="14.00" text-anchor="start" fill="#1a1a1a" font-family='"Liberation Serif", serif' textLength="35.40" lengthAdjust="spacingAndGlyphs" >series.</text>
<text x="393.10" y="253.60" font-size="14.00" text-anchor="start" fill="#1a1a1a" font-family='"Liberation Serif", serif' textLength="17.10" lengthAdjust="spacingAndGlyphs" >(b)</text>
<text x="420.00" y="253.60" font-size="14.00" text-anchor="start" fill="#1a1a1a" font-family='"Liberation Serif", serif' textLength="36.60" lengthAdjust="spacingAndGlyphs" >Stable</text>
<text x="466.70" y="253.60" font-size="14.00" text-anchor="start" fill="#1a1a1a" font-family='"Liberation Serif", serif' textLength="26.70" lengthAdjust="spacingAndGlyphs" >limit</text>
<text x="503.90" y="253.60" font-size="14.00" text-anchor="start" fill="#1a1a1a" font-family='"Liberation Serif", serif' textLength="28.20" lengthAdjust="spacingAndGlyphs" >cycle</text>
<text x="541.40" y="253.60" font-size="14.00" text-anchor="start" fill="#1a1a1a" font-family='"Liberation Serif", serif' textLength="4.40" lengthAdjust="spacingAndGlyphs" >-</text>
<text x="555.80" y="253.60" font-size="14.00" text-anchor="start" fill="#1a1a1a" font-family='"Liberation Serif", serif' textLength="26.80" lengthAdjust="spacingAndGlyphs" >time</text>
<text x="591.30" y="253.60" font-size="14.00" text-anchor="start" fill="#1a1a1a" font-family='"Liberation Serif", serif' textLength="32.40" lengthAdjust="spacingAndGlyphs" >series</text>
<text x="632.90" y="253.60" font-size="14.00" text-anchor="start" fill="#1a1a1a" font-family='"Liberation Serif", serif' textLength="28.00" lengthAdjust="spacingAndGlyphs" >(RM</text>
<text x="393.10" y="270.00" font-size="14.00" text-anchor="start" fill="#1a1a1a" font-family='"Liberation Serif", serif' textLength="45.10" lengthAdjust="spacingAndGlyphs" >model).</text>
</svg>
</body></html>
